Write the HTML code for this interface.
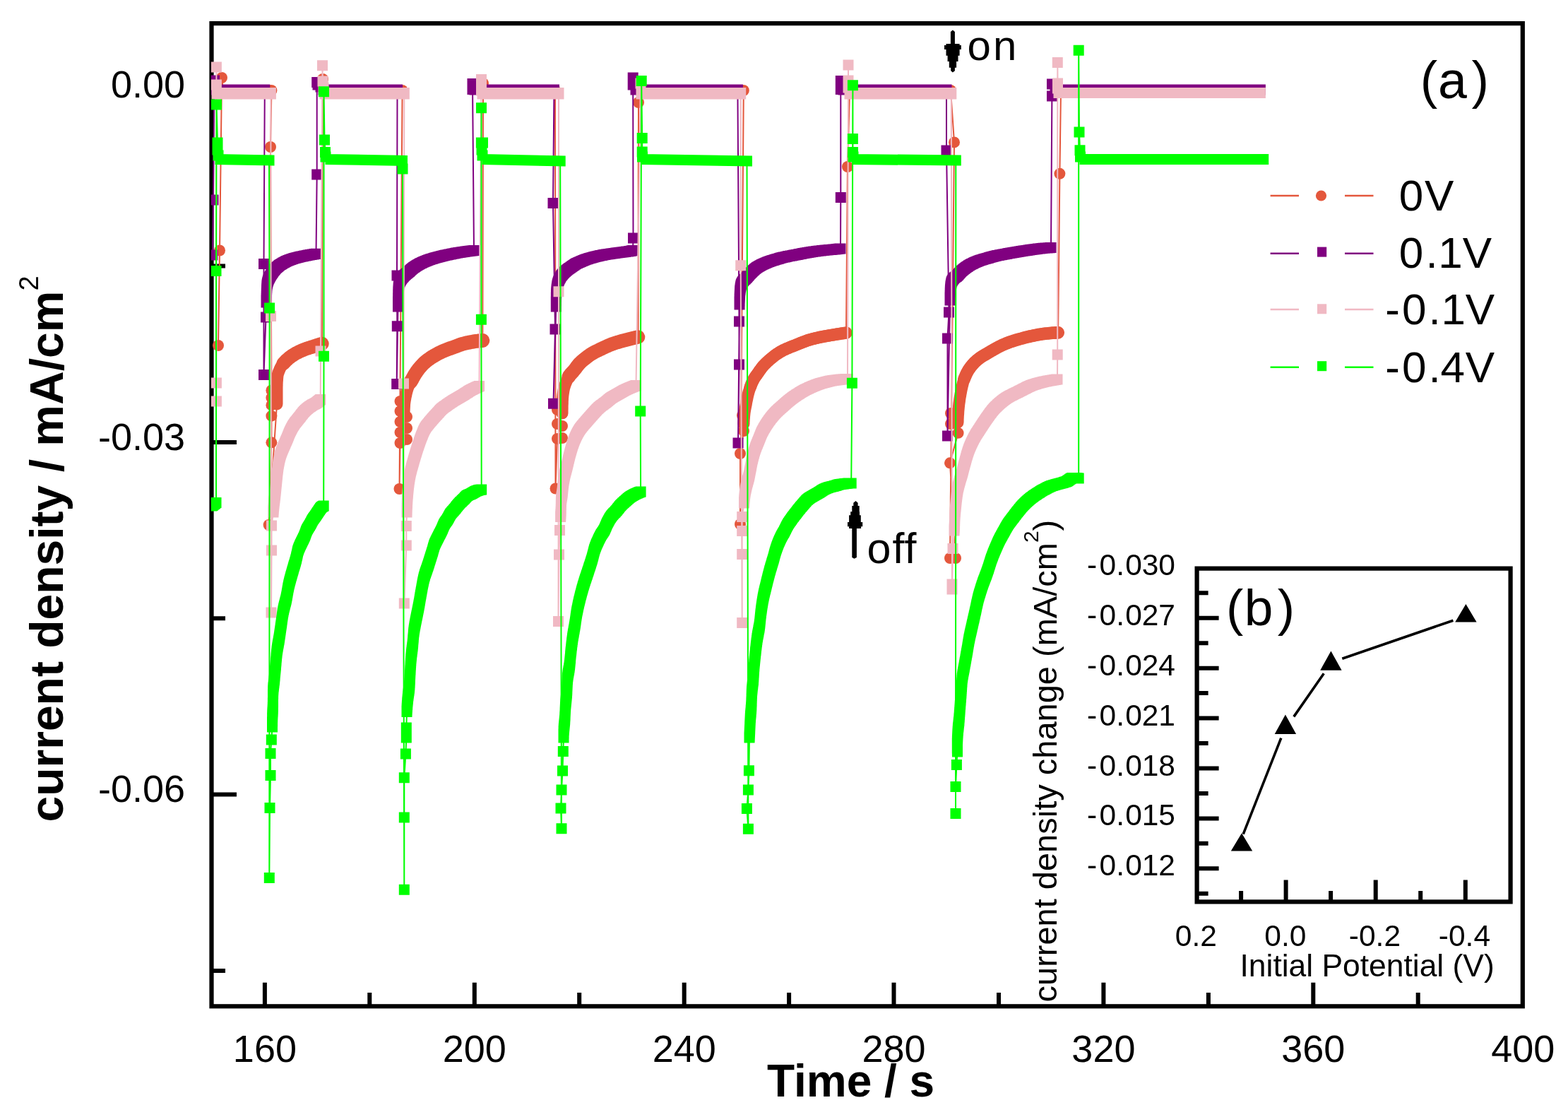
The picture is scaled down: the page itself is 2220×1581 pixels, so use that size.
<!DOCTYPE html>
<html><head><meta charset="utf-8"><title>plot</title>
<style>html,body{margin:0;padding:0;background:#fff;}svg{display:block;}</style>
</head><body>
<svg width="2220" height="1581" viewBox="0 0 2220 1581">
<rect width="2220" height="1581" fill="#fff"/>
<defs><clipPath id="cp"><rect x="298.8" y="33" width="1855" height="1390"/></clipPath></defs>
<rect x="299.5" y="33.1" width="1856.3" height="1391.2" fill="none" stroke="#000" stroke-width="6.2"/>
<path d="M374.9 1424.3V1390.8M523.3 1424.3V1405M671.8 1424.3V1390.8M820.2 1424.3V1405M968.7 1424.3V1390.8M1117.1 1424.3V1405M1265.5 1424.3V1390.8M1414 1424.3V1405M1562.4 1424.3V1390.8M1710.9 1424.3V1405M1859.3 1424.3V1390.8M2007.7 1424.3V1405M299.5 127.3H335M299.5 376.6H319M299.5 626H335M299.5 875.3H319M299.5 1124.6H335M299.5 1373.9H319" stroke="#000" stroke-width="6" fill="none"/>
<g clip-path="url(#cp)"><path d="M309 489 311 354.5 314 110 316 128 384.4 128 383 208 384.4 552.5 384.4 563 384.4 573.4 384.4 588.7 384.4 626.3 380.6 743 392 572 392 571 392 570 392 569 392 568 392 567 392 566 392 564.9 392 563.9 392 562.9 392 561.9 392 560.9 392 559.9 392 558.9 392 557.9 392 556.9 392 555.9 392 554.9 392 553.9 392 552.9 392 551.9 392 550.8 392 549.8 392 548.8 392 547.8 392 546.8 392.1 545.8 392.1 544.8 392.1 543.8 392.2 542.8 392.2 541.7 392.3 540.7 392.3 539.7 392.4 538.7 392.5 537.7 392.6 536.7 392.6 535.7 392.7 534.7 392.8 533.7 392.9 532.7 393 531.7 393.2 530.8 393.4 529.8 393.7 528.8 394 527.9 394.4 526.9 394.7 525.9 395.1 525 395.5 524.1 395.8 523.1 396.2 522.2 396.6 521.2 397.1 520.4 397.6 519.5 398.1 518.6 398.6 517.8 399.2 517 399.8 516.2 400.5 515.4 401.1 514.6 401.8 513.8 402.5 513.1 403.2 512.3 403.9 511.6 404.6 510.9 405.3 510.1 406 509.5 406.8 508.8 407.5 508.1 408.3 507.5 409 506.8 409.8 506.2 410.6 505.6 411.5 505 412.3 504.4 413.1 503.8 414 503.2 414.8 502.7 415.6 502.2 416.5 501.6 417.4 501.1 418.2 500.6 419.1 500.1 420 499.6 420.9 499.1 421.8 498.7 422.7 498.2 423.6 497.8 424.5 497.4 425.4 496.9 426.3 496.5 427.3 496.1 428.2 495.7 429.1 495.4 430.1 495 431 494.6 431.9 494.3 432.9 493.9 433.8 493.6 434.8 493.2 435.7 492.9 436.7 492.6 437.7 492.3 438.6 492 439.6 491.7 440.5 491.4 441.5 491.1 442.5 490.8 443.4 490.4 444.4 490.1 445.3 489.8 446.3 489.5 447.3 489.2 448.2 488.9 449.2 488.6 450.1 488.3 451.1 488 452.1 487.7 453 487.4 454 487.1 454.9 486.8 455.9 486.5 457 112 460 128 569.6 128 565.5 692 566.5 627 576 622 566.5 612 576 606 566.5 597 576 590 566.5 582 566.5 568 572 590 572 589 572 588 572 587 572 586 572.1 585 572.1 584 572.1 582.9 572.1 581.9 572.2 580.9 572.2 579.9 572.3 578.9 572.3 577.9 572.4 576.9 572.4 575.9 572.5 574.9 572.5 573.9 572.6 572.9 572.6 571.9 572.7 570.9 572.8 569.9 573 568.9 573.1 567.9 573.3 566.9 573.4 565.9 573.6 564.9 573.8 564 574 563 574.1 562 574.4 561 574.6 560 574.8 559 575 558 575.2 557.1 575.4 556.1 575.7 555.1 575.9 554.1 576.2 553.2 576.5 552.2 576.7 551.2 577.1 550.3 577.4 549.3 577.7 548.4 578.1 547.4 578.5 546.5 578.9 545.6 579.3 544.6 579.7 543.7 580.1 542.8 580.5 541.9 581 541.1 581.5 540.2 582.1 539.3 582.6 538.5 583.1 537.6 583.6 536.8 584.1 535.9 584.6 535 585 534.1 585.5 533.2 586 532.3 586.5 531.4 587 530.6 587.5 529.7 588 528.9 588.6 528 589.2 527.2 589.7 526.4 590.3 525.5 590.9 524.7 591.5 523.9 592.1 523.1 592.7 522.3 593.4 521.5 594 520.7 594.6 520 595.3 519.2 595.9 518.5 596.6 517.7 597.3 517 598 516.3 598.7 515.5 599.4 514.8 600.2 514.1 600.9 513.4 601.7 512.8 602.4 512.1 603.2 511.4 604 510.8 604.7 510.2 605.5 509.6 606.3 509 607.1 508.4 607.9 507.8 608.8 507.3 609.6 506.7 610.4 506.1 611.3 505.6 612.1 505 613 504.5 613.9 504 614.7 503.5 615.6 502.9 616.5 502.4 617.4 501.9 618.3 501.4 619.1 501 620 500.5 620.9 500 621.8 499.6 622.7 499.1 623.6 498.7 624.5 498.3 625.4 497.9 626.3 497.4 627.2 497 628.2 496.7 629.1 496.3 630 495.9 631 495.5 631.9 495.1 632.8 494.8 633.8 494.4 634.7 494.1 635.7 493.7 636.6 493.4 637.6 493 638.5 492.7 639.5 492.3 640.4 492 641.4 491.7 642.3 491.3 643.2 491 644.2 490.6 645.1 490.3 646.1 489.9 647 489.6 648 489.2 648.9 488.9 649.9 488.5 650.8 488.2 651.8 487.9 652.7 487.5 653.7 487.2 654.6 486.9 655.6 486.6 656.6 486.4 657.5 486.1 658.5 485.9 659.5 485.6 660.4 485.4 661.4 485.2 662.4 485 663.4 484.8 664.4 484.6 665.3 484.4 666.3 484.2 667.3 484.1 668.3 483.9 669.3 483.7 670.3 483.5 671.3 483.4 672.3 483.2 673.2 483.1 674.2 482.9 675.2 482.8 676.2 482.7 677.2 482.5 678.3 482.4 679.3 482.3 680.3 482.2 681.3 482.1 682.3 482.1 683.3 482 684 118 686 128 786 128 786.5 691.5 789 621 796 620 789 600 796 603 789 580 796 585 796 585 796 584 796 583 796 582 796 581 796 580 796.1 579 796.1 578 796.1 576.9 796.1 575.9 796.1 574.9 796.2 573.9 796.2 572.9 796.2 571.9 796.3 570.9 796.3 569.9 796.3 568.9 796.4 567.9 796.4 566.9 796.5 565.9 796.5 564.9 796.6 563.9 796.6 562.9 796.7 561.9 796.8 560.9 796.9 559.9 797 558.9 797.2 557.9 797.3 556.9 797.4 555.9 797.6 554.9 797.8 553.9 797.9 552.9 798.1 551.9 798.3 551 798.5 550 798.7 549 799 548.1 799.3 547.1 799.6 546.1 799.9 545.2 800.3 544.2 800.6 543.3 801 542.4 801.4 541.4 801.8 540.5 802.2 539.6 802.6 538.6 803 537.7 803.4 536.8 803.8 535.9 804.3 535 804.8 534.1 805.3 533.2 805.8 532.4 806.3 531.5 806.9 530.8 807.5 530 808.2 529.2 808.9 528.5 809.6 527.8 810.3 527 811 526.3 811.7 525.5 812.3 524.8 812.9 524 813.6 523.2 814.2 522.4 814.8 521.6 815.4 520.8 816 520 816.6 519.1 817.2 518.3 817.8 517.6 818.5 516.8 819.1 516 819.7 515.2 820.4 514.5 821.1 513.8 821.8 513.1 822.5 512.4 823.3 511.7 824 511.1 824.8 510.4 825.5 509.7 826.3 509.1 827.1 508.5 827.9 507.8 828.7 507.2 829.5 506.6 830.3 506 831.1 505.4 831.9 504.8 832.7 504.2 833.5 503.6 834.3 503 835.1 502.4 836 501.8 836.8 501.3 837.7 500.7 838.5 500.2 839.4 499.7 840.2 499.2 841.1 498.7 842 498.3 842.9 497.8 843.8 497.4 844.7 496.9 845.6 496.5 846.5 496.1 847.5 495.6 848.4 495.2 849.3 494.8 850.2 494.3 851.1 493.9 852 493.5 852.9 493 853.8 492.6 854.7 492.2 855.6 491.7 856.5 491.3 857.4 490.9 858.3 490.4 859.3 490 860.2 489.6 861.1 489.2 862 488.8 862.9 488.4 863.9 488 864.8 487.7 865.7 487.3 866.7 486.9 867.6 486.6 868.6 486.3 869.5 486 870.5 485.6 871.4 485.3 872.4 485 873.3 484.7 874.3 484.4 875.2 484.1 876.2 483.9 877.2 483.6 878.1 483.3 879.1 483 880.1 482.8 881.1 482.5 882 482.2 883 482 884 481.7 884.9 481.4 885.9 481.2 886.9 480.9 887.9 480.7 888.8 480.4 889.8 480.2 890.8 479.9 891.7 479.7 892.7 479.5 893.7 479.2 894.7 479 895.7 478.7 896.6 478.5 897.6 478.3 898.6 478.1 899.6 477.8 900.6 477.6 901.5 477.4 902.5 477.2 903.5 477 904 145 906 128 1052.8 128 1048 742 1048 642 1053 610 1051 588 1053 600 1053 599 1053 598 1053.1 597 1053.1 596 1053.2 595 1053.2 594 1053.3 593 1053.4 592 1053.4 591 1053.5 590 1053.6 589 1053.7 588 1053.8 587 1053.9 586 1054 585 1054.1 584 1054.2 583 1054.4 582 1054.5 581 1054.7 580.1 1054.9 579.1 1055.1 578.1 1055.3 577.1 1055.5 576.1 1055.7 575.1 1055.9 574.1 1056.1 573.2 1056.3 572.2 1056.4 571.2 1056.6 570.2 1056.8 569.2 1057 568.2 1057.2 567.2 1057.4 566.3 1057.6 565.3 1057.8 564.3 1058 563.3 1058.2 562.3 1058.4 561.3 1058.6 560.4 1058.9 559.4 1059.1 558.4 1059.3 557.5 1059.6 556.5 1059.9 555.5 1060.1 554.6 1060.4 553.6 1060.7 552.7 1061 551.7 1061.3 550.7 1061.6 549.8 1061.9 548.8 1062.3 547.9 1062.6 546.9 1063 546 1063.4 545 1063.7 544.1 1064.1 543.2 1064.5 542.2 1064.9 541.3 1065.3 540.4 1065.8 539.5 1066.2 538.6 1066.6 537.7 1067.1 536.9 1067.6 536 1068.1 535.1 1068.6 534.3 1069.2 533.5 1069.8 532.7 1070.4 531.8 1071 531 1071.6 530.2 1072.1 529.4 1072.7 528.6 1073.3 527.7 1073.9 526.9 1074.4 526.1 1075 525.3 1075.6 524.4 1076.2 523.6 1076.8 522.8 1077.4 522 1078 521.2 1078.6 520.4 1079.2 519.6 1079.8 518.8 1080.5 518.1 1081.1 517.3 1081.8 516.6 1082.5 515.9 1083.2 515.2 1083.9 514.5 1084.6 513.8 1085.3 513.1 1086.1 512.4 1086.8 511.7 1087.6 511 1088.3 510.4 1089.1 509.7 1089.8 509 1090.6 508.4 1091.3 507.7 1092.1 507.1 1092.9 506.4 1093.7 505.8 1094.4 505.2 1095.2 504.5 1096 503.9 1096.8 503.3 1097.6 502.7 1098.4 502.1 1099.2 501.6 1100.1 501 1100.9 500.4 1101.7 499.9 1102.6 499.4 1103.4 498.8 1104.3 498.3 1105.2 497.8 1106 497.3 1106.9 496.8 1107.8 496.3 1108.7 495.9 1109.6 495.4 1110.5 495 1111.4 494.6 1112.3 494.2 1113.2 493.7 1114.1 493.3 1115 493 1115.9 492.6 1116.9 492.2 1117.8 491.8 1118.7 491.4 1119.7 491.1 1120.6 490.7 1121.5 490.3 1122.5 490 1123.4 489.6 1124.4 489.2 1125.3 488.9 1126.2 488.5 1127.1 488.1 1128.1 487.7 1129 487.4 1129.9 487 1130.9 486.6 1131.8 486.2 1132.7 485.8 1133.7 485.5 1134.6 485.1 1135.5 484.7 1136.5 484.3 1137.4 484 1138.3 483.6 1139.3 483.3 1140.2 482.9 1141.1 482.6 1142.1 482.3 1143 481.9 1144 481.6 1144.9 481.3 1145.9 481.1 1146.9 480.8 1147.8 480.5 1148.8 480.2 1149.7 480 1150.7 479.7 1151.7 479.5 1152.7 479.2 1153.6 479 1154.6 478.7 1155.6 478.5 1156.6 478.3 1157.5 478.1 1158.5 477.8 1159.5 477.6 1160.5 477.4 1161.5 477.2 1162.4 477 1163.4 476.8 1164.4 476.6 1165.4 476.4 1166.4 476.2 1167.3 476 1168.3 475.9 1169.3 475.7 1170.3 475.5 1171.3 475.3 1172.3 475.2 1173.3 475 1174.3 474.8 1175.3 474.7 1176.2 474.5 1177.2 474.4 1178.2 474.2 1179.2 474 1180.2 473.9 1181.2 473.7 1182.2 473.5 1183.2 473.4 1184.1 473.2 1185.1 473 1186.1 472.9 1187.1 472.7 1188.1 472.6 1189.1 472.4 1190.1 472.2 1191.1 472.1 1192.1 471.9 1193.1 471.8 1194 471.6 1195 471.5 1196 471.3 1197 471.2 1198 471 1200 236 1203 128 1346 128 1351 201.4 1345 790 1353 790 1345 655.3 1356.6 612.8 1346 600 1346 585 1356 588 1356 598 1356 597 1356.1 596 1356.1 595 1356.1 594 1356.2 593 1356.2 592 1356.3 591 1356.3 590 1356.4 589 1356.4 588 1356.5 587 1356.6 586 1356.6 585 1356.7 584 1356.8 583 1356.8 582 1356.9 581 1357 580 1357.1 579 1357.2 578 1357.3 577 1357.4 576 1357.5 575 1357.6 574 1357.7 573.1 1357.8 572.1 1358 571.1 1358.1 570.1 1358.2 569.1 1358.4 568.1 1358.5 567.1 1358.6 566.1 1358.8 565.1 1358.9 564.1 1359.1 563.1 1359.2 562.2 1359.4 561.2 1359.6 560.2 1359.7 559.2 1359.9 558.2 1360.1 557.2 1360.3 556.2 1360.4 555.3 1360.6 554.3 1360.8 553.3 1361 552.3 1361.2 551.3 1361.4 550.3 1361.6 549.4 1361.9 548.4 1362.1 547.4 1362.3 546.4 1362.5 545.4 1362.8 544.5 1363 543.5 1363.3 542.5 1363.5 541.6 1363.8 540.6 1364.1 539.7 1364.4 538.7 1364.7 537.8 1365 536.8 1365.4 535.9 1365.7 534.9 1366.1 534 1366.5 533.1 1366.9 532.1 1367.3 531.2 1367.7 530.3 1368.1 529.4 1368.6 528.5 1369 527.6 1369.5 526.7 1369.9 525.9 1370.4 525 1370.9 524.2 1371.5 523.3 1372 522.5 1372.6 521.6 1373.2 520.8 1373.8 520 1374.4 519.2 1375 518.4 1375.7 517.6 1376.3 516.8 1376.9 516.1 1377.6 515.3 1378.3 514.6 1378.9 513.9 1379.6 513.1 1380.3 512.4 1381.1 511.7 1381.8 511.1 1382.5 510.4 1383.3 509.7 1384.1 509.1 1384.9 508.5 1385.7 507.8 1386.5 507.2 1387.3 506.6 1388.1 506 1388.9 505.5 1389.7 504.9 1390.6 504.4 1391.4 503.9 1392.3 503.4 1393.2 502.9 1394 502.4 1394.9 501.9 1395.8 501.4 1396.7 500.9 1397.5 500.4 1398.4 499.9 1399.2 499.4 1400.1 498.8 1400.9 498.3 1401.8 497.8 1402.6 497.3 1403.5 496.8 1404.4 496.3 1405.2 495.8 1406.1 495.3 1407 494.8 1407.9 494.3 1408.7 493.8 1409.6 493.3 1410.5 492.9 1411.4 492.4 1412.3 491.9 1413.1 491.4 1414 491 1414.9 490.5 1415.8 490.1 1416.7 489.6 1417.6 489.2 1418.5 488.7 1419.4 488.3 1420.3 487.9 1421.2 487.5 1422.2 487.1 1423.1 486.7 1424 486.3 1424.9 485.9 1425.8 485.6 1426.8 485.2 1427.7 484.9 1428.6 484.5 1429.6 484.2 1430.5 483.9 1431.5 483.5 1432.4 483.2 1433.4 482.9 1434.3 482.6 1435.3 482.3 1436.3 482 1437.2 481.7 1438.2 481.4 1439.1 481.1 1440.1 480.9 1441.1 480.6 1442 480.3 1443 480 1443.9 479.8 1444.9 479.5 1445.9 479.2 1446.8 479 1447.8 478.7 1448.8 478.4 1449.7 478.2 1450.7 477.9 1451.7 477.7 1452.6 477.4 1453.6 477.2 1454.6 476.9 1455.6 476.7 1456.5 476.5 1457.5 476.2 1458.5 476 1459.5 475.8 1460.4 475.6 1461.4 475.4 1462.4 475.2 1463.4 475 1464.4 474.8 1465.3 474.6 1466.3 474.4 1467.3 474.2 1468.3 474 1469.3 473.8 1470.3 473.6 1471.2 473.5 1472.2 473.3 1473.2 473.1 1474.2 473 1475.2 472.8 1476.2 472.7 1477.2 472.5 1478.2 472.4 1479.2 472.3 1480.1 472.2 1481.1 472.1 1482.1 472 1483.1 471.9 1484.1 471.8 1485.1 471.7 1486.1 471.6 1487.1 471.5 1488.1 471.4 1489.1 471.3 1490.1 471.2 1491.1 471.2 1492.1 471.1 1493.1 471 1494.1 471 1495.1 470.9 1496.1 470.9 1497.1 470.8 1498.1 470.8 1500.4 245.8 1502 128 1784 128" fill="none" stroke="#E4573C" stroke-width="2"/>
<path d="M316 128L384.4 128" stroke="#E4573C" stroke-width="16" stroke-linecap="round" fill="none"/>
<path d="M460 128L569.6 128" stroke="#E4573C" stroke-width="16" stroke-linecap="round" fill="none"/>
<path d="M686 128L786 128" stroke="#E4573C" stroke-width="16" stroke-linecap="round" fill="none"/>
<path d="M906 128L1052.8 128" stroke="#E4573C" stroke-width="16" stroke-linecap="round" fill="none"/>
<path d="M1203 128L1346 128" stroke="#E4573C" stroke-width="16" stroke-linecap="round" fill="none"/>
<path d="M1502 128L1784 128" stroke="#E4573C" stroke-width="16" stroke-linecap="round" fill="none"/>
<path d="M392 572 392 570 392 568 392 566 392 563.9 392 561.9 392 559.9 392 557.9 392 555.9 392 553.9 392 551.9 392 549.8 392 547.8 392.1 545.8 392.1 543.8 392.2 541.7 392.3 539.7 392.5 537.7 392.6 535.7 392.8 533.7 393 531.7 393.4 529.8 394 527.9 394.7 525.9 395.5 524.1 396.2 522.2 397.1 520.4 398.1 518.6 399.2 517 400.5 515.4 401.8 513.8 403.2 512.3 404.6 510.9 406 509.5 407.5 508.1 409 506.8 410.6 505.6 412.3 504.4 414 503.2 415.6 502.2 417.4 501.1 419.1 500.1 420.9 499.1 422.7 498.2 424.5 497.4 426.3 496.5 428.2 495.7 430.1 495 431.9 494.3 433.8 493.6 435.7 492.9 437.7 492.3 439.6 491.7 441.5 491.1 443.4 490.4 445.3 489.8 447.3 489.2 449.2 488.6 451.1 488 453 487.4 454.9 486.8 455.9 486.5" stroke="#E4573C" stroke-width="17" stroke-linecap="round" stroke-linejoin="round" fill="none"/>
<path d="M401.1 514.6 402.5 513.1 403.9 511.6 405.3 510.1 406.8 508.8 408.3 507.5 409.8 506.2 411.5 505 413.1 503.8 414.8 502.7 416.5 501.6 418.2 500.6 420 499.6 421.8 498.7 423.6 497.8 425.4 496.9 427.3 496.1 429.1 495.4 431 494.6 432.9 493.9 434.8 493.2 436.7 492.6 438.6 492 440.5 491.4 442.5 490.8 444.4 490.1 446.3 489.5 448.2 488.9 450.1 488.3 452.1 487.7 454 487.1 455.9 486.5 455.9 486.5" stroke="#E4573C" stroke-width="19.5" stroke-linecap="round" stroke-linejoin="round" fill="none"/>
<path d="M572 590 572 588 572 586 572.1 584 572.1 581.9 572.2 579.9 572.3 577.9 572.4 575.9 572.5 573.9 572.6 571.9 572.8 569.9 573.1 567.9 573.4 565.9 573.8 564 574.1 562 574.6 560 575 558 575.4 556.1 575.9 554.1 576.5 552.2 577.1 550.3 577.7 548.4 578.5 546.5 579.3 544.6 580.1 542.8 581 541.1 582.1 539.3 583.1 537.6 584.1 535.9 585 534.1 586 532.3 587 530.6 588 528.9 589.2 527.2 590.3 525.5 591.5 523.9 592.7 522.3 594 520.7 595.3 519.2 596.6 517.7 598 516.3 599.4 514.8 600.9 513.4 602.4 512.1 604 510.8 605.5 509.6 607.1 508.4 608.8 507.3 610.4 506.1 612.1 505 613.9 504 615.6 502.9 617.4 501.9 619.1 501 620.9 500 622.7 499.1 624.5 498.3 626.3 497.4 628.2 496.7 630 495.9 631.9 495.1 633.8 494.4 635.7 493.7 637.6 493 639.5 492.3 641.4 491.7 643.2 491 645.1 490.3 647 489.6 648.9 488.9 650.8 488.2 652.7 487.5 654.6 486.9 656.6 486.4 658.5 485.9 660.4 485.4 662.4 485 664.4 484.6 666.3 484.2 668.3 483.9 670.3 483.5 672.3 483.2 674.2 482.9 676.2 482.7 678.3 482.4 680.3 482.2 682.3 482.1 683.3 482" stroke="#E4573C" stroke-width="17" stroke-linecap="round" stroke-linejoin="round" fill="none"/>
<path d="M581 541.1 582.1 539.3 583.1 537.6 584.1 535.9 585 534.1 586 532.3 587 530.6 588 528.9 589.2 527.2 590.3 525.5 591.5 523.9 592.7 522.3 594 520.7 595.3 519.2 596.6 517.7 598 516.3 599.4 514.8 600.9 513.4 602.4 512.1 604 510.8 605.5 509.6 607.1 508.4 608.8 507.3 610.4 506.1 612.1 505 613.9 504 615.6 502.9 617.4 501.9 619.1 501 620.9 500 622.7 499.1 624.5 498.3 626.3 497.4 628.2 496.7 630 495.9 631.9 495.1 633.8 494.4 635.7 493.7 637.6 493 639.5 492.3 641.4 491.7 643.2 491 645.1 490.3 647 489.6 648.9 488.9 650.8 488.2 652.7 487.5 654.6 486.9 656.6 486.4 658.5 485.9 660.4 485.4 662.4 485 664.4 484.6 666.3 484.2 668.3 483.9 670.3 483.5 672.3 483.2 674.2 482.9 676.2 482.7 678.3 482.4 680.3 482.2 682.3 482.1 683.3 482" stroke="#E4573C" stroke-width="20" stroke-linecap="round" stroke-linejoin="round" fill="none"/>
<path d="M796 585 796 583 796 581 796.1 579 796.1 576.9 796.1 574.9 796.2 572.9 796.3 570.9 796.3 568.9 796.4 566.9 796.5 564.9 796.6 562.9 796.8 560.9 797 558.9 797.3 556.9 797.6 554.9 797.9 552.9 798.3 551 798.7 549 799.3 547.1 799.9 545.2 800.6 543.3 801.4 541.4 802.2 539.6 803 537.7 803.8 535.9 804.8 534.1 805.8 532.4 806.9 530.8 808.2 529.2 809.6 527.8 811 526.3 812.3 524.8 813.6 523.2 814.8 521.6 816 520 817.2 518.3 818.5 516.8 819.7 515.2 821.1 513.8 822.5 512.4 824 511.1 825.5 509.7 827.1 508.5 828.7 507.2 830.3 506 831.9 504.8 833.5 503.6 835.1 502.4 836.8 501.3 838.5 500.2 840.2 499.2 842 498.3 843.8 497.4 845.6 496.5 847.5 495.6 849.3 494.8 851.1 493.9 852.9 493 854.7 492.2 856.5 491.3 858.3 490.4 860.2 489.6 862 488.8 863.9 488 865.7 487.3 867.6 486.6 869.5 486 871.4 485.3 873.3 484.7 875.2 484.1 877.2 483.6 879.1 483 881.1 482.5 883 482 884.9 481.4 886.9 480.9 888.8 480.4 890.8 479.9 892.7 479.5 894.7 479 896.6 478.5 898.6 478.1 900.6 477.6 902.5 477.2 903.5 477" stroke="#E4573C" stroke-width="17" stroke-linecap="round" stroke-linejoin="round" fill="none"/>
<path d="M805.3 533.2 806.3 531.5 807.5 530 808.9 528.5 810.3 527 811.7 525.5 812.9 524 814.2 522.4 815.4 520.8 816.6 519.1 817.8 517.6 819.1 516 820.4 514.5 821.8 513.1 823.3 511.7 824.8 510.4 826.3 509.1 827.9 507.8 829.5 506.6 831.1 505.4 832.7 504.2 834.3 503 836 501.8 837.7 500.7 839.4 499.7 841.1 498.7 842.9 497.8 844.7 496.9 846.5 496.1 848.4 495.2 850.2 494.3 852 493.5 853.8 492.6 855.6 491.7 857.4 490.9 859.3 490 861.1 489.2 862.9 488.4 864.8 487.7 866.7 486.9 868.6 486.3 870.5 485.6 872.4 485 874.3 484.4 876.2 483.9 878.1 483.3 880.1 482.8 882 482.2 884 481.7 885.9 481.2 887.9 480.7 889.8 480.2 891.7 479.7 893.7 479.2 895.7 478.7 897.6 478.3 899.6 477.8 901.5 477.4 903.5 477 903.5 477" stroke="#E4573C" stroke-width="19.6" stroke-linecap="round" stroke-linejoin="round" fill="none"/>
<path d="M1053 600 1053 598 1053.1 596 1053.2 594 1053.4 592 1053.5 590 1053.7 588 1053.9 586 1054.1 584 1054.4 582 1054.7 580.1 1055.1 578.1 1055.5 576.1 1055.9 574.1 1056.3 572.2 1056.6 570.2 1057 568.2 1057.4 566.3 1057.8 564.3 1058.2 562.3 1058.6 560.4 1059.1 558.4 1059.6 556.5 1060.1 554.6 1060.7 552.7 1061.3 550.7 1061.9 548.8 1062.6 546.9 1063.4 545 1064.1 543.2 1064.9 541.3 1065.8 539.5 1066.6 537.7 1067.6 536 1068.6 534.3 1069.8 532.7 1071 531 1072.1 529.4 1073.3 527.7 1074.4 526.1 1075.6 524.4 1076.8 522.8 1078 521.2 1079.2 519.6 1080.5 518.1 1081.8 516.6 1083.2 515.2 1084.6 513.8 1086.1 512.4 1087.6 511 1089.1 509.7 1090.6 508.4 1092.1 507.1 1093.7 505.8 1095.2 504.5 1096.8 503.3 1098.4 502.1 1100.1 501 1101.7 499.9 1103.4 498.8 1105.2 497.8 1106.9 496.8 1108.7 495.9 1110.5 495 1112.3 494.2 1114.1 493.3 1115.9 492.6 1117.8 491.8 1119.7 491.1 1121.5 490.3 1123.4 489.6 1125.3 488.9 1127.1 488.1 1129 487.4 1130.9 486.6 1132.7 485.8 1134.6 485.1 1136.5 484.3 1138.3 483.6 1140.2 482.9 1142.1 482.3 1144 481.6 1145.9 481.1 1147.8 480.5 1149.7 480 1151.7 479.5 1153.6 479 1155.6 478.5 1157.5 478.1 1159.5 477.6 1161.5 477.2 1163.4 476.8 1165.4 476.4 1167.3 476 1169.3 475.7 1171.3 475.3 1173.3 475 1175.3 474.7 1177.2 474.4 1179.2 474 1181.2 473.7 1183.2 473.4 1185.1 473 1187.1 472.7 1189.1 472.4 1191.1 472.1 1193.1 471.8 1195 471.5 1197 471.2 1198 471" stroke="#E4573C" stroke-width="17" stroke-linecap="round" stroke-linejoin="round" fill="none"/>
<path d="M1062.3 547.9 1063 546 1063.7 544.1 1064.5 542.2 1065.3 540.4 1066.2 538.6 1067.1 536.9 1068.1 535.1 1069.2 533.5 1070.4 531.8 1071.6 530.2 1072.7 528.6 1073.9 526.9 1075 525.3 1076.2 523.6 1077.4 522 1078.6 520.4 1079.8 518.8 1081.1 517.3 1082.5 515.9 1083.9 514.5 1085.3 513.1 1086.8 511.7 1088.3 510.4 1089.8 509 1091.3 507.7 1092.9 506.4 1094.4 505.2 1096 503.9 1097.6 502.7 1099.2 501.6 1100.9 500.4 1102.6 499.4 1104.3 498.3 1106 497.3 1107.8 496.3 1109.6 495.4 1111.4 494.6 1113.2 493.7 1115 493 1116.9 492.2 1118.7 491.4 1120.6 490.7 1122.5 490 1124.4 489.2 1126.2 488.5 1128.1 487.7 1129.9 487 1131.8 486.2 1133.7 485.5 1135.5 484.7 1137.4 484 1139.3 483.3 1141.1 482.6 1143 481.9 1144.9 481.3 1146.9 480.8 1148.8 480.2 1150.7 479.7 1152.7 479.2 1154.6 478.7 1156.6 478.3 1158.5 477.8 1160.5 477.4 1162.4 477 1164.4 476.6 1166.4 476.2 1168.3 475.9 1170.3 475.5 1172.3 475.2 1174.3 474.8 1176.2 474.5 1178.2 474.2 1180.2 473.9 1182.2 473.5 1184.1 473.2 1186.1 472.9 1188.1 472.6 1190.1 472.2 1192.1 471.9 1194 471.6 1196 471.3 1198 471 1198 471" stroke="#E4573C" stroke-width="17.4" stroke-linecap="round" stroke-linejoin="round" fill="none"/>
<path d="M1356 598 1356.1 596 1356.1 594 1356.2 592 1356.3 590 1356.4 588 1356.6 586 1356.7 584 1356.8 582 1357 580 1357.2 578 1357.4 576 1357.6 574 1357.8 572.1 1358.1 570.1 1358.4 568.1 1358.6 566.1 1358.9 564.1 1359.2 562.2 1359.6 560.2 1359.9 558.2 1360.3 556.2 1360.6 554.3 1361 552.3 1361.4 550.3 1361.9 548.4 1362.3 546.4 1362.8 544.5 1363.3 542.5 1363.8 540.6 1364.4 538.7 1365 536.8 1365.7 534.9 1366.5 533.1 1367.3 531.2 1368.1 529.4 1369 527.6 1369.9 525.9 1370.9 524.2 1372 522.5 1373.2 520.8 1374.4 519.2 1375.7 517.6 1376.9 516.1 1378.3 514.6 1379.6 513.1 1381.1 511.7 1382.5 510.4 1384.1 509.1 1385.7 507.8 1387.3 506.6 1388.9 505.5 1390.6 504.4 1392.3 503.4 1394 502.4 1395.8 501.4 1397.5 500.4 1399.2 499.4 1400.9 498.3 1402.6 497.3 1404.4 496.3 1406.1 495.3 1407.9 494.3 1409.6 493.3 1411.4 492.4 1413.1 491.4 1414.9 490.5 1416.7 489.6 1418.5 488.7 1420.3 487.9 1422.2 487.1 1424 486.3 1425.8 485.6 1427.7 484.9 1429.6 484.2 1431.5 483.5 1433.4 482.9 1435.3 482.3 1437.2 481.7 1439.1 481.1 1441.1 480.6 1443 480 1444.9 479.5 1446.8 479 1448.8 478.4 1450.7 477.9 1452.6 477.4 1454.6 476.9 1456.5 476.5 1458.5 476 1460.4 475.6 1462.4 475.2 1464.4 474.8 1466.3 474.4 1468.3 474 1470.3 473.6 1472.2 473.3 1474.2 473 1476.2 472.7 1478.2 472.4 1480.1 472.2 1482.1 472 1484.1 471.8 1486.1 471.6 1488.1 471.4 1490.1 471.2 1492.1 471.1 1494.1 471 1496.1 470.9 1498.1 470.8 1498.1 470.8" stroke="#E4573C" stroke-width="17" stroke-linecap="round" stroke-linejoin="round" fill="none"/>
<path d="M1365 536.8 1365.7 534.9 1366.5 533.1 1367.3 531.2 1368.1 529.4 1369 527.6 1369.9 525.9 1370.9 524.2 1372 522.5 1373.2 520.8 1374.4 519.2 1375.7 517.6 1376.9 516.1 1378.3 514.6 1379.6 513.1 1381.1 511.7 1382.5 510.4 1384.1 509.1 1385.7 507.8 1387.3 506.6 1388.9 505.5 1390.6 504.4 1392.3 503.4 1394 502.4 1395.8 501.4 1397.5 500.4 1399.2 499.4 1400.9 498.3 1402.6 497.3 1404.4 496.3 1406.1 495.3 1407.9 494.3 1409.6 493.3 1411.4 492.4 1413.1 491.4 1414.9 490.5 1416.7 489.6 1418.5 488.7 1420.3 487.9 1422.2 487.1 1424 486.3 1425.8 485.6 1427.7 484.9 1429.6 484.2 1431.5 483.5 1433.4 482.9 1435.3 482.3 1437.2 481.7 1439.1 481.1 1441.1 480.6 1443 480 1444.9 479.5 1446.8 479 1448.8 478.4 1450.7 477.9 1452.6 477.4 1454.6 476.9 1456.5 476.5 1458.5 476 1460.4 475.6 1462.4 475.2 1464.4 474.8 1466.3 474.4 1468.3 474 1470.3 473.6 1472.2 473.3 1474.2 473 1476.2 472.7 1478.2 472.4 1480.1 472.2 1482.1 472 1484.1 471.8 1486.1 471.6 1488.1 471.4 1490.1 471.2 1492.1 471.1 1494.1 471 1496.1 470.9 1498.1 470.8 1498.1 470.8" stroke="#E4573C" stroke-width="17.8" stroke-linecap="round" stroke-linejoin="round" fill="none"/>
<g fill="#E4573C"><circle cx="309" cy="489" r="8"/><circle cx="311" cy="354.5" r="8"/><circle cx="314" cy="110" r="8"/><circle cx="383" cy="208" r="8"/><circle cx="384.4" cy="552.5" r="8"/><circle cx="384.4" cy="563" r="8"/><circle cx="384.4" cy="573.4" r="8"/><circle cx="384.4" cy="588.7" r="8"/><circle cx="384.4" cy="626.3" r="8"/><circle cx="380.6" cy="743" r="8"/><circle cx="457" cy="112" r="8"/><circle cx="565.5" cy="692" r="8"/><circle cx="566.5" cy="627" r="8"/><circle cx="576" cy="622" r="8"/><circle cx="566.5" cy="612" r="8"/><circle cx="576" cy="606" r="8"/><circle cx="566.5" cy="597" r="8"/><circle cx="576" cy="590" r="8"/><circle cx="566.5" cy="582" r="8"/><circle cx="566.5" cy="568" r="8"/><circle cx="684" cy="118" r="8"/><circle cx="786.5" cy="691.5" r="8"/><circle cx="789" cy="621" r="8"/><circle cx="796" cy="620" r="8"/><circle cx="789" cy="600" r="8"/><circle cx="796" cy="603" r="8"/><circle cx="789" cy="580" r="8"/><circle cx="796" cy="585" r="8"/><circle cx="904" cy="145" r="8"/><circle cx="1048" cy="742" r="8"/><circle cx="1048" cy="642" r="8"/><circle cx="1053" cy="610" r="8"/><circle cx="1051" cy="588" r="8"/><circle cx="1200" cy="236" r="8"/><circle cx="1351" cy="201.4" r="8"/><circle cx="1345" cy="790" r="8"/><circle cx="1353" cy="790" r="8"/><circle cx="1345" cy="655.3" r="8"/><circle cx="1356.6" cy="612.8" r="8"/><circle cx="1346" cy="600" r="8"/><circle cx="1346" cy="585" r="8"/><circle cx="1356" cy="588" r="8"/><circle cx="1500.4" cy="245.8" r="8"/></g>
<path d="M301 361 302 283 303.5 114 304 127 374.8 127 373.5 373.5 373.5 530.5 376.5 449 377 428 377 427 377 426 377 425 377.1 424 377.1 423 377.1 422 377.2 421 377.2 420 377.2 419 377.3 418 377.3 417 377.3 416 377.4 415 377.4 414 377.5 413 377.5 412 377.5 411 377.6 410 377.6 409 377.7 408 377.8 407 377.8 406 377.9 405 378 404 378.1 403 378.3 402 378.5 401 378.7 400 379 399.1 379.3 398.1 379.6 397.2 379.9 396.3 380.3 395.3 380.7 394.4 381.2 393.5 381.6 392.6 382.1 391.7 382.6 390.8 383.1 390 383.6 389.1 384.1 388.3 384.7 387.4 385.2 386.6 385.8 385.7 386.4 384.9 386.9 384.1 387.6 383.3 388.2 382.5 388.8 381.7 389.5 381 390.1 380.2 390.8 379.5 391.6 378.8 392.3 378.2 393.1 377.5 393.8 376.9 394.6 376.2 395.4 375.6 396.2 375 397.1 374.5 397.9 373.9 398.7 373.4 399.6 372.9 400.5 372.3 401.3 371.9 402.2 371.4 403.1 370.9 404 370.5 404.9 370 405.8 369.6 406.7 369.2 407.7 368.8 408.6 368.5 409.5 368.1 410.5 367.7 411.4 367.4 412.3 367.1 413.3 366.7 414.2 366.4 415.2 366.1 416.2 365.8 417.1 365.6 418.1 365.3 419 365 420 364.8 421 364.5 422 364.3 422.9 364 423.9 363.8 424.9 363.5 425.8 363.3 426.8 363.1 427.8 362.9 428.8 362.7 429.8 362.5 430.7 362.3 431.7 362.1 432.7 361.9 433.7 361.7 434.7 361.5 435.7 361.3 436.6 361.1 437.6 360.9 438.6 360.7 439.6 360.6 440.6 360.4 441.6 360.2 442.6 360.1 443.5 359.9 444.5 359.8 445.5 359.6 446.5 359.4 447.5 359.3 448.7 247 448.7 116.5 450 120 454 123 458 127 562.5 127 562 390 562.3 461.7 561.7 543.4 563.5 434 563.5 433 563.5 432 563.5 431 563.5 430 563.5 429 563.5 428 563.5 427 563.6 426 563.6 425 563.6 424 563.6 423 563.6 422 563.7 421 563.7 420 563.7 419 563.7 418 563.7 417 563.8 416 563.8 415 563.8 414 563.9 413 563.9 412 564 410.9 564.1 409.9 564.1 408.9 564.2 407.9 564.3 406.9 564.4 405.9 564.6 404.9 564.7 403.9 564.8 403 565 402 565.2 401.1 565.5 400.1 565.9 399.2 566.3 398.3 566.8 397.3 567.3 396.5 567.8 395.6 568.4 394.8 568.9 394 569.5 393.2 570.2 392.4 570.9 391.7 571.6 390.9 572.3 390.2 573 389.5 573.7 388.8 574.5 388.2 575.2 387.5 576 386.9 576.8 386.3 577.6 385.7 578.4 385 579.1 384.4 579.9 383.7 580.6 383 581.4 382.3 582.1 381.6 582.8 381 583.6 380.3 584.4 379.7 585.2 379.1 586 378.5 586.8 377.9 587.6 377.4 588.5 376.8 589.3 376.3 590.2 375.8 591 375.2 591.9 374.7 592.8 374.2 593.6 373.7 594.5 373.3 595.4 372.8 596.3 372.4 597.2 371.9 598.1 371.5 599 371.1 599.9 370.7 600.8 370.3 601.8 369.9 602.7 369.5 603.6 369.2 604.6 368.8 605.5 368.5 606.4 368.1 607.4 367.8 608.3 367.4 609.3 367.1 610.2 366.8 611.2 366.5 612.1 366.2 613.1 365.9 614.1 365.6 615 365.3 616 365 616.9 364.7 617.9 364.5 618.9 364.2 619.8 363.9 620.8 363.7 621.8 363.4 622.7 363.2 623.7 362.9 624.7 362.7 625.6 362.5 626.6 362.2 627.6 362 628.6 361.8 629.6 361.5 630.5 361.3 631.5 361.1 632.5 360.9 633.5 360.7 634.4 360.5 635.4 360.3 636.4 360.1 637.4 359.9 638.4 359.7 639.3 359.5 640.3 359.3 641.3 359.1 642.3 358.9 643.3 358.7 644.3 358.5 645.2 358.3 646.2 358.1 647.2 358 648.2 357.8 649.2 357.6 650.2 357.5 651.2 357.3 652.1 357.2 653.1 357 654.1 356.8 655.1 356.7 656.1 356.5 657.1 356.4 658.1 356.3 659.1 356.1 660.1 356 661.1 355.8 662.1 355.7 663 355.6 664 355.4 665 355.3 666 355.2 667 355.1 668 354.9 669 354.8 670 354.7 671 354.6 669 118.5 669 126.5 672 127 784.5 127 783 287.5 786 466 783.5 571.3 787.3 434 787.3 433 787.3 432 787.3 431 787.3 430 787.3 429 787.3 428 787.3 427 787.4 426 787.4 425 787.4 424 787.4 423 787.4 422 787.4 421 787.5 420 787.5 419 787.5 418 787.5 417 787.6 416 787.6 415 787.7 414 787.8 413 787.9 412 788 411 788.1 410 788.2 409 788.4 408 788.5 407 788.7 406 788.8 405.1 789 404.1 789.2 403.1 789.4 402.1 789.7 401.2 790 400.2 790.3 399.3 790.7 398.3 791 397.4 791.4 396.5 791.8 395.5 792.2 394.6 792.7 393.7 793.2 392.9 793.7 392 794.2 391.1 794.8 390.3 795.4 389.5 796 388.7 796.6 388 797.3 387.2 798 386.5 798.7 385.8 799.4 385.1 800.1 384.4 800.9 383.7 801.7 383.1 802.4 382.5 803.2 381.8 804 381.2 804.8 380.6 805.6 380 806.4 379.4 807.3 378.9 808.1 378.3 808.9 377.7 809.7 377.2 810.6 376.6 811.4 376 812.2 375.4 813 374.9 813.8 374.3 814.7 373.8 815.5 373.3 816.4 372.8 817.3 372.4 818.2 372 819.2 371.6 820.1 371.2 821 370.8 821.9 370.4 822.8 370 823.8 369.6 824.7 369.2 825.6 368.8 826.5 368.4 827.4 368 828.4 367.7 829.3 367.3 830.3 367 831.2 366.7 832.2 366.4 833.1 366.1 834.1 365.8 835 365.5 836 365.2 836.9 364.9 837.9 364.7 838.9 364.4 839.8 364.1 840.8 363.9 841.8 363.6 842.7 363.4 843.7 363.1 844.7 362.9 845.7 362.7 846.6 362.4 847.6 362.2 848.6 362 849.6 361.8 850.5 361.6 851.5 361.4 852.5 361.2 853.5 361 854.5 360.8 855.4 360.6 856.4 360.4 857.4 360.3 858.4 360.1 859.4 360 860.4 359.8 861.4 359.7 862.4 359.5 863.3 359.4 864.3 359.2 865.3 359.1 866.3 359 867.3 358.8 868.3 358.7 869.3 358.5 870.3 358.4 871.3 358.3 872.3 358.1 873.3 358 874.2 357.8 875.2 357.7 876.2 357.6 877.2 357.4 878.2 357.3 879.2 357.2 880.2 357 881.2 356.9 882.2 356.8 883.2 356.7 884.2 356.5 885.2 356.4 886.1 356.3 887.1 356.1 888.1 356 889.1 355.9 890.1 355.7 891.1 355.6 892.1 355.4 893.1 355.2 894 355 895 354.8 896 354.6 896.5 337 896.2 110 896.2 120 900 127 1044.4 127 1046.5 455 1046.5 516 1045 627 1047 431 1047 430 1047 429 1047 428 1047 427 1047.1 426 1047.1 425 1047.1 424 1047.1 423 1047.2 422 1047.2 421 1047.3 420 1047.3 419 1047.4 418 1047.4 417 1047.5 416 1047.5 415 1047.6 414 1047.6 412.9 1047.7 411.9 1047.8 410.9 1048 409.9 1048.1 408.9 1048.2 407.9 1048.4 406.9 1048.6 405.9 1048.8 405 1049 404 1049.3 403.1 1049.6 402.1 1050.1 401.2 1050.5 400.3 1051.1 399.4 1051.6 398.6 1052.2 397.8 1052.8 397 1053.5 396.3 1054.2 395.6 1055 394.9 1055.7 394.2 1056.5 393.5 1057.2 392.8 1057.8 392.1 1058.5 391.3 1059.2 390.6 1059.8 389.8 1060.5 389 1061.1 388.3 1061.8 387.5 1062.5 386.8 1063.2 386.1 1063.9 385.4 1064.6 384.7 1065.3 384 1066.1 383.3 1066.8 382.6 1067.6 381.9 1068.3 381.2 1069.1 380.6 1069.9 379.9 1070.7 379.3 1071.5 378.8 1072.3 378.2 1073.1 377.7 1074 377.2 1074.8 376.7 1075.7 376.2 1076.6 375.7 1077.5 375.2 1078.4 374.8 1079.3 374.3 1080.2 373.9 1081.1 373.5 1082.1 373.1 1083 372.7 1083.9 372.3 1084.8 371.9 1085.8 371.5 1086.7 371.1 1087.6 370.8 1088.6 370.4 1089.5 370.1 1090.4 369.7 1091.4 369.4 1092.3 369.1 1093.3 368.8 1094.3 368.5 1095.2 368.2 1096.2 367.9 1097.1 367.6 1098.1 367.3 1099.1 367 1100 366.8 1101 366.5 1102 366.2 1102.9 365.9 1103.9 365.6 1104.8 365.3 1105.8 365.1 1106.8 364.8 1107.8 364.6 1108.7 364.3 1109.7 364.1 1110.7 363.9 1111.7 363.7 1112.6 363.4 1113.6 363.2 1114.6 363 1115.6 362.8 1116.6 362.6 1117.6 362.4 1118.5 362.3 1119.5 362.1 1120.5 361.9 1121.5 361.7 1122.5 361.5 1123.5 361.3 1124.5 361.1 1125.4 360.9 1126.4 360.8 1127.4 360.6 1128.4 360.4 1129.4 360.2 1130.4 360 1131.4 359.8 1132.3 359.6 1133.3 359.4 1134.3 359.2 1135.3 359 1136.3 358.8 1137.3 358.6 1138.2 358.4 1139.2 358.2 1140.2 358 1141.2 357.9 1142.2 357.7 1143.2 357.5 1144.2 357.4 1145.2 357.2 1146.1 357 1147.1 356.9 1148.1 356.7 1149.1 356.6 1150.1 356.4 1151.1 356.3 1152.1 356.1 1153.1 356 1154.1 355.9 1155.1 355.7 1156.1 355.6 1157.1 355.5 1158.1 355.3 1159.1 355.2 1160.1 355.1 1161.1 355 1162.1 354.9 1163 354.7 1164 354.6 1165 354.5 1166 354.4 1167 354.3 1168 354.2 1169 354.1 1170 354 1171 353.9 1172 353.8 1173 353.7 1174 353.6 1175 353.6 1176 353.5 1177 353.4 1178 353.3 1179 353.2 1180 353.1 1181 353 1182 352.9 1183 352.8 1184 352.7 1185 352.6 1186 352.4 1187 352.3 1188 352.2 1189 352.1 1190 352 1190.3 279.6 1190.3 114.5 1190.3 126.5 1194 127 1340 127 1340 213 1343.5 442 1341.5 479 1341.5 617 1345 425 1345 424 1345 423 1345 422 1345 421 1345.1 420 1345.1 419 1345.1 418 1345.2 416.9 1345.2 415.9 1345.2 414.9 1345.3 413.9 1345.3 412.9 1345.4 411.9 1345.4 410.9 1345.5 409.9 1345.6 408.9 1345.7 407.9 1345.8 406.9 1345.9 405.9 1346 404.9 1346.2 403.9 1346.4 402.9 1346.6 401.9 1346.8 400.9 1347 400 1347.3 399.1 1347.7 398.1 1348.2 397.2 1348.7 396.3 1349.3 395.5 1349.9 394.7 1350.5 394 1351.2 393.3 1352 392.7 1352.9 392.1 1353.7 391.5 1354.5 390.9 1355.3 390.2 1356 389.5 1356.7 388.8 1357.3 388 1358 387.3 1358.6 386.5 1359.3 385.7 1360 385 1360.7 384.3 1361.4 383.6 1362.2 383 1362.9 382.3 1363.7 381.7 1364.5 381 1365.3 380.4 1366.1 379.8 1366.9 379.2 1367.7 378.6 1368.5 378 1369.4 377.4 1370.2 376.9 1371 376.3 1371.9 375.8 1372.8 375.3 1373.6 374.8 1374.5 374.3 1375.4 373.8 1376.3 373.4 1377.2 372.9 1378.1 372.5 1379 372.1 1379.9 371.6 1380.8 371.2 1381.7 370.8 1382.7 370.4 1383.6 370 1384.5 369.7 1385.5 369.3 1386.4 369 1387.4 368.6 1388.3 368.3 1389.3 368 1390.2 367.7 1391.2 367.4 1392.2 367.1 1393.1 366.8 1394.1 366.6 1395.1 366.3 1396 366 1397 365.8 1398 365.5 1398.9 365.2 1399.9 364.9 1400.8 364.6 1401.8 364.3 1402.8 364 1403.7 363.7 1404.7 363.4 1405.7 363.2 1406.6 362.9 1407.6 362.7 1408.6 362.5 1409.6 362.3 1410.5 362 1411.5 361.8 1412.5 361.6 1413.5 361.4 1414.5 361.2 1415.5 361 1416.5 360.8 1417.4 360.7 1418.4 360.5 1419.4 360.3 1420.4 360.1 1421.4 359.9 1422.4 359.7 1423.4 359.5 1424.4 359.4 1425.3 359.2 1426.3 359 1427.3 358.8 1428.3 358.6 1429.3 358.5 1430.3 358.3 1431.3 358.1 1432.3 357.9 1433.3 357.8 1434.2 357.6 1435.2 357.4 1436.2 357.2 1437.2 357.1 1438.2 356.9 1439.2 356.7 1440.2 356.6 1441.2 356.4 1442.2 356.3 1443.2 356.1 1444.1 355.9 1445.1 355.8 1446.1 355.6 1447.1 355.4 1448.1 355.3 1449.1 355.1 1450.1 355 1451.1 354.8 1452.1 354.7 1453.1 354.5 1454.1 354.4 1455.1 354.2 1456.1 354.1 1457.1 353.9 1458 353.8 1459 353.6 1460 353.5 1461 353.3 1462 353.2 1463 353.1 1464 352.9 1465 352.8 1466 352.7 1467 352.5 1468 352.4 1469 352.3 1470 352.1 1471 352 1472 351.9 1473 351.8 1474 351.7 1475 351.6 1476 351.4 1477 351.3 1478 351.3 1479 351.2 1480 351.1 1481 351 1482 350.9 1483 350.9 1484 350.8 1485 350.8 1486 350.7 1487 350.6 1488 350.6 1489.5 119 1489.5 136 1494 127 1784.4 127" fill="none" stroke="#800080" stroke-width="2"/>
<path d="M296.5 119.5L382.3 119.5V134.5L296.5 134.5ZM450.5 119.5L570 119.5V134.5L450.5 134.5ZM664.5 119.5L792 119.5V134.5L664.5 134.5ZM892.5 119.5L1051.9 119.5V134.5L892.5 134.5ZM1186.5 119.5L1347.5 119.5V134.5L1186.5 134.5ZM1486.5 119.5L1791.9 119.5V134.5L1486.5 134.5ZM293.5 353.5h15v15h-15zM294.5 275.5h15v15h-15zM296 106.5h15v15h-15zM366 366h15v15h-15zM366 523h15v15h-15zM369 441.5h15v15h-15zM441.2 239.5h15v15h-15zM441.2 109h15v15h-15zM442.5 112.5h15v15h-15zM446.5 115.5h15v15h-15zM554.5 382.5h15v15h-15zM554.8 454.2h15v15h-15zM554.2 535.9h15v15h-15zM661.5 111h15v15h-15zM661.5 119h15v15h-15zM775.5 280h15v15h-15zM778.5 458.5h15v15h-15zM776 563.8h15v15h-15zM889 329.5h15v15h-15zM888.7 102.5h15v15h-15zM888.7 112.5h15v15h-15zM1039 447.5h15v15h-15zM1039 508.5h15v15h-15zM1037.5 619.5h15v15h-15zM1182.8 272.1h15v15h-15zM1182.8 107h15v15h-15zM1182.8 119h15v15h-15zM1332.5 205.5h15v15h-15zM1336 434.5h15v15h-15zM1334 471.5h15v15h-15zM1334 609.5h15v15h-15zM1482 111.5h15v15h-15zM1482 128.5h15v15h-15zM369.5 420.5h15v15h-15zM369.5 419.5h15v15h-15zM369.5 418.5h15v15h-15zM369.5 417.5h15v15h-15zM369.6 416.5h15v15h-15zM369.6 415.5h15v15h-15zM369.6 414.5h15v15h-15zM369.7 413.5h15v15h-15zM369.7 412.5h15v15h-15zM369.7 411.5h15v15h-15zM369.8 410.5h15v15h-15zM369.8 409.5h15v15h-15zM369.8 408.5h15v15h-15zM369.9 407.5h15v15h-15zM369.9 406.5h15v15h-15zM370 405.5h15v15h-15zM370 404.5h15v15h-15zM370 403.5h15v15h-15zM370.1 402.5h15v15h-15zM370.1 401.5h15v15h-15zM370.2 400.5h15v15h-15zM370.3 399.5h15v15h-15zM370.3 398.5h15v15h-15zM370.4 397.5h15v15h-15zM370.5 396.5h15v15h-15zM370.6 395.5h15v15h-15zM370.8 394.5h15v15h-15zM371 393.5h15v15h-15zM371.2 392.5h15v15h-15zM371.5 391.6h15v15h-15zM371.8 390.6h15v15h-15zM372.1 389.7h15v15h-15zM372.4 388.8h15v15h-15zM372.8 387.8h15v15h-15zM373.2 386.9h15v15h-15zM373.7 386h15v15h-15zM374.1 385.1h15v15h-15zM374.6 384.2h15v15h-15zM375.1 383.3h15v15h-15zM375.6 382.5h15v15h-15zM376.1 381.6h15v15h-15zM376.6 380.8h15v15h-15zM377.2 379.9h15v15h-15zM377.7 379.1h15v15h-15zM378.3 378.2h15v15h-15zM378.9 377.4h15v15h-15zM379.4 376.6h15v15h-15zM380.1 375.8h15v15h-15zM380.7 375h15v15h-15zM381.3 374.2h15v15h-15zM382 373.5h15v15h-15zM382.6 372.7h15v15h-15zM383.3 372h15v15h-15zM384.1 371.3h15v15h-15zM384.8 370.7h15v15h-15zM385.6 370h15v15h-15zM386.3 369.4h15v15h-15zM387.1 368.7h15v15h-15zM387.9 368.1h15v15h-15zM388.7 367.5h15v15h-15zM389.6 367h15v15h-15zM390.4 366.4h15v15h-15zM391.2 365.9h15v15h-15zM392.1 365.4h15v15h-15zM393 364.8h15v15h-15zM393.8 364.4h15v15h-15zM394.7 363.9h15v15h-15zM395.6 363.4h15v15h-15zM396.5 363h15v15h-15zM397.4 362.5h15v15h-15zM398.3 362.1h15v15h-15zM399.2 361.7h15v15h-15zM400.2 361.3h15v15h-15zM401.1 361h15v15h-15zM402 360.6h15v15h-15zM403 360.2h15v15h-15zM403.9 359.9h15v15h-15zM404.8 359.6h15v15h-15zM405.8 359.2h15v15h-15zM406.7 358.9h15v15h-15zM407.7 358.6h15v15h-15zM408.7 358.3h15v15h-15zM409.6 358.1h15v15h-15zM410.6 357.8h15v15h-15zM411.5 357.5h15v15h-15zM412.5 357.3h15v15h-15zM413.5 357h15v15h-15zM414.5 356.8h15v15h-15zM415.4 356.5h15v15h-15zM416.4 356.3h15v15h-15zM417.4 356h15v15h-15zM418.3 355.8h15v15h-15zM419.3 355.6h15v15h-15zM420.3 355.4h15v15h-15zM421.3 355.2h15v15h-15zM422.3 355h15v15h-15zM423.2 354.8h15v15h-15zM424.2 354.6h15v15h-15zM425.2 354.4h15v15h-15zM426.2 354.2h15v15h-15zM427.2 354h15v15h-15zM428.2 353.8h15v15h-15zM429.1 353.6h15v15h-15zM430.1 353.4h15v15h-15zM431.1 353.2h15v15h-15zM432.1 353.1h15v15h-15zM433.1 352.9h15v15h-15zM434.1 352.7h15v15h-15zM435.1 352.6h15v15h-15zM436 352.4h15v15h-15zM437 352.3h15v15h-15zM438 352.1h15v15h-15zM439 351.9h15v15h-15zM440 351.8h15v15h-15zM556 426.5h15v15h-15zM556 425.5h15v15h-15zM556 424.5h15v15h-15zM556 423.5h15v15h-15zM556 422.5h15v15h-15zM556 421.5h15v15h-15zM556 420.5h15v15h-15zM556 419.5h15v15h-15zM556.1 418.5h15v15h-15zM556.1 417.5h15v15h-15zM556.1 416.5h15v15h-15zM556.1 415.5h15v15h-15zM556.1 414.5h15v15h-15zM556.2 413.5h15v15h-15zM556.2 412.5h15v15h-15zM556.2 411.5h15v15h-15zM556.2 410.5h15v15h-15zM556.2 409.5h15v15h-15zM556.3 408.5h15v15h-15zM556.3 407.5h15v15h-15zM556.3 406.5h15v15h-15zM556.4 405.5h15v15h-15zM556.4 404.5h15v15h-15zM556.5 403.4h15v15h-15zM556.6 402.4h15v15h-15zM556.6 401.4h15v15h-15zM556.7 400.4h15v15h-15zM556.8 399.4h15v15h-15zM556.9 398.4h15v15h-15zM557.1 397.4h15v15h-15zM557.2 396.4h15v15h-15zM557.3 395.5h15v15h-15zM557.5 394.5h15v15h-15zM557.7 393.6h15v15h-15zM558 392.6h15v15h-15zM558.4 391.7h15v15h-15zM558.8 390.8h15v15h-15zM559.3 389.8h15v15h-15zM559.8 389h15v15h-15zM560.3 388.1h15v15h-15zM560.9 387.3h15v15h-15zM561.4 386.5h15v15h-15zM562 385.7h15v15h-15zM562.7 384.9h15v15h-15zM563.4 384.2h15v15h-15zM564.1 383.4h15v15h-15zM564.8 382.7h15v15h-15zM565.5 382h15v15h-15zM566.2 381.3h15v15h-15zM567 380.7h15v15h-15zM567.7 380h15v15h-15zM568.5 379.4h15v15h-15zM569.3 378.8h15v15h-15zM570.1 378.2h15v15h-15zM570.9 377.5h15v15h-15zM571.6 376.9h15v15h-15zM572.4 376.2h15v15h-15zM573.1 375.5h15v15h-15zM573.9 374.8h15v15h-15zM574.6 374.1h15v15h-15zM575.3 373.5h15v15h-15zM576.1 372.8h15v15h-15zM576.9 372.2h15v15h-15zM577.7 371.6h15v15h-15zM578.5 371h15v15h-15zM579.3 370.4h15v15h-15zM580.1 369.9h15v15h-15zM581 369.3h15v15h-15zM581.8 368.8h15v15h-15zM582.7 368.3h15v15h-15zM583.5 367.7h15v15h-15zM584.4 367.2h15v15h-15zM585.3 366.7h15v15h-15zM586.1 366.2h15v15h-15zM587 365.8h15v15h-15zM587.9 365.3h15v15h-15zM588.8 364.9h15v15h-15zM589.7 364.4h15v15h-15zM590.6 364h15v15h-15zM591.5 363.6h15v15h-15zM592.4 363.2h15v15h-15zM593.3 362.8h15v15h-15zM594.3 362.4h15v15h-15zM595.2 362h15v15h-15zM596.1 361.7h15v15h-15zM597.1 361.3h15v15h-15zM598 361h15v15h-15zM598.9 360.6h15v15h-15zM599.9 360.3h15v15h-15zM600.8 359.9h15v15h-15zM601.8 359.6h15v15h-15zM602.7 359.3h15v15h-15zM603.7 359h15v15h-15zM604.6 358.7h15v15h-15zM605.6 358.4h15v15h-15zM606.6 358.1h15v15h-15zM607.5 357.8h15v15h-15zM608.5 357.5h15v15h-15zM609.4 357.2h15v15h-15zM610.4 357h15v15h-15zM611.4 356.7h15v15h-15zM612.3 356.4h15v15h-15zM613.3 356.2h15v15h-15zM614.3 355.9h15v15h-15zM615.2 355.7h15v15h-15zM616.2 355.4h15v15h-15zM617.2 355.2h15v15h-15zM618.1 355h15v15h-15zM619.1 354.7h15v15h-15zM620.1 354.5h15v15h-15zM621.1 354.3h15v15h-15zM622.1 354h15v15h-15zM623 353.8h15v15h-15zM624 353.6h15v15h-15zM625 353.4h15v15h-15zM626 353.2h15v15h-15zM626.9 353h15v15h-15zM627.9 352.8h15v15h-15zM628.9 352.6h15v15h-15zM629.9 352.4h15v15h-15zM630.9 352.2h15v15h-15zM631.8 352h15v15h-15zM632.8 351.8h15v15h-15zM633.8 351.6h15v15h-15zM634.8 351.4h15v15h-15zM635.8 351.2h15v15h-15zM636.8 351h15v15h-15zM637.7 350.8h15v15h-15zM638.7 350.6h15v15h-15zM639.7 350.5h15v15h-15zM640.7 350.3h15v15h-15zM641.7 350.1h15v15h-15zM642.7 350h15v15h-15zM643.7 349.8h15v15h-15zM644.6 349.7h15v15h-15zM645.6 349.5h15v15h-15zM646.6 349.3h15v15h-15zM647.6 349.2h15v15h-15zM648.6 349h15v15h-15zM649.6 348.9h15v15h-15zM650.6 348.8h15v15h-15zM651.6 348.6h15v15h-15zM652.6 348.5h15v15h-15zM653.6 348.3h15v15h-15zM654.6 348.2h15v15h-15zM655.5 348.1h15v15h-15zM656.5 347.9h15v15h-15zM657.5 347.8h15v15h-15zM658.5 347.7h15v15h-15zM659.5 347.6h15v15h-15zM660.5 347.4h15v15h-15zM661.5 347.3h15v15h-15zM662.5 347.2h15v15h-15zM663.5 347.1h15v15h-15zM779.8 426.5h15v15h-15zM779.8 425.5h15v15h-15zM779.8 424.5h15v15h-15zM779.8 423.5h15v15h-15zM779.8 422.5h15v15h-15zM779.8 421.5h15v15h-15zM779.8 420.5h15v15h-15zM779.8 419.5h15v15h-15zM779.9 418.5h15v15h-15zM779.9 417.5h15v15h-15zM779.9 416.5h15v15h-15zM779.9 415.5h15v15h-15zM779.9 414.5h15v15h-15zM779.9 413.5h15v15h-15zM780 412.5h15v15h-15zM780 411.5h15v15h-15zM780 410.5h15v15h-15zM780 409.5h15v15h-15zM780.1 408.5h15v15h-15zM780.1 407.5h15v15h-15zM780.2 406.5h15v15h-15zM780.3 405.5h15v15h-15zM780.4 404.5h15v15h-15zM780.5 403.5h15v15h-15zM780.6 402.5h15v15h-15zM780.7 401.5h15v15h-15zM780.9 400.5h15v15h-15zM781 399.5h15v15h-15zM781.2 398.5h15v15h-15zM781.3 397.6h15v15h-15zM781.5 396.6h15v15h-15zM781.7 395.6h15v15h-15zM781.9 394.6h15v15h-15zM782.2 393.7h15v15h-15zM782.5 392.7h15v15h-15zM782.8 391.8h15v15h-15zM783.2 390.8h15v15h-15zM783.5 389.9h15v15h-15zM783.9 389h15v15h-15zM784.3 388h15v15h-15zM784.7 387.1h15v15h-15zM785.2 386.2h15v15h-15zM785.7 385.4h15v15h-15zM786.2 384.5h15v15h-15zM786.7 383.6h15v15h-15zM787.3 382.8h15v15h-15zM787.9 382h15v15h-15zM788.5 381.2h15v15h-15zM789.1 380.5h15v15h-15zM789.8 379.7h15v15h-15zM790.5 379h15v15h-15zM791.2 378.3h15v15h-15zM791.9 377.6h15v15h-15zM792.6 376.9h15v15h-15zM793.4 376.2h15v15h-15zM794.2 375.6h15v15h-15zM794.9 375h15v15h-15zM795.7 374.3h15v15h-15zM796.5 373.7h15v15h-15zM797.3 373.1h15v15h-15zM798.1 372.5h15v15h-15zM798.9 371.9h15v15h-15zM799.8 371.4h15v15h-15zM800.6 370.8h15v15h-15zM801.4 370.2h15v15h-15zM802.2 369.7h15v15h-15zM803.1 369.1h15v15h-15zM803.9 368.5h15v15h-15zM804.7 367.9h15v15h-15zM805.5 367.4h15v15h-15zM806.3 366.8h15v15h-15zM807.2 366.3h15v15h-15zM808 365.8h15v15h-15zM808.9 365.3h15v15h-15zM809.8 364.9h15v15h-15zM810.7 364.5h15v15h-15zM811.7 364.1h15v15h-15zM812.6 363.7h15v15h-15zM813.5 363.3h15v15h-15zM814.4 362.9h15v15h-15zM815.3 362.5h15v15h-15zM816.3 362.1h15v15h-15zM817.2 361.7h15v15h-15zM818.1 361.3h15v15h-15zM819 360.9h15v15h-15zM819.9 360.5h15v15h-15zM820.9 360.2h15v15h-15zM821.8 359.8h15v15h-15zM822.8 359.5h15v15h-15zM823.7 359.2h15v15h-15zM824.7 358.9h15v15h-15zM825.6 358.6h15v15h-15zM826.6 358.3h15v15h-15zM827.5 358h15v15h-15zM828.5 357.7h15v15h-15zM829.4 357.4h15v15h-15zM830.4 357.2h15v15h-15zM831.4 356.9h15v15h-15zM832.3 356.6h15v15h-15zM833.3 356.4h15v15h-15zM834.3 356.1h15v15h-15zM835.2 355.9h15v15h-15zM836.2 355.6h15v15h-15zM837.2 355.4h15v15h-15zM838.2 355.2h15v15h-15zM839.1 354.9h15v15h-15zM840.1 354.7h15v15h-15zM841.1 354.5h15v15h-15zM842.1 354.3h15v15h-15zM843 354.1h15v15h-15zM844 353.9h15v15h-15zM845 353.7h15v15h-15zM846 353.5h15v15h-15zM847 353.3h15v15h-15zM847.9 353.1h15v15h-15zM848.9 352.9h15v15h-15zM849.9 352.8h15v15h-15zM850.9 352.6h15v15h-15zM851.9 352.5h15v15h-15zM852.9 352.3h15v15h-15zM853.9 352.2h15v15h-15zM854.9 352h15v15h-15zM855.8 351.9h15v15h-15zM856.8 351.7h15v15h-15zM857.8 351.6h15v15h-15zM858.8 351.5h15v15h-15zM859.8 351.3h15v15h-15zM860.8 351.2h15v15h-15zM861.8 351h15v15h-15zM862.8 350.9h15v15h-15zM863.8 350.8h15v15h-15zM864.8 350.6h15v15h-15zM865.8 350.5h15v15h-15zM866.7 350.3h15v15h-15zM867.7 350.2h15v15h-15zM868.7 350.1h15v15h-15zM869.7 349.9h15v15h-15zM870.7 349.8h15v15h-15zM871.7 349.7h15v15h-15zM872.7 349.5h15v15h-15zM873.7 349.4h15v15h-15zM874.7 349.3h15v15h-15zM875.7 349.2h15v15h-15zM876.7 349h15v15h-15zM877.7 348.9h15v15h-15zM878.6 348.8h15v15h-15zM879.6 348.6h15v15h-15zM880.6 348.5h15v15h-15zM881.6 348.4h15v15h-15zM882.6 348.2h15v15h-15zM883.6 348.1h15v15h-15zM884.6 347.9h15v15h-15zM885.6 347.7h15v15h-15zM886.5 347.5h15v15h-15zM887.5 347.3h15v15h-15zM888.5 347.1h15v15h-15zM1039.5 423.5h15v15h-15zM1039.5 422.5h15v15h-15zM1039.5 421.5h15v15h-15zM1039.5 420.5h15v15h-15zM1039.5 419.5h15v15h-15zM1039.6 418.5h15v15h-15zM1039.6 417.5h15v15h-15zM1039.6 416.5h15v15h-15zM1039.6 415.5h15v15h-15zM1039.7 414.5h15v15h-15zM1039.7 413.5h15v15h-15zM1039.8 412.5h15v15h-15zM1039.8 411.5h15v15h-15zM1039.9 410.5h15v15h-15zM1039.9 409.5h15v15h-15zM1040 408.5h15v15h-15zM1040 407.5h15v15h-15zM1040.1 406.5h15v15h-15zM1040.1 405.4h15v15h-15zM1040.2 404.4h15v15h-15zM1040.3 403.4h15v15h-15zM1040.5 402.4h15v15h-15zM1040.6 401.4h15v15h-15zM1040.7 400.4h15v15h-15zM1040.9 399.4h15v15h-15zM1041.1 398.4h15v15h-15zM1041.3 397.5h15v15h-15zM1041.5 396.5h15v15h-15zM1041.8 395.6h15v15h-15zM1042.1 394.6h15v15h-15zM1042.6 393.7h15v15h-15zM1043 392.8h15v15h-15zM1043.6 391.9h15v15h-15zM1044.1 391.1h15v15h-15zM1044.7 390.3h15v15h-15zM1045.3 389.5h15v15h-15zM1046 388.8h15v15h-15zM1046.7 388.1h15v15h-15zM1047.5 387.4h15v15h-15zM1048.2 386.7h15v15h-15zM1049 386h15v15h-15zM1049.7 385.3h15v15h-15zM1050.3 384.6h15v15h-15zM1051 383.8h15v15h-15zM1051.7 383.1h15v15h-15zM1052.3 382.3h15v15h-15zM1053 381.5h15v15h-15zM1053.6 380.8h15v15h-15zM1054.3 380h15v15h-15zM1055 379.3h15v15h-15zM1055.7 378.6h15v15h-15zM1056.4 377.9h15v15h-15zM1057.1 377.2h15v15h-15zM1057.8 376.5h15v15h-15zM1058.6 375.8h15v15h-15zM1059.3 375.1h15v15h-15zM1060.1 374.4h15v15h-15zM1060.8 373.7h15v15h-15zM1061.6 373.1h15v15h-15zM1062.4 372.4h15v15h-15zM1063.2 371.8h15v15h-15zM1064 371.3h15v15h-15zM1064.8 370.7h15v15h-15zM1065.6 370.2h15v15h-15zM1066.5 369.7h15v15h-15zM1067.3 369.2h15v15h-15zM1068.2 368.7h15v15h-15zM1069.1 368.2h15v15h-15zM1070 367.7h15v15h-15zM1070.9 367.3h15v15h-15zM1071.8 366.8h15v15h-15zM1072.7 366.4h15v15h-15zM1073.6 366h15v15h-15zM1074.6 365.6h15v15h-15zM1075.5 365.2h15v15h-15zM1076.4 364.8h15v15h-15zM1077.3 364.4h15v15h-15zM1078.3 364h15v15h-15zM1079.2 363.6h15v15h-15zM1080.1 363.3h15v15h-15zM1081.1 362.9h15v15h-15zM1082 362.6h15v15h-15zM1082.9 362.2h15v15h-15zM1083.9 361.9h15v15h-15zM1084.8 361.6h15v15h-15zM1085.8 361.3h15v15h-15zM1086.8 361h15v15h-15zM1087.7 360.7h15v15h-15zM1088.7 360.4h15v15h-15zM1089.6 360.1h15v15h-15zM1090.6 359.8h15v15h-15zM1091.6 359.5h15v15h-15zM1092.5 359.3h15v15h-15zM1093.5 359h15v15h-15zM1094.5 358.7h15v15h-15zM1095.4 358.4h15v15h-15zM1096.4 358.1h15v15h-15zM1097.3 357.8h15v15h-15zM1098.3 357.6h15v15h-15zM1099.3 357.3h15v15h-15zM1100.3 357.1h15v15h-15zM1101.2 356.8h15v15h-15zM1102.2 356.6h15v15h-15zM1103.2 356.4h15v15h-15zM1104.2 356.2h15v15h-15zM1105.1 355.9h15v15h-15zM1106.1 355.7h15v15h-15zM1107.1 355.5h15v15h-15zM1108.1 355.3h15v15h-15zM1109.1 355.1h15v15h-15zM1110.1 354.9h15v15h-15zM1111 354.8h15v15h-15zM1112 354.6h15v15h-15zM1113 354.4h15v15h-15zM1114 354.2h15v15h-15zM1115 354h15v15h-15zM1116 353.8h15v15h-15zM1117 353.6h15v15h-15zM1117.9 353.4h15v15h-15zM1118.9 353.3h15v15h-15zM1119.9 353.1h15v15h-15zM1120.9 352.9h15v15h-15zM1121.9 352.7h15v15h-15zM1122.9 352.5h15v15h-15zM1123.9 352.3h15v15h-15zM1124.8 352.1h15v15h-15zM1125.8 351.9h15v15h-15zM1126.8 351.7h15v15h-15zM1127.8 351.5h15v15h-15zM1128.8 351.3h15v15h-15zM1129.8 351.1h15v15h-15zM1130.7 350.9h15v15h-15zM1131.7 350.7h15v15h-15zM1132.7 350.5h15v15h-15zM1133.7 350.4h15v15h-15zM1134.7 350.2h15v15h-15zM1135.7 350h15v15h-15zM1136.7 349.9h15v15h-15zM1137.7 349.7h15v15h-15zM1138.6 349.5h15v15h-15zM1139.6 349.4h15v15h-15zM1140.6 349.2h15v15h-15zM1141.6 349.1h15v15h-15zM1142.6 348.9h15v15h-15zM1143.6 348.8h15v15h-15zM1144.6 348.6h15v15h-15zM1145.6 348.5h15v15h-15zM1146.6 348.4h15v15h-15zM1147.6 348.2h15v15h-15zM1148.6 348.1h15v15h-15zM1149.6 348h15v15h-15zM1150.6 347.8h15v15h-15zM1151.6 347.7h15v15h-15zM1152.6 347.6h15v15h-15zM1153.6 347.5h15v15h-15zM1154.6 347.4h15v15h-15zM1155.5 347.2h15v15h-15zM1156.5 347.1h15v15h-15zM1157.5 347h15v15h-15zM1158.5 346.9h15v15h-15zM1159.5 346.8h15v15h-15zM1160.5 346.7h15v15h-15zM1161.5 346.6h15v15h-15zM1162.5 346.5h15v15h-15zM1163.5 346.4h15v15h-15zM1164.5 346.3h15v15h-15zM1165.5 346.2h15v15h-15zM1166.5 346.1h15v15h-15zM1167.5 346.1h15v15h-15zM1168.5 346h15v15h-15zM1169.5 345.9h15v15h-15zM1170.5 345.8h15v15h-15zM1171.5 345.7h15v15h-15zM1172.5 345.6h15v15h-15zM1173.5 345.5h15v15h-15zM1174.5 345.4h15v15h-15zM1175.5 345.3h15v15h-15zM1176.5 345.2h15v15h-15zM1177.5 345.1h15v15h-15zM1178.5 344.9h15v15h-15zM1179.5 344.8h15v15h-15zM1180.5 344.7h15v15h-15zM1181.5 344.6h15v15h-15zM1182.5 344.5h15v15h-15zM1337.5 417.5h15v15h-15zM1337.5 416.5h15v15h-15zM1337.5 415.5h15v15h-15zM1337.5 414.5h15v15h-15zM1337.5 413.5h15v15h-15zM1337.6 412.5h15v15h-15zM1337.6 411.5h15v15h-15zM1337.6 410.5h15v15h-15zM1337.7 409.4h15v15h-15zM1337.7 408.4h15v15h-15zM1337.7 407.4h15v15h-15zM1337.8 406.4h15v15h-15zM1337.8 405.4h15v15h-15zM1337.9 404.4h15v15h-15zM1337.9 403.4h15v15h-15zM1338 402.4h15v15h-15zM1338.1 401.4h15v15h-15zM1338.2 400.4h15v15h-15zM1338.3 399.4h15v15h-15zM1338.4 398.4h15v15h-15zM1338.5 397.4h15v15h-15zM1338.7 396.4h15v15h-15zM1338.9 395.4h15v15h-15zM1339.1 394.4h15v15h-15zM1339.3 393.4h15v15h-15zM1339.5 392.5h15v15h-15zM1339.8 391.6h15v15h-15zM1340.2 390.6h15v15h-15zM1340.7 389.7h15v15h-15zM1341.2 388.8h15v15h-15zM1341.8 388h15v15h-15zM1342.4 387.2h15v15h-15zM1343 386.5h15v15h-15zM1343.7 385.8h15v15h-15zM1344.5 385.2h15v15h-15zM1345.4 384.6h15v15h-15zM1346.2 384h15v15h-15zM1347 383.4h15v15h-15zM1347.8 382.7h15v15h-15zM1348.5 382h15v15h-15zM1349.2 381.3h15v15h-15zM1349.8 380.5h15v15h-15zM1350.5 379.8h15v15h-15zM1351.1 379h15v15h-15zM1351.8 378.2h15v15h-15zM1352.5 377.5h15v15h-15zM1353.2 376.8h15v15h-15zM1353.9 376.1h15v15h-15zM1354.7 375.5h15v15h-15zM1355.4 374.8h15v15h-15zM1356.2 374.2h15v15h-15zM1357 373.5h15v15h-15zM1357.8 372.9h15v15h-15zM1358.6 372.3h15v15h-15zM1359.4 371.7h15v15h-15zM1360.2 371.1h15v15h-15zM1361 370.5h15v15h-15zM1361.9 369.9h15v15h-15zM1362.7 369.4h15v15h-15zM1363.5 368.8h15v15h-15zM1364.4 368.3h15v15h-15zM1365.3 367.8h15v15h-15zM1366.1 367.3h15v15h-15zM1367 366.8h15v15h-15zM1367.9 366.3h15v15h-15zM1368.8 365.9h15v15h-15zM1369.7 365.4h15v15h-15zM1370.6 365h15v15h-15zM1371.5 364.6h15v15h-15zM1372.4 364.1h15v15h-15zM1373.3 363.7h15v15h-15zM1374.2 363.3h15v15h-15zM1375.2 362.9h15v15h-15zM1376.1 362.5h15v15h-15zM1377 362.2h15v15h-15zM1378 361.8h15v15h-15zM1378.9 361.5h15v15h-15zM1379.9 361.1h15v15h-15zM1380.8 360.8h15v15h-15zM1381.8 360.5h15v15h-15zM1382.7 360.2h15v15h-15zM1383.7 359.9h15v15h-15zM1384.7 359.6h15v15h-15zM1385.6 359.3h15v15h-15zM1386.6 359.1h15v15h-15zM1387.6 358.8h15v15h-15zM1388.5 358.5h15v15h-15zM1389.5 358.3h15v15h-15zM1390.5 358h15v15h-15zM1391.4 357.7h15v15h-15zM1392.4 357.4h15v15h-15zM1393.3 357.1h15v15h-15zM1394.3 356.8h15v15h-15zM1395.3 356.5h15v15h-15zM1396.2 356.2h15v15h-15zM1397.2 355.9h15v15h-15zM1398.2 355.7h15v15h-15zM1399.1 355.4h15v15h-15zM1400.1 355.2h15v15h-15zM1401.1 355h15v15h-15zM1402.1 354.8h15v15h-15zM1403 354.5h15v15h-15zM1404 354.3h15v15h-15zM1405 354.1h15v15h-15zM1406 353.9h15v15h-15zM1407 353.7h15v15h-15zM1408 353.5h15v15h-15zM1409 353.3h15v15h-15zM1409.9 353.2h15v15h-15zM1410.9 353h15v15h-15zM1411.9 352.8h15v15h-15zM1412.9 352.6h15v15h-15zM1413.9 352.4h15v15h-15zM1414.9 352.2h15v15h-15zM1415.9 352h15v15h-15zM1416.9 351.9h15v15h-15zM1417.8 351.7h15v15h-15zM1418.8 351.5h15v15h-15zM1419.8 351.3h15v15h-15zM1420.8 351.1h15v15h-15zM1421.8 351h15v15h-15zM1422.8 350.8h15v15h-15zM1423.8 350.6h15v15h-15zM1424.8 350.4h15v15h-15zM1425.8 350.3h15v15h-15zM1426.7 350.1h15v15h-15zM1427.7 349.9h15v15h-15zM1428.7 349.7h15v15h-15zM1429.7 349.6h15v15h-15zM1430.7 349.4h15v15h-15zM1431.7 349.2h15v15h-15zM1432.7 349.1h15v15h-15zM1433.7 348.9h15v15h-15zM1434.7 348.8h15v15h-15zM1435.7 348.6h15v15h-15zM1436.6 348.4h15v15h-15zM1437.6 348.3h15v15h-15zM1438.6 348.1h15v15h-15zM1439.6 347.9h15v15h-15zM1440.6 347.8h15v15h-15zM1441.6 347.6h15v15h-15zM1442.6 347.5h15v15h-15zM1443.6 347.3h15v15h-15zM1444.6 347.2h15v15h-15zM1445.6 347h15v15h-15zM1446.6 346.9h15v15h-15zM1447.6 346.7h15v15h-15zM1448.6 346.6h15v15h-15zM1449.6 346.4h15v15h-15zM1450.5 346.3h15v15h-15zM1451.5 346.1h15v15h-15zM1452.5 346h15v15h-15zM1453.5 345.8h15v15h-15zM1454.5 345.7h15v15h-15zM1455.5 345.6h15v15h-15zM1456.5 345.4h15v15h-15zM1457.5 345.3h15v15h-15zM1458.5 345.2h15v15h-15zM1459.5 345h15v15h-15zM1460.5 344.9h15v15h-15zM1461.5 344.8h15v15h-15zM1462.5 344.6h15v15h-15zM1463.5 344.5h15v15h-15zM1464.5 344.4h15v15h-15zM1465.5 344.3h15v15h-15zM1466.5 344.2h15v15h-15zM1467.5 344.1h15v15h-15zM1468.5 343.9h15v15h-15zM1469.5 343.8h15v15h-15zM1470.5 343.8h15v15h-15zM1471.5 343.7h15v15h-15zM1472.5 343.6h15v15h-15zM1473.5 343.5h15v15h-15zM1474.5 343.4h15v15h-15zM1475.5 343.4h15v15h-15zM1476.5 343.3h15v15h-15zM1477.5 343.3h15v15h-15zM1478.5 343.2h15v15h-15zM1479.5 343.1h15v15h-15zM1480.5 343.1h15v15h-15z" fill="#800080"/>
<path d="M306.4 568 306.4 542 306.4 95 306.4 120 307 132.2 383.4 132.2 383.5 447.5 384 867 384.5 779 384.5 744 386.9 725 387 724 387 723 387.1 722 387.2 721 387.3 720 387.3 719 387.4 718 387.5 717 387.6 716 387.7 715 387.8 714 387.9 713 388 712 388.1 711 388.2 710 388.3 709.1 388.5 708.1 388.6 707.1 388.7 706.1 388.9 705.1 389 704.1 389.1 703.1 389.2 702.1 389.4 701.1 389.5 700.1 389.6 699.1 389.7 698.1 389.8 697.1 389.9 696.1 390 695.1 390.1 694.2 390.2 693.2 390.3 692.2 390.4 691.2 390.5 690.2 390.6 689.2 390.7 688.2 390.8 687.2 390.9 686.2 391 685.2 391.1 684.2 391.2 683.2 391.3 682.2 391.4 681.2 391.5 680.2 391.6 679.2 391.7 678.2 391.8 677.2 391.9 676.2 392 675.2 392.1 674.2 392.2 673.2 392.3 672.2 392.4 671.2 392.5 670.2 392.6 669.2 392.7 668.3 392.8 667.3 392.9 666.3 393 665.3 393.2 664.3 393.3 663.3 393.4 662.3 393.5 661.3 393.7 660.3 393.8 659.3 393.9 658.3 394.1 657.3 394.3 656.4 394.4 655.4 394.6 654.4 394.8 653.4 395 652.4 395.2 651.4 395.4 650.4 395.6 649.5 395.8 648.5 396.1 647.5 396.3 646.5 396.6 645.6 396.8 644.6 397.1 643.7 397.4 642.7 397.7 641.8 398 640.8 398.3 639.9 398.7 638.9 399.1 638 399.4 637.1 399.8 636.2 400.2 635.2 400.6 634.3 401 633.4 401.4 632.4 401.8 631.5 402.2 630.6 402.6 629.7 403 628.8 403.4 627.9 403.8 626.9 404.2 626 404.6 625.1 405 624.2 405.4 623.3 405.8 622.4 406.2 621.5 406.6 620.5 407 619.6 407.4 618.7 407.7 617.7 408.1 616.8 408.5 615.9 408.8 614.9 409.2 614 409.6 613.1 410 612.2 410.4 611.3 410.8 610.4 411.3 609.5 411.7 608.6 412.2 607.7 412.6 606.8 413.1 605.9 413.6 605 414.1 604.1 414.6 603.3 415.1 602.4 415.6 601.6 416.2 600.7 416.7 599.9 417.3 599.1 417.9 598.3 418.5 597.5 419.1 596.7 419.8 596 420.4 595.2 421 594.4 421.7 593.6 422.3 592.8 422.9 592.1 423.6 591.3 424.2 590.5 424.8 589.7 425.4 588.9 426 588.1 426.6 587.3 427.2 586.5 427.9 585.7 428.5 584.9 429.1 584.1 429.8 583.4 430.4 582.6 431.1 581.9 431.8 581.2 432.5 580.5 433.2 579.9 434 579.2 434.8 578.6 435.5 577.9 436.3 577.3 437.1 576.7 438 576.1 438.8 575.5 439.6 574.9 440.4 574.4 441.3 573.8 442.1 573.3 443 572.8 443.9 572.3 444.8 571.9 445.6 571.4 446.5 570.9 447.4 570.4 448.2 569.9 449 569.3 449.8 568.7 450.6 568.1 451.4 567.5 452.2 566.8 452.9 566.2 453.7 565.5 454 497 456.5 92.8 457 115 458 124 460 132.2 572.3 132.2 571.5 543 572.3 854 575.3 772 575.3 744.5 576 725 576 724 576 723 576.1 722 576.1 721 576.1 720 576.1 719 576.2 718 576.2 717 576.2 716 576.3 715 576.3 714 576.4 713 576.4 712 576.5 711 576.5 710 576.5 709 576.6 708 576.7 707 576.7 706 576.8 705 576.8 704 576.9 703 577 702 577 701 577.1 700 577.2 699 577.3 698 577.4 697 577.4 696 577.5 695 577.6 694 577.7 693 577.8 692.1 577.9 691.1 578 690.1 578.1 689.1 578.2 688.1 578.3 687.1 578.4 686.1 578.5 685.1 578.6 684.1 578.8 683.1 578.9 682.1 579 681.1 579.1 680.1 579.3 679.1 579.4 678.1 579.6 677.2 579.7 676.2 579.9 675.2 580.1 674.2 580.2 673.2 580.4 672.2 580.6 671.2 580.8 670.3 581 669.3 581.2 668.3 581.4 667.3 581.6 666.4 581.9 665.4 582.1 664.4 582.4 663.4 582.6 662.5 582.9 661.5 583.1 660.5 583.4 659.6 583.7 658.6 584 657.7 584.2 656.7 584.5 655.7 584.8 654.8 585.1 653.8 585.3 652.8 585.6 651.9 585.9 650.9 586.1 650 586.4 649 586.7 648 587 647.1 587.3 646.1 587.6 645.2 587.8 644.2 588.1 643.2 588.4 642.3 588.7 641.3 589 640.4 589.3 639.4 589.6 638.5 589.9 637.5 590.2 636.5 590.5 635.6 590.8 634.6 591.1 633.7 591.4 632.7 591.7 631.8 592 630.8 592.4 629.9 592.7 628.9 593 628 593.3 627.1 593.7 626.1 594 625.2 594.3 624.2 594.6 623.3 595 622.3 595.3 621.4 595.7 620.4 596 619.5 596.4 618.6 596.7 617.6 597.1 616.7 597.5 615.8 597.9 614.9 598.2 613.9 598.6 613 599 612.1 599.4 611.1 599.8 610.2 600.2 609.3 600.7 608.4 601.1 607.5 601.6 606.6 602.1 605.8 602.6 604.9 603.1 604.1 603.7 603.3 604.3 602.5 604.9 601.7 605.5 600.9 606.2 600.2 606.8 599.4 607.5 598.6 608.1 597.8 608.8 597.1 609.4 596.3 610.1 595.5 610.7 594.8 611.4 594 612 593.3 612.7 592.5 613.3 591.8 614 591 614.7 590.3 615.3 589.5 616 588.8 616.7 588.1 617.4 587.3 618.1 586.6 618.7 585.9 619.4 585.1 620.1 584.4 620.8 583.6 621.4 582.9 622.1 582.1 622.7 581.4 623.4 580.6 624.1 579.9 624.8 579.2 625.5 578.5 626.3 577.9 627.1 577.3 627.9 576.7 628.7 576.1 629.5 575.5 630.4 575 631.2 574.4 632 573.8 632.8 573.2 633.6 572.6 634.4 572.1 635.2 571.5 636.1 570.9 636.9 570.3 637.7 569.8 638.6 569.2 639.4 568.7 640.2 568.2 641.1 567.6 641.9 567.1 642.8 566.6 643.7 566.1 644.5 565.6 645.4 565.1 646.3 564.6 647.1 564.1 648 563.6 648.9 563.1 649.7 562.6 650.6 562.1 651.4 561.5 652.3 561 653.1 560.5 654 560 654.8 559.4 655.7 558.9 656.5 558.4 657.4 557.9 658.2 557.3 659.1 556.8 659.9 556.3 660.8 555.7 661.6 555.2 662.5 554.7 663.3 554.1 664.2 553.6 665 553.1 665.9 552.6 666.8 552.1 667.7 551.6 668.5 551.2 669.4 550.7 670.3 550.3 671.2 549.8 672.1 549.4 673 548.9 673.9 548.5 674.8 548.1 675.7 547.7 676.7 547.3 677.6 546.9 678.5 546.5 681.5 112.5 681.5 122 681.5 128 683 132.2 791 132.2 791 412.7 790.5 879.4 791.5 785 792.5 750.5 793.6 731.5 793.7 730.5 793.8 729.5 793.8 728.5 793.9 727.5 794 726.5 794 725.5 794.1 724.5 794.1 723.5 794.2 722.5 794.2 721.5 794.2 720.5 794.3 719.5 794.3 718.5 794.3 717.5 794.3 716.5 794.3 715.5 794.4 714.5 794.4 713.5 794.4 712.5 794.4 711.5 794.5 710.5 794.5 709.5 794.5 708.5 794.6 707.5 794.7 706.5 794.8 705.5 795 704.5 795.1 703.5 795.3 702.5 795.5 701.5 795.6 700.5 795.8 699.5 795.9 698.5 796.1 697.5 796.2 696.6 796.3 695.6 796.4 694.6 796.5 693.6 796.6 692.6 796.7 691.6 796.8 690.6 796.9 689.6 797 688.6 797.1 687.6 797.2 686.6 797.3 685.6 797.4 684.6 797.6 683.6 797.7 682.6 797.8 681.6 798 680.6 798.1 679.6 798.3 678.6 798.5 677.6 798.7 676.7 798.8 675.7 799 674.7 799.2 673.7 799.4 672.7 799.6 671.7 799.8 670.8 800 669.8 800.3 668.8 800.5 667.8 800.8 666.9 801 665.9 801.3 664.9 801.6 664 801.8 663 802.1 662 802.4 661.1 802.6 660.1 802.9 659.1 803.1 658.1 803.3 657.2 803.6 656.2 803.8 655.2 804 654.2 804.3 653.3 804.5 652.3 804.7 651.3 804.9 650.3 805.2 649.4 805.4 648.4 805.6 647.4 805.9 646.4 806.1 645.5 806.4 644.5 806.6 643.5 806.9 642.6 807.1 641.6 807.4 640.6 807.7 639.6 807.9 638.7 808.2 637.7 808.5 636.8 808.8 635.8 809 634.8 809.3 633.9 809.6 632.9 809.9 632 810.2 631 810.5 630 810.8 629.1 811.2 628.1 811.5 627.2 811.8 626.2 812.2 625.3 812.5 624.3 812.9 623.4 813.2 622.5 813.6 621.6 814 620.6 814.4 619.7 814.8 618.8 815.2 617.9 815.6 617 816.1 616.1 816.5 615.2 817 614.3 817.4 613.4 817.9 612.5 818.4 611.6 818.9 610.7 819.4 609.9 819.9 609 820.5 608.2 821 607.4 821.6 606.5 822.2 605.7 822.8 605 823.4 604.2 824 603.4 824.7 602.6 825.3 601.9 826 601.1 826.7 600.3 827.3 599.6 828 598.8 828.7 598.1 829.3 597.3 830 596.5 830.6 595.8 831.3 595 831.9 594.2 832.6 593.5 833.2 592.7 833.9 592 834.5 591.2 835.2 590.5 835.9 589.7 836.5 589 837.2 588.2 837.9 587.5 838.5 586.7 839.2 586 839.9 585.2 840.6 584.5 841.2 583.7 841.9 583 842.6 582.2 843.3 581.5 844 580.8 844.7 580 845.3 579.3 846.1 578.6 846.8 577.9 847.5 577.2 848.2 576.6 849 575.9 849.7 575.3 850.5 574.7 851.3 574.1 852.1 573.5 853 572.9 853.8 572.3 854.6 571.7 855.4 571.1 856.2 570.5 857 569.9 857.8 569.3 858.6 568.7 859.4 568.1 860.2 567.4 860.9 566.8 861.7 566.1 862.5 565.5 863.3 564.8 864 564.2 864.8 563.6 865.6 563 866.5 562.4 867.3 561.9 868.1 561.4 869 560.9 869.9 560.4 870.7 559.9 871.6 559.4 872.5 559 873.4 558.5 874.3 558 875.2 557.5 876.1 557.1 876.9 556.6 877.8 556.1 878.7 555.6 879.6 555.1 880.4 554.6 881.3 554.1 882.2 553.6 883 553.1 883.9 552.6 884.8 552.1 885.7 551.7 886.6 551.3 887.5 550.8 888.4 550.4 889.3 550 890.3 549.6 891.2 549.2 892.1 548.8 893 548.4 894 548 894.9 547.7 895.8 547.3 896.7 546.9 897.7 546.6 898.6 546.2 899.6 545.8 900.5 545.5 907 118 908 132.2 1048.7 132.2 1048.7 375.7 1050.7 881.5 1050.7 784.5 1050.7 751.5 1050.7 731.5 1053.5 712 1053.5 711 1053.6 710 1053.7 709 1053.7 708 1053.8 707 1053.9 706 1054 705 1054.1 704 1054.2 703 1054.3 702 1054.4 701 1054.5 700 1054.6 699 1054.8 698.1 1054.9 697.1 1055.1 696.1 1055.2 695.1 1055.4 694.1 1055.6 693.1 1055.8 692.1 1056 691.2 1056.2 690.2 1056.4 689.2 1056.6 688.2 1056.9 687.2 1057.1 686.3 1057.3 685.3 1057.6 684.3 1057.8 683.4 1058.1 682.4 1058.4 681.4 1058.6 680.5 1058.9 679.5 1059.2 678.5 1059.5 677.6 1059.7 676.6 1060 675.6 1060.2 674.7 1060.5 673.7 1060.7 672.7 1060.9 671.7 1061.1 670.8 1061.3 669.8 1061.5 668.8 1061.7 667.8 1061.8 666.8 1062 665.9 1062.2 664.9 1062.4 663.9 1062.6 662.9 1062.8 661.9 1063 660.9 1063.2 660 1063.4 659 1063.6 658 1063.7 657 1063.9 656 1064.1 655 1064.3 654.1 1064.5 653.1 1064.7 652.1 1064.9 651.1 1065.1 650.1 1065.4 649.2 1065.6 648.2 1065.8 647.2 1066.1 646.3 1066.3 645.3 1066.6 644.3 1066.8 643.3 1067.1 642.4 1067.4 641.4 1067.6 640.4 1067.9 639.5 1068.2 638.5 1068.5 637.6 1068.8 636.6 1069.1 635.7 1069.4 634.7 1069.8 633.8 1070.1 632.8 1070.5 631.9 1070.8 631 1071.2 630.1 1071.6 629.1 1072 628.2 1072.4 627.3 1072.7 626.3 1073.1 625.4 1073.5 624.5 1073.9 623.6 1074.3 622.6 1074.6 621.7 1075 620.8 1075.4 619.8 1075.7 618.9 1076.1 618 1076.5 617 1076.9 616.1 1077.2 615.2 1077.6 614.3 1078 613.3 1078.4 612.4 1078.8 611.5 1079.3 610.6 1079.7 609.7 1080.2 608.9 1080.7 608 1081.2 607.1 1081.6 606.2 1082.2 605.4 1082.7 604.5 1083.2 603.7 1083.7 602.8 1084.3 602 1084.8 601.1 1085.4 600.3 1085.9 599.4 1086.5 598.6 1087 597.8 1087.6 597 1088.2 596.1 1088.8 595.3 1089.3 594.5 1089.9 593.7 1090.5 592.9 1091.1 592.1 1091.8 591.3 1092.4 590.5 1093 589.7 1093.6 588.9 1094.3 588.2 1094.9 587.4 1095.6 586.7 1096.2 585.9 1096.9 585.2 1097.6 584.5 1098.3 583.7 1099 583 1099.7 582.3 1100.4 581.7 1101.2 581 1101.9 580.3 1102.6 579.6 1103.4 578.9 1104.1 578.3 1104.9 577.6 1105.6 577 1106.4 576.3 1107.2 575.6 1107.9 575 1108.7 574.3 1109.4 573.6 1110.2 573 1110.9 572.3 1111.6 571.6 1112.4 571 1113.1 570.3 1113.9 569.6 1114.6 569 1115.4 568.3 1116.2 567.7 1116.9 567 1117.7 566.4 1118.5 565.8 1119.3 565.2 1120.1 564.6 1120.9 563.9 1121.7 563.3 1122.5 562.7 1123.3 562.2 1124.1 561.6 1124.9 561 1125.7 560.4 1126.6 559.9 1127.4 559.3 1128.2 558.8 1129.1 558.3 1129.9 557.7 1130.8 557.2 1131.6 556.7 1132.5 556.1 1133.4 555.6 1134.2 555.1 1135.1 554.6 1136 554.1 1136.8 553.6 1137.7 553.1 1138.6 552.6 1139.5 552.1 1140.3 551.6 1141.2 551.2 1142.1 550.7 1143 550.3 1143.9 549.9 1144.8 549.4 1145.7 549 1146.6 548.6 1147.5 548.2 1148.4 547.8 1149.4 547.4 1150.3 547 1151.2 546.6 1152.1 546.2 1153.1 545.9 1154 545.5 1155 545.1 1155.9 544.8 1156.8 544.4 1157.8 544.1 1158.7 543.8 1159.7 543.4 1160.6 543.1 1161.6 542.8 1162.5 542.5 1163.5 542.3 1164.5 542 1165.4 541.7 1166.4 541.5 1167.3 541.2 1168.3 541 1169.3 540.7 1170.3 540.5 1171.2 540.2 1172.2 540 1173.2 539.8 1174.2 539.5 1175.2 539.3 1176.1 539.1 1177.1 539 1178.1 538.8 1179.1 538.6 1180.1 538.4 1181.1 538.3 1182.1 538.2 1183 538 1184 537.9 1185 537.8 1186 537.7 1187 537.5 1188 537.4 1189 537.3 1190 537.2 1191 537.1 1192 537 1193 536.9 1194 536.8 1195 536.8 1196 536.7 1197 536.6 1198 536.6 1199 536.5 1200 536.5 1201 92 1201 114 1201 124 1203 132.2 1346.8 132.2 1348 834 1348 827 1349 776.5 1351 751 1351.1 750 1351.1 749 1351.2 748 1351.3 747 1351.3 746 1351.4 745 1351.4 744 1351.5 743 1351.5 742 1351.6 741 1351.6 740 1351.6 739 1351.6 738 1351.7 737 1351.7 736 1351.7 735 1351.8 734 1351.8 733 1351.8 732 1351.9 731 1351.9 730 1352 729 1352.1 728 1352.1 727 1352.2 726 1352.3 725 1352.4 724 1352.4 723 1352.5 722 1352.6 721 1352.7 720 1352.8 719 1352.9 718 1353 717 1353.1 716 1353.2 715 1353.3 714 1353.4 713 1353.5 712 1353.6 711 1353.7 710 1353.8 709 1353.9 708 1354 707 1354.1 706 1354.2 705 1354.3 704 1354.5 703 1354.6 702 1354.7 701 1354.8 700 1355 699 1355.1 698 1355.2 697 1355.4 696 1355.5 695 1355.7 694 1355.9 693.1 1356 692.1 1356.2 691.1 1356.4 690.1 1356.6 689.1 1356.9 688.2 1357.1 687.2 1357.3 686.2 1357.6 685.2 1357.8 684.3 1358.1 683.3 1358.4 682.3 1358.6 681.3 1358.9 680.4 1359.2 679.4 1359.4 678.4 1359.7 677.5 1360 676.5 1360.3 675.6 1360.6 674.6 1360.9 673.6 1361.2 672.7 1361.5 671.7 1361.8 670.8 1362.1 669.8 1362.3 668.8 1362.6 667.9 1362.9 666.9 1363.1 665.9 1363.4 665 1363.6 664 1363.9 663 1364.1 662.1 1364.4 661.1 1364.6 660.1 1364.9 659.1 1365.1 658.2 1365.4 657.2 1365.7 656.2 1365.9 655.3 1366.2 654.3 1366.5 653.3 1366.7 652.4 1367 651.4 1367.3 650.4 1367.5 649.5 1367.8 648.5 1368.1 647.5 1368.3 646.5 1368.6 645.6 1368.9 644.6 1369.2 643.7 1369.5 642.7 1369.8 641.7 1370.1 640.8 1370.4 639.8 1370.7 638.9 1371 637.9 1371.4 637 1371.7 636.1 1372.1 635.1 1372.4 634.2 1372.8 633.3 1373.2 632.3 1373.6 631.4 1374 630.5 1374.4 629.6 1374.8 628.6 1375.2 627.7 1375.6 626.8 1376.1 625.9 1376.5 625 1376.9 624.1 1377.4 623.2 1377.8 622.3 1378.3 621.4 1378.7 620.5 1379.2 619.6 1379.7 618.7 1380.2 617.9 1380.7 617 1381.2 616.1 1381.7 615.3 1382.2 614.4 1382.7 613.6 1383.3 612.7 1383.8 611.9 1384.4 611 1384.9 610.2 1385.5 609.4 1386 608.5 1386.6 607.7 1387.1 606.8 1387.7 606 1388.2 605.2 1388.8 604.3 1389.3 603.5 1389.9 602.6 1390.4 601.8 1391 601 1391.5 600.1 1392.1 599.3 1392.6 598.4 1393.2 597.6 1393.7 596.8 1394.3 595.9 1394.9 595.1 1395.4 594.3 1396 593.4 1396.6 592.6 1397.1 591.8 1397.7 591 1398.3 590.2 1398.9 589.3 1399.5 588.5 1400 587.7 1400.6 586.9 1401.2 586.1 1401.8 585.3 1402.4 584.5 1403 583.7 1403.6 582.9 1404.3 582.1 1404.9 581.3 1405.5 580.5 1406.2 579.8 1406.8 579 1407.5 578.3 1408.2 577.6 1408.9 576.8 1409.6 576.1 1410.3 575.4 1411 574.7 1411.8 574 1412.5 573.3 1413.2 572.6 1414 571.9 1414.7 571.3 1415.5 570.6 1416.2 570 1417 569.3 1417.8 568.7 1418.5 568 1419.3 567.4 1420.1 566.8 1420.9 566.2 1421.7 565.6 1422.5 565 1423.4 564.4 1424.2 563.8 1425 563.3 1425.9 562.8 1426.7 562.3 1427.6 561.8 1428.4 561.3 1429.3 560.8 1430.2 560.3 1431.1 559.8 1432 559.4 1432.9 558.9 1433.8 558.5 1434.7 558 1435.6 557.6 1436.5 557.1 1437.4 556.7 1438.3 556.3 1439.2 555.8 1440.1 555.4 1441 554.9 1441.9 554.5 1442.8 554 1443.7 553.6 1444.6 553.1 1445.5 552.7 1446.4 552.2 1447.3 551.7 1448.2 551.3 1449.1 550.8 1450 550.3 1450.9 549.9 1451.8 549.4 1452.7 548.9 1453.6 548.5 1454.5 548.1 1455.4 547.6 1456.3 547.2 1457.2 546.8 1458.1 546.4 1459 546 1459.9 545.6 1460.9 545.3 1461.8 545 1462.8 544.6 1463.7 544.3 1464.6 544 1465.6 543.7 1466.6 543.4 1467.5 543.1 1468.5 542.8 1469.5 542.6 1470.4 542.3 1471.4 542 1472.4 541.8 1473.3 541.5 1474.3 541.3 1475.3 541 1476.3 540.8 1477.3 540.6 1478.2 540.3 1479.2 540.1 1480.2 539.9 1481.2 539.7 1482.2 539.5 1483.1 539.3 1484.1 539.1 1485.1 538.9 1486.1 538.7 1487.1 538.6 1488.1 538.4 1489 538.2 1490 538 1491 537.9 1492 537.7 1493 537.6 1494 537.4 1495 537.3 1496 537.1 1497 537 1497.2 502 1497.3 88.4 1497.5 118 1497.5 125 1499 131.4 1784.4 131.4" fill="none" stroke="#F0B9C3" stroke-width="2"/>
<path d="M299.5 124L390.9 124V140.5L299.5 140.5ZM452.5 124L579.8 124V140.5L452.5 140.5ZM675.5 124L798.5 124V140.5L675.5 140.5ZM900.5 124L1056.2 124V140.5L900.5 140.5ZM1195.5 124L1354.3 124V140.5L1195.5 140.5ZM1491.5 123.9L1791.9 123.9V138.9L1491.5 138.9ZM298.9 560.5h15v15h-15zM298.9 534.5h15v15h-15zM298.9 87.5h15v15h-15zM298.9 112.5h15v15h-15zM376 440h15v15h-15zM376.5 859.5h15v15h-15zM377 771.5h15v15h-15zM377 736.5h15v15h-15zM446.5 489.5h15v15h-15zM449 85.3h15v15h-15zM449.5 107.5h15v15h-15zM450.5 116.5h15v15h-15zM564 535.5h15v15h-15zM564.8 846.5h15v15h-15zM567.8 764.5h15v15h-15zM567.8 737h15v15h-15zM674 105h15v15h-15zM674 114.5h15v15h-15zM674 120.5h15v15h-15zM783.5 405.2h15v15h-15zM783 871.9h15v15h-15zM784 777.5h15v15h-15zM785 743h15v15h-15zM899.5 110.5h15v15h-15zM1041.2 368.2h15v15h-15zM1043.2 874h15v15h-15zM1043.2 777h15v15h-15zM1043.2 744h15v15h-15zM1043.2 724h15v15h-15zM1193.5 84.5h15v15h-15zM1193.5 106.5h15v15h-15zM1193.5 116.5h15v15h-15zM1340.5 826.5h15v15h-15zM1340.5 819.5h15v15h-15zM1341.5 769h15v15h-15zM1489.7 494.5h15v15h-15zM1489.8 80.9h15v15h-15zM1490 110.5h15v15h-15zM1490 117.5h15v15h-15zM379.4 717.5h15v15h-15zM379.5 716.5h15v15h-15zM379.5 715.5h15v15h-15zM379.6 714.5h15v15h-15zM379.7 713.5h15v15h-15zM379.8 712.5h15v15h-15zM379.8 711.5h15v15h-15zM379.9 710.5h15v15h-15zM380 709.5h15v15h-15zM380.1 708.5h15v15h-15zM380.2 707.5h15v15h-15zM380.3 706.5h15v15h-15zM380.4 705.5h15v15h-15zM380.5 704.5h15v15h-15zM380.6 703.5h15v15h-15zM380.7 702.5h15v15h-15zM380.8 701.6h15v15h-15zM381 700.6h15v15h-15zM381.1 699.6h15v15h-15zM381.2 698.6h15v15h-15zM381.4 697.6h15v15h-15zM381.5 696.6h15v15h-15zM381.6 695.6h15v15h-15zM381.7 694.6h15v15h-15zM381.9 693.6h15v15h-15zM382 692.6h15v15h-15zM382.1 691.6h15v15h-15zM382.2 690.6h15v15h-15zM382.3 689.6h15v15h-15zM382.4 688.6h15v15h-15zM382.5 687.6h15v15h-15zM382.6 686.7h15v15h-15zM382.7 685.7h15v15h-15zM382.8 684.7h15v15h-15zM382.9 683.7h15v15h-15zM383 682.7h15v15h-15zM383.1 681.7h15v15h-15zM383.2 680.7h15v15h-15zM383.3 679.7h15v15h-15zM383.4 678.7h15v15h-15zM383.5 677.7h15v15h-15zM383.6 676.7h15v15h-15zM383.7 675.7h15v15h-15zM383.8 674.7h15v15h-15zM383.9 673.7h15v15h-15zM384 672.7h15v15h-15zM384.1 671.7h15v15h-15zM384.2 670.7h15v15h-15zM384.3 669.7h15v15h-15zM384.4 668.7h15v15h-15zM384.5 667.7h15v15h-15zM384.6 666.7h15v15h-15zM384.7 665.7h15v15h-15zM384.8 664.7h15v15h-15zM384.9 663.7h15v15h-15zM385 662.7h15v15h-15zM385.1 661.7h15v15h-15zM385.2 660.8h15v15h-15zM385.3 659.8h15v15h-15zM385.4 658.8h15v15h-15zM385.5 657.8h15v15h-15zM385.7 656.8h15v15h-15zM385.8 655.8h15v15h-15zM385.9 654.8h15v15h-15zM386 653.8h15v15h-15zM386.2 652.8h15v15h-15zM386.3 651.8h15v15h-15zM386.4 650.8h15v15h-15zM386.6 649.8h15v15h-15zM386.8 648.9h15v15h-15zM386.9 647.9h15v15h-15zM387.1 646.9h15v15h-15zM387.3 645.9h15v15h-15zM387.5 644.9h15v15h-15zM387.7 643.9h15v15h-15zM387.9 642.9h15v15h-15zM388.1 642h15v15h-15zM388.3 641h15v15h-15zM388.6 640h15v15h-15zM388.8 639h15v15h-15zM389.1 638.1h15v15h-15zM389.3 637.1h15v15h-15zM389.6 636.2h15v15h-15zM389.9 635.2h15v15h-15zM390.2 634.3h15v15h-15zM390.5 633.3h15v15h-15zM390.8 632.4h15v15h-15zM391.2 631.4h15v15h-15zM391.6 630.5h15v15h-15zM391.9 629.6h15v15h-15zM392.3 628.7h15v15h-15zM392.7 627.7h15v15h-15zM393.1 626.8h15v15h-15zM393.5 625.9h15v15h-15zM393.9 624.9h15v15h-15zM394.3 624h15v15h-15zM394.7 623.1h15v15h-15zM395.1 622.2h15v15h-15zM395.5 621.3h15v15h-15zM395.9 620.4h15v15h-15zM396.3 619.4h15v15h-15zM396.7 618.5h15v15h-15zM397.1 617.6h15v15h-15zM397.5 616.7h15v15h-15zM397.9 615.8h15v15h-15zM398.3 614.9h15v15h-15zM398.7 614h15v15h-15zM399.1 613h15v15h-15zM399.5 612.1h15v15h-15zM399.9 611.2h15v15h-15zM400.2 610.2h15v15h-15zM400.6 609.3h15v15h-15zM401 608.4h15v15h-15zM401.3 607.4h15v15h-15zM401.7 606.5h15v15h-15zM402.1 605.6h15v15h-15zM402.5 604.7h15v15h-15zM402.9 603.8h15v15h-15zM403.3 602.9h15v15h-15zM403.8 602h15v15h-15zM404.2 601.1h15v15h-15zM404.7 600.2h15v15h-15zM405.1 599.3h15v15h-15zM405.6 598.4h15v15h-15zM406.1 597.5h15v15h-15zM406.6 596.6h15v15h-15zM407.1 595.8h15v15h-15zM407.6 594.9h15v15h-15zM408.1 594.1h15v15h-15zM408.7 593.2h15v15h-15zM409.2 592.4h15v15h-15zM409.8 591.6h15v15h-15zM410.4 590.8h15v15h-15zM411 590h15v15h-15zM411.6 589.2h15v15h-15zM412.3 588.5h15v15h-15zM412.9 587.7h15v15h-15zM413.5 586.9h15v15h-15zM414.2 586.1h15v15h-15zM414.8 585.3h15v15h-15zM415.4 584.6h15v15h-15zM416.1 583.8h15v15h-15zM416.7 583h15v15h-15zM417.3 582.2h15v15h-15zM417.9 581.4h15v15h-15zM418.5 580.6h15v15h-15zM419.1 579.8h15v15h-15zM419.7 579h15v15h-15zM420.4 578.2h15v15h-15zM421 577.4h15v15h-15zM421.6 576.6h15v15h-15zM422.3 575.9h15v15h-15zM422.9 575.1h15v15h-15zM423.6 574.4h15v15h-15zM424.3 573.7h15v15h-15zM425 573h15v15h-15zM425.7 572.4h15v15h-15zM426.5 571.7h15v15h-15zM427.3 571.1h15v15h-15zM428 570.4h15v15h-15zM428.8 569.8h15v15h-15zM429.6 569.2h15v15h-15zM430.5 568.6h15v15h-15zM431.3 568h15v15h-15zM432.1 567.4h15v15h-15zM432.9 566.9h15v15h-15zM433.8 566.3h15v15h-15zM434.6 565.8h15v15h-15zM435.5 565.3h15v15h-15zM436.4 564.8h15v15h-15zM437.3 564.4h15v15h-15zM438.1 563.9h15v15h-15zM439 563.4h15v15h-15zM439.9 562.9h15v15h-15zM440.7 562.4h15v15h-15zM441.5 561.8h15v15h-15zM442.3 561.2h15v15h-15zM443.1 560.6h15v15h-15zM443.9 560h15v15h-15zM444.7 559.3h15v15h-15zM445.4 558.7h15v15h-15zM446.2 558h15v15h-15zM568.5 717.5h15v15h-15zM568.5 716.5h15v15h-15zM568.5 715.5h15v15h-15zM568.6 714.5h15v15h-15zM568.6 713.5h15v15h-15zM568.6 712.5h15v15h-15zM568.6 711.5h15v15h-15zM568.7 710.5h15v15h-15zM568.7 709.5h15v15h-15zM568.7 708.5h15v15h-15zM568.8 707.5h15v15h-15zM568.8 706.5h15v15h-15zM568.9 705.5h15v15h-15zM568.9 704.5h15v15h-15zM569 703.5h15v15h-15zM569 702.5h15v15h-15zM569 701.5h15v15h-15zM569.1 700.5h15v15h-15zM569.2 699.5h15v15h-15zM569.2 698.5h15v15h-15zM569.3 697.5h15v15h-15zM569.3 696.5h15v15h-15zM569.4 695.5h15v15h-15zM569.5 694.5h15v15h-15zM569.5 693.5h15v15h-15zM569.6 692.5h15v15h-15zM569.7 691.5h15v15h-15zM569.8 690.5h15v15h-15zM569.9 689.5h15v15h-15zM569.9 688.5h15v15h-15zM570 687.5h15v15h-15zM570.1 686.5h15v15h-15zM570.2 685.5h15v15h-15zM570.3 684.6h15v15h-15zM570.4 683.6h15v15h-15zM570.5 682.6h15v15h-15zM570.6 681.6h15v15h-15zM570.7 680.6h15v15h-15zM570.8 679.6h15v15h-15zM570.9 678.6h15v15h-15zM571 677.6h15v15h-15zM571.1 676.6h15v15h-15zM571.3 675.6h15v15h-15zM571.4 674.6h15v15h-15zM571.5 673.6h15v15h-15zM571.6 672.6h15v15h-15zM571.8 671.6h15v15h-15zM571.9 670.6h15v15h-15zM572.1 669.7h15v15h-15zM572.2 668.7h15v15h-15zM572.4 667.7h15v15h-15zM572.6 666.7h15v15h-15zM572.7 665.7h15v15h-15zM572.9 664.7h15v15h-15zM573.1 663.7h15v15h-15zM573.3 662.8h15v15h-15zM573.5 661.8h15v15h-15zM573.7 660.8h15v15h-15zM573.9 659.8h15v15h-15zM574.1 658.9h15v15h-15zM574.4 657.9h15v15h-15zM574.6 656.9h15v15h-15zM574.9 655.9h15v15h-15zM575.1 655h15v15h-15zM575.4 654h15v15h-15zM575.6 653h15v15h-15zM575.9 652.1h15v15h-15zM576.2 651.1h15v15h-15zM576.5 650.2h15v15h-15zM576.7 649.2h15v15h-15zM577 648.2h15v15h-15zM577.3 647.3h15v15h-15zM577.6 646.3h15v15h-15zM577.8 645.3h15v15h-15zM578.1 644.4h15v15h-15zM578.4 643.4h15v15h-15zM578.6 642.5h15v15h-15zM578.9 641.5h15v15h-15zM579.2 640.5h15v15h-15zM579.5 639.6h15v15h-15zM579.8 638.6h15v15h-15zM580.1 637.7h15v15h-15zM580.3 636.7h15v15h-15zM580.6 635.7h15v15h-15zM580.9 634.8h15v15h-15zM581.2 633.8h15v15h-15zM581.5 632.9h15v15h-15zM581.8 631.9h15v15h-15zM582.1 631h15v15h-15zM582.4 630h15v15h-15zM582.7 629h15v15h-15zM583 628.1h15v15h-15zM583.3 627.1h15v15h-15zM583.6 626.2h15v15h-15zM583.9 625.2h15v15h-15zM584.2 624.3h15v15h-15zM584.5 623.3h15v15h-15zM584.9 622.4h15v15h-15zM585.2 621.4h15v15h-15zM585.5 620.5h15v15h-15zM585.8 619.6h15v15h-15zM586.2 618.6h15v15h-15zM586.5 617.7h15v15h-15zM586.8 616.7h15v15h-15zM587.1 615.8h15v15h-15zM587.5 614.8h15v15h-15zM587.8 613.9h15v15h-15zM588.2 612.9h15v15h-15zM588.5 612h15v15h-15zM588.9 611.1h15v15h-15zM589.2 610.1h15v15h-15zM589.6 609.2h15v15h-15zM590 608.3h15v15h-15zM590.4 607.4h15v15h-15zM590.7 606.4h15v15h-15zM591.1 605.5h15v15h-15zM591.5 604.6h15v15h-15zM591.9 603.6h15v15h-15zM592.3 602.7h15v15h-15zM592.7 601.8h15v15h-15zM593.2 600.9h15v15h-15zM593.6 600h15v15h-15zM594.1 599.1h15v15h-15zM594.6 598.3h15v15h-15zM595.1 597.4h15v15h-15zM595.6 596.6h15v15h-15zM596.2 595.8h15v15h-15zM596.8 595h15v15h-15zM597.4 594.2h15v15h-15zM598 593.4h15v15h-15zM598.7 592.7h15v15h-15zM599.3 591.9h15v15h-15zM600 591.1h15v15h-15zM600.6 590.3h15v15h-15zM601.3 589.6h15v15h-15zM601.9 588.8h15v15h-15zM602.6 588h15v15h-15zM603.2 587.3h15v15h-15zM603.9 586.5h15v15h-15zM604.5 585.8h15v15h-15zM605.2 585h15v15h-15zM605.8 584.3h15v15h-15zM606.5 583.5h15v15h-15zM607.2 582.8h15v15h-15zM607.8 582h15v15h-15zM608.5 581.3h15v15h-15zM609.2 580.6h15v15h-15zM609.9 579.8h15v15h-15zM610.6 579.1h15v15h-15zM611.2 578.4h15v15h-15zM611.9 577.6h15v15h-15zM612.6 576.9h15v15h-15zM613.3 576.1h15v15h-15zM613.9 575.4h15v15h-15zM614.6 574.6h15v15h-15zM615.2 573.9h15v15h-15zM615.9 573.1h15v15h-15zM616.6 572.4h15v15h-15zM617.3 571.7h15v15h-15zM618 571h15v15h-15zM618.8 570.4h15v15h-15zM619.6 569.8h15v15h-15zM620.4 569.2h15v15h-15zM621.2 568.6h15v15h-15zM622 568h15v15h-15zM622.9 567.5h15v15h-15zM623.7 566.9h15v15h-15zM624.5 566.3h15v15h-15zM625.3 565.7h15v15h-15zM626.1 565.1h15v15h-15zM626.9 564.6h15v15h-15zM627.7 564h15v15h-15zM628.6 563.4h15v15h-15zM629.4 562.8h15v15h-15zM630.2 562.3h15v15h-15zM631.1 561.7h15v15h-15zM631.9 561.2h15v15h-15zM632.7 560.7h15v15h-15zM633.6 560.1h15v15h-15zM634.4 559.6h15v15h-15zM635.3 559.1h15v15h-15zM636.2 558.6h15v15h-15zM637 558.1h15v15h-15zM637.9 557.6h15v15h-15zM638.8 557.1h15v15h-15zM639.6 556.6h15v15h-15zM640.5 556.1h15v15h-15zM641.4 555.6h15v15h-15zM642.2 555.1h15v15h-15zM643.1 554.6h15v15h-15zM643.9 554h15v15h-15zM644.8 553.5h15v15h-15zM645.6 553h15v15h-15zM646.5 552.5h15v15h-15zM647.3 551.9h15v15h-15zM648.2 551.4h15v15h-15zM649 550.9h15v15h-15zM649.9 550.4h15v15h-15zM650.7 549.8h15v15h-15zM651.6 549.3h15v15h-15zM652.4 548.8h15v15h-15zM653.3 548.2h15v15h-15zM654.1 547.7h15v15h-15zM655 547.2h15v15h-15zM655.8 546.6h15v15h-15zM656.7 546.1h15v15h-15zM657.5 545.6h15v15h-15zM658.4 545.1h15v15h-15zM659.3 544.6h15v15h-15zM660.2 544.1h15v15h-15zM661 543.7h15v15h-15zM661.9 543.2h15v15h-15zM662.8 542.8h15v15h-15zM663.7 542.3h15v15h-15zM664.6 541.9h15v15h-15zM665.5 541.4h15v15h-15zM666.4 541h15v15h-15zM667.3 540.6h15v15h-15zM668.2 540.2h15v15h-15zM669.2 539.8h15v15h-15zM670.1 539.4h15v15h-15zM671 539h15v15h-15zM786.1 724h15v15h-15zM786.2 723h15v15h-15zM786.3 722h15v15h-15zM786.3 721h15v15h-15zM786.4 720h15v15h-15zM786.5 719h15v15h-15zM786.5 718h15v15h-15zM786.6 717h15v15h-15zM786.6 716h15v15h-15zM786.7 715h15v15h-15zM786.7 714h15v15h-15zM786.7 713h15v15h-15zM786.8 712h15v15h-15zM786.8 711h15v15h-15zM786.8 710h15v15h-15zM786.8 709h15v15h-15zM786.8 708h15v15h-15zM786.9 707h15v15h-15zM786.9 706h15v15h-15zM786.9 705h15v15h-15zM786.9 704h15v15h-15zM787 703h15v15h-15zM787 702h15v15h-15zM787 701h15v15h-15zM787.1 700h15v15h-15zM787.2 699h15v15h-15zM787.3 698h15v15h-15zM787.5 697h15v15h-15zM787.6 696h15v15h-15zM787.8 695h15v15h-15zM788 694h15v15h-15zM788.1 693h15v15h-15zM788.3 692h15v15h-15zM788.4 691h15v15h-15zM788.6 690h15v15h-15zM788.7 689.1h15v15h-15zM788.8 688.1h15v15h-15zM788.9 687.1h15v15h-15zM789 686.1h15v15h-15zM789.1 685.1h15v15h-15zM789.2 684.1h15v15h-15zM789.3 683.1h15v15h-15zM789.4 682.1h15v15h-15zM789.5 681.1h15v15h-15zM789.6 680.1h15v15h-15zM789.7 679.1h15v15h-15zM789.8 678.1h15v15h-15zM789.9 677.1h15v15h-15zM790.1 676.1h15v15h-15zM790.2 675.1h15v15h-15zM790.3 674.1h15v15h-15zM790.5 673.1h15v15h-15zM790.6 672.1h15v15h-15zM790.8 671.1h15v15h-15zM791 670.1h15v15h-15zM791.2 669.2h15v15h-15zM791.3 668.2h15v15h-15zM791.5 667.2h15v15h-15zM791.7 666.2h15v15h-15zM791.9 665.2h15v15h-15zM792.1 664.2h15v15h-15zM792.3 663.3h15v15h-15zM792.5 662.3h15v15h-15zM792.8 661.3h15v15h-15zM793 660.3h15v15h-15zM793.3 659.4h15v15h-15zM793.5 658.4h15v15h-15zM793.8 657.4h15v15h-15zM794.1 656.5h15v15h-15zM794.3 655.5h15v15h-15zM794.6 654.5h15v15h-15zM794.9 653.6h15v15h-15zM795.1 652.6h15v15h-15zM795.4 651.6h15v15h-15zM795.6 650.6h15v15h-15zM795.8 649.7h15v15h-15zM796.1 648.7h15v15h-15zM796.3 647.7h15v15h-15zM796.5 646.7h15v15h-15zM796.8 645.8h15v15h-15zM797 644.8h15v15h-15zM797.2 643.8h15v15h-15zM797.4 642.8h15v15h-15zM797.7 641.9h15v15h-15zM797.9 640.9h15v15h-15zM798.1 639.9h15v15h-15zM798.4 638.9h15v15h-15zM798.6 638h15v15h-15zM798.9 637h15v15h-15zM799.1 636h15v15h-15zM799.4 635.1h15v15h-15zM799.6 634.1h15v15h-15zM799.9 633.1h15v15h-15zM800.2 632.1h15v15h-15zM800.4 631.2h15v15h-15zM800.7 630.2h15v15h-15zM801 629.3h15v15h-15zM801.3 628.3h15v15h-15zM801.5 627.3h15v15h-15zM801.8 626.4h15v15h-15zM802.1 625.4h15v15h-15zM802.4 624.5h15v15h-15zM802.7 623.5h15v15h-15zM803 622.5h15v15h-15zM803.3 621.6h15v15h-15zM803.7 620.6h15v15h-15zM804 619.7h15v15h-15zM804.3 618.7h15v15h-15zM804.7 617.8h15v15h-15zM805 616.8h15v15h-15zM805.4 615.9h15v15h-15zM805.7 615h15v15h-15zM806.1 614.1h15v15h-15zM806.5 613.1h15v15h-15zM806.9 612.2h15v15h-15zM807.3 611.3h15v15h-15zM807.7 610.4h15v15h-15zM808.1 609.5h15v15h-15zM808.6 608.6h15v15h-15zM809 607.7h15v15h-15zM809.5 606.8h15v15h-15zM809.9 605.9h15v15h-15zM810.4 605h15v15h-15zM810.9 604.1h15v15h-15zM811.4 603.2h15v15h-15zM811.9 602.4h15v15h-15zM812.4 601.5h15v15h-15zM813 600.7h15v15h-15zM813.5 599.9h15v15h-15zM814.1 599h15v15h-15zM814.7 598.2h15v15h-15zM815.3 597.5h15v15h-15zM815.9 596.7h15v15h-15zM816.5 595.9h15v15h-15zM817.2 595.1h15v15h-15zM817.8 594.4h15v15h-15zM818.5 593.6h15v15h-15zM819.2 592.8h15v15h-15zM819.8 592.1h15v15h-15zM820.5 591.3h15v15h-15zM821.2 590.6h15v15h-15zM821.8 589.8h15v15h-15zM822.5 589h15v15h-15zM823.1 588.3h15v15h-15zM823.8 587.5h15v15h-15zM824.4 586.7h15v15h-15zM825.1 586h15v15h-15zM825.7 585.2h15v15h-15zM826.4 584.5h15v15h-15zM827 583.7h15v15h-15zM827.7 583h15v15h-15zM828.4 582.2h15v15h-15zM829 581.5h15v15h-15zM829.7 580.7h15v15h-15zM830.4 580h15v15h-15zM831 579.2h15v15h-15zM831.7 578.5h15v15h-15zM832.4 577.7h15v15h-15zM833.1 577h15v15h-15zM833.7 576.2h15v15h-15zM834.4 575.5h15v15h-15zM835.1 574.7h15v15h-15zM835.8 574h15v15h-15zM836.5 573.3h15v15h-15zM837.2 572.5h15v15h-15zM837.8 571.8h15v15h-15zM838.6 571.1h15v15h-15zM839.3 570.4h15v15h-15zM840 569.7h15v15h-15zM840.7 569.1h15v15h-15zM841.5 568.4h15v15h-15zM842.2 567.8h15v15h-15zM843 567.2h15v15h-15zM843.8 566.6h15v15h-15zM844.6 566h15v15h-15zM845.5 565.4h15v15h-15zM846.3 564.8h15v15h-15zM847.1 564.2h15v15h-15zM847.9 563.6h15v15h-15zM848.7 563h15v15h-15zM849.5 562.4h15v15h-15zM850.3 561.8h15v15h-15zM851.1 561.2h15v15h-15zM851.9 560.6h15v15h-15zM852.7 559.9h15v15h-15zM853.4 559.3h15v15h-15zM854.2 558.6h15v15h-15zM855 558h15v15h-15zM855.8 557.3h15v15h-15zM856.5 556.7h15v15h-15zM857.3 556.1h15v15h-15zM858.1 555.5h15v15h-15zM859 554.9h15v15h-15zM859.8 554.4h15v15h-15zM860.6 553.9h15v15h-15zM861.5 553.4h15v15h-15zM862.4 552.9h15v15h-15zM863.2 552.4h15v15h-15zM864.1 551.9h15v15h-15zM865 551.5h15v15h-15zM865.9 551h15v15h-15zM866.8 550.5h15v15h-15zM867.7 550h15v15h-15zM868.6 549.6h15v15h-15zM869.4 549.1h15v15h-15zM870.3 548.6h15v15h-15zM871.2 548.1h15v15h-15zM872.1 547.6h15v15h-15zM872.9 547.1h15v15h-15zM873.8 546.6h15v15h-15zM874.7 546.1h15v15h-15zM875.5 545.6h15v15h-15zM876.4 545.1h15v15h-15zM877.3 544.6h15v15h-15zM878.2 544.2h15v15h-15zM879.1 543.8h15v15h-15zM880 543.3h15v15h-15zM880.9 542.9h15v15h-15zM881.8 542.5h15v15h-15zM882.8 542.1h15v15h-15zM883.7 541.7h15v15h-15zM884.6 541.3h15v15h-15zM885.5 540.9h15v15h-15zM886.5 540.5h15v15h-15zM887.4 540.2h15v15h-15zM888.3 539.8h15v15h-15zM889.2 539.4h15v15h-15zM890.2 539.1h15v15h-15zM891.1 538.7h15v15h-15zM892.1 538.3h15v15h-15zM893 538h15v15h-15zM1046 704.5h15v15h-15zM1046 703.5h15v15h-15zM1046.1 702.5h15v15h-15zM1046.2 701.5h15v15h-15zM1046.2 700.5h15v15h-15zM1046.3 699.5h15v15h-15zM1046.4 698.5h15v15h-15zM1046.5 697.5h15v15h-15zM1046.6 696.5h15v15h-15zM1046.7 695.5h15v15h-15zM1046.8 694.5h15v15h-15zM1046.9 693.5h15v15h-15zM1047 692.5h15v15h-15zM1047.1 691.5h15v15h-15zM1047.3 690.6h15v15h-15zM1047.4 689.6h15v15h-15zM1047.6 688.6h15v15h-15zM1047.7 687.6h15v15h-15zM1047.9 686.6h15v15h-15zM1048.1 685.6h15v15h-15zM1048.3 684.6h15v15h-15zM1048.5 683.7h15v15h-15zM1048.7 682.7h15v15h-15zM1048.9 681.7h15v15h-15zM1049.1 680.7h15v15h-15zM1049.4 679.7h15v15h-15zM1049.6 678.8h15v15h-15zM1049.8 677.8h15v15h-15zM1050.1 676.8h15v15h-15zM1050.3 675.9h15v15h-15zM1050.6 674.9h15v15h-15zM1050.9 673.9h15v15h-15zM1051.1 673h15v15h-15zM1051.4 672h15v15h-15zM1051.7 671h15v15h-15zM1052 670.1h15v15h-15zM1052.2 669.1h15v15h-15zM1052.5 668.1h15v15h-15zM1052.7 667.2h15v15h-15zM1053 666.2h15v15h-15zM1053.2 665.2h15v15h-15zM1053.4 664.2h15v15h-15zM1053.6 663.3h15v15h-15zM1053.8 662.3h15v15h-15zM1054 661.3h15v15h-15zM1054.2 660.3h15v15h-15zM1054.3 659.3h15v15h-15zM1054.5 658.4h15v15h-15zM1054.7 657.4h15v15h-15zM1054.9 656.4h15v15h-15zM1055.1 655.4h15v15h-15zM1055.3 654.4h15v15h-15zM1055.5 653.4h15v15h-15zM1055.7 652.5h15v15h-15zM1055.9 651.5h15v15h-15zM1056.1 650.5h15v15h-15zM1056.2 649.5h15v15h-15zM1056.4 648.5h15v15h-15zM1056.6 647.5h15v15h-15zM1056.8 646.6h15v15h-15zM1057 645.6h15v15h-15zM1057.2 644.6h15v15h-15zM1057.4 643.6h15v15h-15zM1057.6 642.6h15v15h-15zM1057.9 641.7h15v15h-15zM1058.1 640.7h15v15h-15zM1058.3 639.7h15v15h-15zM1058.6 638.8h15v15h-15zM1058.8 637.8h15v15h-15zM1059.1 636.8h15v15h-15zM1059.3 635.8h15v15h-15zM1059.6 634.9h15v15h-15zM1059.9 633.9h15v15h-15zM1060.1 632.9h15v15h-15zM1060.4 632h15v15h-15zM1060.7 631h15v15h-15zM1061 630.1h15v15h-15zM1061.3 629.1h15v15h-15zM1061.6 628.2h15v15h-15zM1061.9 627.2h15v15h-15zM1062.3 626.3h15v15h-15zM1062.6 625.3h15v15h-15zM1063 624.4h15v15h-15zM1063.3 623.5h15v15h-15zM1063.7 622.6h15v15h-15zM1064.1 621.6h15v15h-15zM1064.5 620.7h15v15h-15zM1064.9 619.8h15v15h-15zM1065.2 618.8h15v15h-15zM1065.6 617.9h15v15h-15zM1066 617h15v15h-15zM1066.4 616.1h15v15h-15zM1066.8 615.1h15v15h-15zM1067.1 614.2h15v15h-15zM1067.5 613.3h15v15h-15zM1067.9 612.3h15v15h-15zM1068.2 611.4h15v15h-15zM1068.6 610.5h15v15h-15zM1069 609.5h15v15h-15zM1069.4 608.6h15v15h-15zM1069.7 607.7h15v15h-15zM1070.1 606.8h15v15h-15zM1070.5 605.8h15v15h-15zM1070.9 604.9h15v15h-15zM1071.3 604h15v15h-15zM1071.8 603.1h15v15h-15zM1072.2 602.2h15v15h-15zM1072.7 601.4h15v15h-15zM1073.2 600.5h15v15h-15zM1073.7 599.6h15v15h-15zM1074.1 598.7h15v15h-15zM1074.7 597.9h15v15h-15zM1075.2 597h15v15h-15zM1075.7 596.2h15v15h-15zM1076.2 595.3h15v15h-15zM1076.8 594.5h15v15h-15zM1077.3 593.6h15v15h-15zM1077.9 592.8h15v15h-15zM1078.4 591.9h15v15h-15zM1079 591.1h15v15h-15zM1079.5 590.3h15v15h-15zM1080.1 589.5h15v15h-15zM1080.7 588.6h15v15h-15zM1081.3 587.8h15v15h-15zM1081.8 587h15v15h-15zM1082.4 586.2h15v15h-15zM1083 585.4h15v15h-15zM1083.6 584.6h15v15h-15zM1084.3 583.8h15v15h-15zM1084.9 583h15v15h-15zM1085.5 582.2h15v15h-15zM1086.1 581.4h15v15h-15zM1086.8 580.7h15v15h-15zM1087.4 579.9h15v15h-15zM1088.1 579.2h15v15h-15zM1088.7 578.4h15v15h-15zM1089.4 577.7h15v15h-15zM1090.1 577h15v15h-15zM1090.8 576.2h15v15h-15zM1091.5 575.5h15v15h-15zM1092.2 574.8h15v15h-15zM1092.9 574.2h15v15h-15zM1093.7 573.5h15v15h-15zM1094.4 572.8h15v15h-15zM1095.1 572.1h15v15h-15zM1095.9 571.4h15v15h-15zM1096.6 570.8h15v15h-15zM1097.4 570.1h15v15h-15zM1098.1 569.5h15v15h-15zM1098.9 568.8h15v15h-15zM1099.7 568.1h15v15h-15zM1100.4 567.5h15v15h-15zM1101.2 566.8h15v15h-15zM1101.9 566.1h15v15h-15zM1102.7 565.5h15v15h-15zM1103.4 564.8h15v15h-15zM1104.1 564.1h15v15h-15zM1104.9 563.5h15v15h-15zM1105.6 562.8h15v15h-15zM1106.4 562.1h15v15h-15zM1107.1 561.5h15v15h-15zM1107.9 560.8h15v15h-15zM1108.7 560.2h15v15h-15zM1109.4 559.5h15v15h-15zM1110.2 558.9h15v15h-15zM1111 558.3h15v15h-15zM1111.8 557.7h15v15h-15zM1112.6 557.1h15v15h-15zM1113.4 556.4h15v15h-15zM1114.2 555.8h15v15h-15zM1115 555.2h15v15h-15zM1115.8 554.7h15v15h-15zM1116.6 554.1h15v15h-15zM1117.4 553.5h15v15h-15zM1118.2 552.9h15v15h-15zM1119.1 552.4h15v15h-15zM1119.9 551.8h15v15h-15zM1120.7 551.3h15v15h-15zM1121.6 550.8h15v15h-15zM1122.4 550.2h15v15h-15zM1123.3 549.7h15v15h-15zM1124.1 549.2h15v15h-15zM1125 548.6h15v15h-15zM1125.9 548.1h15v15h-15zM1126.7 547.6h15v15h-15zM1127.6 547.1h15v15h-15zM1128.5 546.6h15v15h-15zM1129.3 546.1h15v15h-15zM1130.2 545.6h15v15h-15zM1131.1 545.1h15v15h-15zM1132 544.6h15v15h-15zM1132.8 544.1h15v15h-15zM1133.7 543.7h15v15h-15zM1134.6 543.2h15v15h-15zM1135.5 542.8h15v15h-15zM1136.4 542.4h15v15h-15zM1137.3 541.9h15v15h-15zM1138.2 541.5h15v15h-15zM1139.1 541.1h15v15h-15zM1140 540.7h15v15h-15zM1140.9 540.3h15v15h-15zM1141.9 539.9h15v15h-15zM1142.8 539.5h15v15h-15zM1143.7 539.1h15v15h-15zM1144.6 538.7h15v15h-15zM1145.6 538.4h15v15h-15zM1146.5 538h15v15h-15zM1147.5 537.6h15v15h-15zM1148.4 537.3h15v15h-15zM1149.3 536.9h15v15h-15zM1150.3 536.6h15v15h-15zM1151.2 536.3h15v15h-15zM1152.2 535.9h15v15h-15zM1153.1 535.6h15v15h-15zM1154.1 535.3h15v15h-15zM1155 535h15v15h-15zM1156 534.8h15v15h-15zM1157 534.5h15v15h-15zM1157.9 534.2h15v15h-15zM1158.9 534h15v15h-15zM1159.8 533.7h15v15h-15zM1160.8 533.5h15v15h-15zM1161.8 533.2h15v15h-15zM1162.8 533h15v15h-15zM1163.7 532.7h15v15h-15zM1164.7 532.5h15v15h-15zM1165.7 532.3h15v15h-15zM1166.7 532h15v15h-15zM1167.7 531.8h15v15h-15zM1168.6 531.6h15v15h-15zM1169.6 531.5h15v15h-15zM1170.6 531.3h15v15h-15zM1171.6 531.1h15v15h-15zM1172.6 530.9h15v15h-15zM1173.6 530.8h15v15h-15zM1174.6 530.7h15v15h-15zM1175.5 530.5h15v15h-15zM1176.5 530.4h15v15h-15zM1177.5 530.3h15v15h-15zM1178.5 530.2h15v15h-15zM1179.5 530h15v15h-15zM1180.5 529.9h15v15h-15zM1181.5 529.8h15v15h-15zM1182.5 529.7h15v15h-15zM1183.5 529.6h15v15h-15zM1184.5 529.5h15v15h-15zM1185.5 529.4h15v15h-15zM1186.5 529.3h15v15h-15zM1187.5 529.3h15v15h-15zM1188.5 529.2h15v15h-15zM1189.5 529.1h15v15h-15zM1190.5 529.1h15v15h-15zM1191.5 529h15v15h-15zM1192.5 529h15v15h-15zM1343.5 743.5h15v15h-15zM1343.6 742.5h15v15h-15zM1343.6 741.5h15v15h-15zM1343.7 740.5h15v15h-15zM1343.8 739.5h15v15h-15zM1343.8 738.5h15v15h-15zM1343.9 737.5h15v15h-15zM1343.9 736.5h15v15h-15zM1344 735.5h15v15h-15zM1344 734.5h15v15h-15zM1344.1 733.5h15v15h-15zM1344.1 732.5h15v15h-15zM1344.1 731.5h15v15h-15zM1344.1 730.5h15v15h-15zM1344.2 729.5h15v15h-15zM1344.2 728.5h15v15h-15zM1344.2 727.5h15v15h-15zM1344.3 726.5h15v15h-15zM1344.3 725.5h15v15h-15zM1344.3 724.5h15v15h-15zM1344.4 723.5h15v15h-15zM1344.4 722.5h15v15h-15zM1344.5 721.5h15v15h-15zM1344.6 720.5h15v15h-15zM1344.6 719.5h15v15h-15zM1344.7 718.5h15v15h-15zM1344.8 717.5h15v15h-15zM1344.9 716.5h15v15h-15zM1344.9 715.5h15v15h-15zM1345 714.5h15v15h-15zM1345.1 713.5h15v15h-15zM1345.2 712.5h15v15h-15zM1345.3 711.5h15v15h-15zM1345.4 710.5h15v15h-15zM1345.5 709.5h15v15h-15zM1345.6 708.5h15v15h-15zM1345.7 707.5h15v15h-15zM1345.8 706.5h15v15h-15zM1345.9 705.5h15v15h-15zM1346 704.5h15v15h-15zM1346.1 703.5h15v15h-15zM1346.2 702.5h15v15h-15zM1346.3 701.5h15v15h-15zM1346.4 700.5h15v15h-15zM1346.5 699.5h15v15h-15zM1346.6 698.5h15v15h-15zM1346.7 697.5h15v15h-15zM1346.8 696.5h15v15h-15zM1347 695.5h15v15h-15zM1347.1 694.5h15v15h-15zM1347.2 693.5h15v15h-15zM1347.3 692.5h15v15h-15zM1347.5 691.5h15v15h-15zM1347.6 690.5h15v15h-15zM1347.7 689.5h15v15h-15zM1347.9 688.5h15v15h-15zM1348 687.5h15v15h-15zM1348.2 686.5h15v15h-15zM1348.4 685.6h15v15h-15zM1348.5 684.6h15v15h-15zM1348.7 683.6h15v15h-15zM1348.9 682.6h15v15h-15zM1349.1 681.6h15v15h-15zM1349.4 680.7h15v15h-15zM1349.6 679.7h15v15h-15zM1349.8 678.7h15v15h-15zM1350.1 677.7h15v15h-15zM1350.3 676.8h15v15h-15zM1350.6 675.8h15v15h-15zM1350.9 674.8h15v15h-15zM1351.1 673.8h15v15h-15zM1351.4 672.9h15v15h-15zM1351.7 671.9h15v15h-15zM1351.9 670.9h15v15h-15zM1352.2 670h15v15h-15zM1352.5 669h15v15h-15zM1352.8 668.1h15v15h-15zM1353.1 667.1h15v15h-15zM1353.4 666.1h15v15h-15zM1353.7 665.2h15v15h-15zM1354 664.2h15v15h-15zM1354.3 663.3h15v15h-15zM1354.6 662.3h15v15h-15zM1354.8 661.3h15v15h-15zM1355.1 660.4h15v15h-15zM1355.4 659.4h15v15h-15zM1355.6 658.4h15v15h-15zM1355.9 657.5h15v15h-15zM1356.1 656.5h15v15h-15zM1356.4 655.5h15v15h-15zM1356.6 654.6h15v15h-15zM1356.9 653.6h15v15h-15zM1357.1 652.6h15v15h-15zM1357.4 651.6h15v15h-15zM1357.6 650.7h15v15h-15zM1357.9 649.7h15v15h-15zM1358.2 648.7h15v15h-15zM1358.4 647.8h15v15h-15zM1358.7 646.8h15v15h-15zM1359 645.8h15v15h-15zM1359.2 644.9h15v15h-15zM1359.5 643.9h15v15h-15zM1359.8 642.9h15v15h-15zM1360 642h15v15h-15zM1360.3 641h15v15h-15zM1360.6 640h15v15h-15zM1360.8 639h15v15h-15zM1361.1 638.1h15v15h-15zM1361.4 637.1h15v15h-15zM1361.7 636.2h15v15h-15zM1362 635.2h15v15h-15zM1362.3 634.2h15v15h-15zM1362.6 633.3h15v15h-15zM1362.9 632.3h15v15h-15zM1363.2 631.4h15v15h-15zM1363.5 630.4h15v15h-15zM1363.9 629.5h15v15h-15zM1364.2 628.6h15v15h-15zM1364.6 627.6h15v15h-15zM1364.9 626.7h15v15h-15zM1365.3 625.8h15v15h-15zM1365.7 624.8h15v15h-15zM1366.1 623.9h15v15h-15zM1366.5 623h15v15h-15zM1366.9 622.1h15v15h-15zM1367.3 621.1h15v15h-15zM1367.7 620.2h15v15h-15zM1368.1 619.3h15v15h-15zM1368.6 618.4h15v15h-15zM1369 617.5h15v15h-15zM1369.4 616.6h15v15h-15zM1369.9 615.7h15v15h-15zM1370.3 614.8h15v15h-15zM1370.8 613.9h15v15h-15zM1371.2 613h15v15h-15zM1371.7 612.1h15v15h-15zM1372.2 611.2h15v15h-15zM1372.7 610.4h15v15h-15zM1373.2 609.5h15v15h-15zM1373.7 608.6h15v15h-15zM1374.2 607.8h15v15h-15zM1374.7 606.9h15v15h-15zM1375.2 606.1h15v15h-15zM1375.8 605.2h15v15h-15zM1376.3 604.4h15v15h-15zM1376.9 603.5h15v15h-15zM1377.4 602.7h15v15h-15zM1378 601.9h15v15h-15zM1378.5 601h15v15h-15zM1379.1 600.2h15v15h-15zM1379.6 599.3h15v15h-15zM1380.2 598.5h15v15h-15zM1380.7 597.7h15v15h-15zM1381.3 596.8h15v15h-15zM1381.8 596h15v15h-15zM1382.4 595.1h15v15h-15zM1382.9 594.3h15v15h-15zM1383.5 593.5h15v15h-15zM1384 592.6h15v15h-15zM1384.6 591.8h15v15h-15zM1385.1 590.9h15v15h-15zM1385.7 590.1h15v15h-15zM1386.2 589.3h15v15h-15zM1386.8 588.4h15v15h-15zM1387.4 587.6h15v15h-15zM1387.9 586.8h15v15h-15zM1388.5 585.9h15v15h-15zM1389.1 585.1h15v15h-15zM1389.6 584.3h15v15h-15zM1390.2 583.5h15v15h-15zM1390.8 582.7h15v15h-15zM1391.4 581.8h15v15h-15zM1392 581h15v15h-15zM1392.5 580.2h15v15h-15zM1393.1 579.4h15v15h-15zM1393.7 578.6h15v15h-15zM1394.3 577.8h15v15h-15zM1394.9 577h15v15h-15zM1395.5 576.2h15v15h-15zM1396.1 575.4h15v15h-15zM1396.8 574.6h15v15h-15zM1397.4 573.8h15v15h-15zM1398 573h15v15h-15zM1398.7 572.3h15v15h-15zM1399.3 571.5h15v15h-15zM1400 570.8h15v15h-15zM1400.7 570.1h15v15h-15zM1401.4 569.3h15v15h-15zM1402.1 568.6h15v15h-15zM1402.8 567.9h15v15h-15zM1403.5 567.2h15v15h-15zM1404.3 566.5h15v15h-15zM1405 565.8h15v15h-15zM1405.7 565.1h15v15h-15zM1406.5 564.4h15v15h-15zM1407.2 563.8h15v15h-15zM1408 563.1h15v15h-15zM1408.7 562.5h15v15h-15zM1409.5 561.8h15v15h-15zM1410.3 561.2h15v15h-15zM1411 560.5h15v15h-15zM1411.8 559.9h15v15h-15zM1412.6 559.3h15v15h-15zM1413.4 558.7h15v15h-15zM1414.2 558.1h15v15h-15zM1415 557.5h15v15h-15zM1415.9 556.9h15v15h-15zM1416.7 556.3h15v15h-15zM1417.5 555.8h15v15h-15zM1418.4 555.3h15v15h-15zM1419.2 554.8h15v15h-15zM1420.1 554.3h15v15h-15zM1420.9 553.8h15v15h-15zM1421.8 553.3h15v15h-15zM1422.7 552.8h15v15h-15zM1423.6 552.3h15v15h-15zM1424.5 551.9h15v15h-15zM1425.4 551.4h15v15h-15zM1426.3 551h15v15h-15zM1427.2 550.5h15v15h-15zM1428.1 550.1h15v15h-15zM1429 549.6h15v15h-15zM1429.9 549.2h15v15h-15zM1430.8 548.8h15v15h-15zM1431.7 548.3h15v15h-15zM1432.6 547.9h15v15h-15zM1433.5 547.4h15v15h-15zM1434.4 547h15v15h-15zM1435.3 546.5h15v15h-15zM1436.2 546.1h15v15h-15zM1437.1 545.6h15v15h-15zM1438 545.2h15v15h-15zM1438.9 544.7h15v15h-15zM1439.8 544.2h15v15h-15zM1440.7 543.8h15v15h-15zM1441.6 543.3h15v15h-15zM1442.5 542.8h15v15h-15zM1443.4 542.4h15v15h-15zM1444.3 541.9h15v15h-15zM1445.2 541.4h15v15h-15zM1446.1 541h15v15h-15zM1447 540.6h15v15h-15zM1447.9 540.1h15v15h-15zM1448.8 539.7h15v15h-15zM1449.7 539.3h15v15h-15zM1450.6 538.9h15v15h-15zM1451.5 538.5h15v15h-15zM1452.4 538.1h15v15h-15zM1453.4 537.8h15v15h-15zM1454.3 537.5h15v15h-15zM1455.3 537.1h15v15h-15zM1456.2 536.8h15v15h-15zM1457.1 536.5h15v15h-15zM1458.1 536.2h15v15h-15zM1459.1 535.9h15v15h-15zM1460 535.6h15v15h-15zM1461 535.3h15v15h-15zM1462 535.1h15v15h-15zM1462.9 534.8h15v15h-15zM1463.9 534.5h15v15h-15zM1464.9 534.3h15v15h-15zM1465.8 534h15v15h-15zM1466.8 533.8h15v15h-15zM1467.8 533.5h15v15h-15zM1468.8 533.3h15v15h-15zM1469.8 533.1h15v15h-15zM1470.7 532.8h15v15h-15zM1471.7 532.6h15v15h-15zM1472.7 532.4h15v15h-15zM1473.7 532.2h15v15h-15zM1474.7 532h15v15h-15zM1475.6 531.8h15v15h-15zM1476.6 531.6h15v15h-15zM1477.6 531.4h15v15h-15zM1478.6 531.2h15v15h-15zM1479.6 531.1h15v15h-15zM1480.6 530.9h15v15h-15zM1481.5 530.7h15v15h-15zM1482.5 530.5h15v15h-15zM1483.5 530.4h15v15h-15zM1484.5 530.2h15v15h-15zM1485.5 530.1h15v15h-15zM1486.5 529.9h15v15h-15zM1487.5 529.8h15v15h-15zM1488.5 529.6h15v15h-15zM1489.5 529.5h15v15h-15z" fill="#F0B9C3"/>
<path d="M300 716 300.9 715.4 301.7 714.7 302.6 714.1 303.4 713.4 304.3 712.8 305.1 712.1 306 711.5 306 383.6 306.5 148 308 202 308 212 309 220 312 225.5 381 227 381.6 436 381.3 1242.5 382 1143.5 383 1097.5 383 1066.5 384.3 1047 385.5 1029 385.5 1028 385.5 1027 385.5 1026 385.5 1025 385.5 1024 385.5 1023 385.5 1022 385.6 1021 385.6 1020 385.6 1019 385.6 1018 385.6 1017 385.6 1016 385.7 1015 385.7 1014 385.7 1013 385.8 1012 385.8 1011 385.9 1010 385.9 1008.9 386 1007.9 386.1 1006.9 386.1 1005.9 386.2 1004.9 386.2 1003.9 386.3 1002.9 386.3 1001.9 386.3 1000.9 386.4 999.9 386.4 998.9 386.4 997.9 386.4 996.9 386.4 995.9 386.4 994.9 386.5 993.9 386.5 992.9 386.5 991.9 386.5 990.9 386.5 989.9 386.5 988.9 386.5 987.9 386.5 986.9 386.5 985.9 386.5 984.9 386.5 983.9 386.5 982.9 386.6 981.9 386.6 980.9 386.6 979.9 386.6 978.9 386.7 977.9 386.7 976.9 386.8 975.9 386.9 974.9 386.9 973.9 387 972.9 387.2 971.9 387.3 970.9 387.4 969.9 387.5 968.9 387.6 967.9 387.8 966.9 387.9 965.9 388 964.9 388.1 963.9 388.3 962.9 388.4 961.9 388.5 960.9 388.6 959.9 388.7 958.9 388.8 957.9 388.9 956.9 389 955.9 389.1 954.9 389.1 953.9 389.2 952.9 389.3 951.9 389.4 950.9 389.5 949.9 389.6 948.9 389.7 947.9 389.8 946.9 389.9 945.9 390 944.9 390.1 943.9 390.2 942.9 390.3 941.9 390.4 940.9 390.5 939.9 390.5 938.9 390.6 937.9 390.7 936.9 390.8 935.9 390.9 934.9 391 933.9 391 932.9 391.1 931.9 391.2 930.9 391.3 929.9 391.4 928.9 391.5 927.9 391.6 926.9 391.6 925.9 391.8 925 391.9 924 392 923 392.1 922 392.2 921 392.4 920 392.5 919 392.7 918 392.8 917 393 916 393.2 915 393.3 914 393.5 913.1 393.7 912.1 393.9 911.1 394.1 910.1 394.3 909.1 394.4 908.1 394.6 907.1 394.8 906.1 395 905.2 395.1 904.2 395.3 903.2 395.4 902.2 395.6 901.2 395.7 900.2 395.9 899.2 396 898.2 396.2 897.2 396.3 896.2 396.5 895.2 396.6 894.3 396.8 893.3 396.9 892.3 397.1 891.3 397.2 890.3 397.3 889.3 397.5 888.3 397.6 887.3 397.8 886.3 397.9 885.3 398.1 884.3 398.2 883.3 398.4 882.3 398.5 881.3 398.6 880.4 398.8 879.4 398.9 878.4 399 877.4 399.2 876.4 399.3 875.4 399.4 874.4 399.6 873.4 399.7 872.4 399.9 871.4 400 870.4 400.2 869.4 400.3 868.4 400.5 867.4 400.7 866.5 400.9 865.5 401 864.5 401.3 863.5 401.5 862.5 401.7 861.6 401.9 860.6 402.2 859.6 402.4 858.6 402.6 857.7 402.9 856.7 403.1 855.7 403.4 854.7 403.6 853.8 403.9 852.8 404.1 851.8 404.4 850.9 404.6 849.9 404.9 848.9 405.1 847.9 405.3 846.9 405.5 846 405.7 845 405.9 844 406.1 843 406.3 842 406.4 841 406.6 840 406.8 839.1 407 838.1 407.1 837.1 407.3 836.1 407.5 835.1 407.7 834.1 407.8 833.1 408 832.1 408.2 831.2 408.4 830.2 408.6 829.2 408.8 828.2 409 827.2 409.3 826.3 409.5 825.3 409.8 824.3 410 823.3 410.2 822.4 410.5 821.4 410.8 820.4 411 819.5 411.3 818.5 411.6 817.5 411.8 816.6 412.1 815.6 412.4 814.6 412.7 813.7 412.9 812.7 413.2 811.7 413.5 810.8 413.8 809.8 414 808.8 414.3 807.9 414.6 806.9 414.9 806 415.2 805 415.4 804 415.7 803.1 416 802.1 416.3 801.1 416.6 800.2 416.9 799.2 417.2 798.3 417.5 797.3 417.8 796.3 418 795.4 418.3 794.4 418.6 793.5 418.8 792.5 419.1 791.5 419.4 790.5 419.6 789.6 419.8 788.6 420 787.6 420.3 786.6 420.5 785.6 420.7 784.7 420.9 783.7 421.1 782.7 421.3 781.7 421.5 780.7 421.8 779.8 422.1 778.8 422.4 777.9 422.7 776.9 423.1 776 423.5 775.1 423.9 774.2 424.3 773.2 424.7 772.3 425.1 771.4 425.5 770.5 426 769.6 426.4 768.7 426.8 767.8 427.3 766.9 427.7 766 428.2 765.1 428.6 764.2 429.1 763.3 429.5 762.4 429.9 761.5 430.4 760.6 430.8 759.6 431.2 758.7 431.5 757.8 431.9 756.9 432.2 755.9 432.6 755 432.9 754 433.3 753.1 433.6 752.1 434 751.2 434.4 750.3 434.8 749.4 435.3 748.5 435.8 747.7 436.3 746.8 436.9 745.9 437.4 745.1 437.9 744.2 438.5 743.4 439 742.5 439.5 741.6 439.9 740.8 440.4 739.9 440.9 739 441.3 738.1 441.8 737.2 442.3 736.3 442.8 735.5 443.4 734.6 443.9 733.8 444.5 733 445.1 732.2 445.7 731.4 446.3 730.5 446.8 729.7 447.4 728.9 448 728.1 448.5 727.2 449.1 726.4 449.6 725.5 450.2 724.7 450.7 723.9 451.3 723 451.9 722.2 452.4 721.4 453 720.5 453.5 719.7 454.1 718.9 454.8 718.2 455.6 717.6 456.4 717 457.3 716.5 458.2 716 458.5 504.3 458.5 129.7 459.5 198 460.5 215.5 461 222 468 225.5 569.5 227.5 570 239 572.3 1259.2 572.3 1157 572.3 1100.8 574.4 1067 575.3 1044 575.3 1030 576 1007.5 576 1006.5 576.1 1005.5 576.1 1004.5 576.2 1003.5 576.2 1002.5 576.3 1001.5 576.4 1000.5 576.4 999.5 576.5 998.5 576.6 997.5 576.7 996.5 576.7 995.5 576.8 994.5 576.9 993.5 577 992.5 577.1 991.5 577.2 990.5 577.3 989.5 577.4 988.6 577.5 987.6 577.6 986.6 577.7 985.6 577.9 984.6 578 983.6 578.1 982.6 578.3 981.6 578.4 980.6 578.6 979.6 578.7 978.6 578.9 977.6 579 976.7 579.1 975.7 579.3 974.7 579.4 973.7 579.5 972.7 579.6 971.7 579.7 970.7 579.8 969.7 579.9 968.7 579.9 967.7 580 966.7 580.1 965.7 580.1 964.7 580.2 963.7 580.2 962.7 580.3 961.7 580.3 960.7 580.4 959.7 580.4 958.7 580.4 957.7 580.5 956.7 580.5 955.7 580.6 954.7 580.6 953.7 580.7 952.7 580.7 951.7 580.8 950.7 580.8 949.7 580.9 948.7 581 947.7 581 946.7 581.1 945.7 581.1 944.7 581.2 943.7 581.2 942.7 581.3 941.7 581.4 940.7 581.4 939.7 581.5 938.7 581.6 937.7 581.6 936.7 581.7 935.8 581.8 934.8 581.8 933.8 581.9 932.8 582 931.8 582.1 930.8 582.2 929.8 582.3 928.8 582.4 927.8 582.5 926.8 582.6 925.8 582.7 924.8 582.8 923.8 583 922.8 583.1 921.8 583.2 920.8 583.3 919.8 583.5 918.8 583.6 917.9 583.7 916.9 583.8 915.9 584 914.9 584.1 913.9 584.2 912.9 584.3 911.9 584.4 910.9 584.5 909.9 584.6 908.9 584.7 907.9 584.7 906.9 584.8 905.9 584.9 904.9 585 903.9 585.1 902.9 585.2 901.9 585.3 900.9 585.3 899.9 585.4 898.9 585.5 897.9 585.6 896.9 585.7 896 585.8 895 586 894 586.1 893 586.2 892 586.4 891 586.5 890 586.7 889 586.9 888 587 887.1 587.2 886.1 587.4 885.1 587.6 884.1 587.8 883.1 588 882.1 588.1 881.2 588.3 880.2 588.5 879.2 588.7 878.2 588.9 877.2 589.1 876.2 589.3 875.3 589.5 874.3 589.7 873.3 589.9 872.3 590.1 871.3 590.3 870.4 590.5 869.4 590.7 868.4 590.9 867.4 591.1 866.4 591.3 865.5 591.5 864.5 591.7 863.5 591.9 862.5 592.1 861.5 592.3 860.6 592.5 859.6 592.7 858.6 592.9 857.6 593 856.6 593.2 855.7 593.4 854.7 593.6 853.7 593.8 852.7 593.9 851.7 594.1 850.7 594.3 849.7 594.4 848.8 594.6 847.8 594.8 846.8 594.9 845.8 595.1 844.8 595.3 843.8 595.4 842.8 595.6 841.9 595.8 840.9 596 839.9 596.1 838.9 596.3 837.9 596.5 836.9 596.7 835.9 596.9 835 597 834 597.2 833 597.4 832 597.6 831 597.8 830 597.9 829.1 598.1 828.1 598.3 827.1 598.5 826.1 598.7 825.1 598.9 824.1 599.1 823.2 599.3 822.2 599.5 821.2 599.7 820.2 600 819.3 600.2 818.3 600.4 817.3 600.7 816.4 601 815.4 601.3 814.5 601.5 813.5 601.8 812.5 602.2 811.6 602.5 810.6 602.8 809.7 603.1 808.8 603.5 807.8 603.8 806.9 604.1 805.9 604.5 805 604.8 804 605.1 803.1 605.5 802.1 605.8 801.2 606.1 800.2 606.4 799.3 606.7 798.3 607 797.4 607.3 796.4 607.6 795.5 607.9 794.5 608.2 793.6 608.5 792.6 608.8 791.7 609.1 790.7 609.4 789.8 609.7 788.8 610 787.8 610.3 786.9 610.6 785.9 610.9 785 611.2 784 611.5 783.1 611.8 782.1 612.1 781.2 612.4 780.2 612.7 779.2 612.9 778.3 613.2 777.3 613.5 776.3 613.7 775.4 614 774.4 614.3 773.4 614.6 772.5 614.9 771.6 615.3 770.6 615.6 769.7 616 768.8 616.4 767.9 616.9 767 617.3 766.1 617.8 765.2 618.2 764.3 618.7 763.4 619.1 762.5 619.6 761.6 620 760.7 620.5 759.8 620.9 758.9 621.4 758 621.8 757.1 622.3 756.2 622.8 755.4 623.2 754.5 623.7 753.6 624.1 752.7 624.6 751.8 625 750.9 625.4 750 625.9 749.1 626.3 748.2 626.6 747.2 627 746.3 627.4 745.4 627.8 744.4 628.2 743.5 628.6 742.6 629 741.7 629.5 740.9 630.1 740 630.6 739.2 631.2 738.4 631.8 737.6 632.4 736.8 633 736 633.5 735.1 634 734.3 634.5 733.4 635 732.5 635.4 731.6 635.9 730.7 636.4 729.8 636.9 728.9 637.4 728.1 637.9 727.3 638.5 726.5 639.1 725.7 639.8 724.9 640.4 724.2 641.1 723.4 641.8 722.7 642.5 722 643.1 721.2 643.8 720.4 644.4 719.7 645.1 718.9 645.7 718.1 646.3 717.3 646.9 716.5 647.5 715.7 648.2 715 648.8 714.2 649.5 713.4 650.1 712.7 650.8 712 651.5 711.3 652.2 710.6 653 709.9 653.7 709.2 654.4 708.5 655.1 707.8 655.9 707.1 656.6 706.4 657.3 705.7 658 704.9 658.6 704.2 659.3 703.4 660 702.7 660.8 702 661.5 701.5 662.4 701 663.2 700.6 664.2 700.2 665.1 699.8 666.1 699.4 667 699 667.9 698.6 668.8 698.1 669.6 697.5 670.5 696.9 671.3 696.4 672.2 695.9 673 695.5 674 695.1 674.9 694.8 675.8 694.4 676.8 694.1 677.7 693.8 678.7 693.6 679.7 693.3 680.7 693.2 681.7 693 681.4 452.2 681.5 152.8 681.4 202 683.5 202 682 212 683 220 690 225.5 793.2 228 795 1172.7 794 1144 795 1118 796.5 1091 797.3 1063.5 798 1044 798 1043 798 1042 798 1041 798 1040 798 1039 798.1 1038 798.1 1037 798.1 1036 798.1 1035 798.2 1034 798.3 1033 798.3 1032 798.4 1031 798.5 1030 798.6 1029 798.7 1028 798.8 1027 798.9 1026 799 1025 799.1 1024 799.2 1023 799.3 1022 799.4 1021 799.5 1020 799.6 1019 799.7 1018 799.7 1017 799.8 1016 799.8 1015 799.9 1014 800 1013 800 1012 800.1 1011 800.1 1010 800.1 1009 800.2 1008 800.2 1007 800.3 1006 800.3 1005 800.4 1004 800.4 1003 800.5 1002 800.5 1001 800.6 1000 800.7 999 800.7 998 800.8 997 800.9 996 801 995 801.1 994 801.2 993 801.3 992 801.4 991 801.5 990 801.6 989 801.7 988 801.8 987 801.9 986 802 985 802.1 984 802.2 983 802.3 982.1 802.4 981.1 802.5 980.1 802.5 979.1 802.6 978.1 802.7 977.1 802.7 976.1 802.8 975.1 802.8 974 802.8 973 802.9 972 802.9 971 803 970 803 969 803.1 968 803.1 967 803.2 966 803.2 965 803.3 964 803.3 963 803.4 962 803.5 961 803.5 960 803.6 959.1 803.8 958.1 803.9 957.1 804 956.1 804.2 955.1 804.3 954.1 804.5 953.1 804.7 952.1 804.9 951.1 805 950.1 805.2 949.2 805.4 948.2 805.6 947.2 805.7 946.2 805.9 945.2 806.1 944.2 806.2 943.2 806.3 942.2 806.5 941.2 806.6 940.2 806.7 939.2 806.8 938.2 806.9 937.2 807 936.3 807.1 935.3 807.2 934.3 807.3 933.3 807.4 932.3 807.5 931.3 807.6 930.3 807.6 929.3 807.7 928.3 807.8 927.3 807.9 926.3 808 925.3 808.1 924.3 808.2 923.3 808.3 922.3 808.5 921.3 808.6 920.3 808.7 919.3 808.8 918.3 808.9 917.3 809 916.3 809.1 915.3 809.2 914.3 809.4 913.3 809.5 912.3 809.6 911.3 809.7 910.3 809.8 909.3 810 908.4 810.1 907.4 810.2 906.4 810.4 905.4 810.5 904.4 810.6 903.4 810.8 902.4 810.9 901.4 811.1 900.4 811.3 899.4 811.4 898.4 811.6 897.5 811.8 896.5 812 895.5 812.2 894.5 812.3 893.5 812.5 892.5 812.7 891.5 812.9 890.6 813.1 889.6 813.2 888.6 813.4 887.6 813.6 886.6 813.8 885.6 813.9 884.6 814.1 883.6 814.2 882.7 814.4 881.7 814.5 880.7 814.7 879.7 814.8 878.7 815 877.7 815.1 876.7 815.2 875.7 815.4 874.7 815.5 873.7 815.7 872.7 815.8 871.7 816 870.8 816.1 869.8 816.3 868.8 816.5 867.8 816.6 866.8 816.8 865.8 817 864.8 817.2 863.8 817.4 862.9 817.6 861.9 817.8 860.9 818 859.9 818.2 858.9 818.4 858 818.6 857 818.8 856 819.1 855 819.3 854.1 819.5 853.1 819.7 852.1 820 851.1 820.2 850.2 820.4 849.2 820.7 848.2 820.9 847.2 821.2 846.3 821.4 845.3 821.6 844.3 821.9 843.3 822.1 842.4 822.4 841.4 822.7 840.4 822.9 839.5 823.2 838.5 823.4 837.5 823.7 836.6 824 835.6 824.2 834.6 824.5 833.7 824.8 832.7 825.1 831.7 825.3 830.8 825.6 829.8 825.9 828.9 826.2 827.9 826.5 826.9 826.8 826 827.1 825 827.4 824.1 827.7 823.1 828 822.2 828.3 821.2 828.6 820.3 828.9 819.3 829.3 818.4 829.6 817.4 829.9 816.5 830.2 815.5 830.5 814.6 830.9 813.6 831.2 812.7 831.5 811.7 831.8 810.8 832.1 809.8 832.4 808.9 832.8 807.9 833.1 807 833.4 806 833.7 805.1 834 804.1 834.3 803.1 834.6 802.2 835 801.2 835.3 800.3 835.6 799.3 835.9 798.4 836.2 797.4 836.5 796.5 836.8 795.5 837.1 794.6 837.4 793.6 837.7 792.7 838 791.7 838.3 790.7 838.6 789.8 838.8 788.8 839.1 787.8 839.3 786.9 839.6 785.9 839.8 784.9 840.1 784 840.3 783 840.6 782 840.8 781 841.1 780.1 841.4 779.1 841.6 778.1 841.9 777.2 842.3 776.2 842.6 775.3 842.9 774.4 843.3 773.4 843.7 772.5 844 771.6 844.4 770.6 844.8 769.7 845.2 768.8 845.6 767.9 846.1 767 846.5 766.1 846.9 765.2 847.3 764.2 847.7 763.3 848.2 762.4 848.6 761.5 849.1 760.6 849.5 759.7 850 758.8 850.5 758 850.9 757.1 851.5 756.2 852 755.4 852.6 754.6 853.1 753.7 853.7 752.9 854.3 752.1 854.8 751.2 855.3 750.4 855.8 749.5 856.2 748.6 856.6 747.7 857 746.8 857.4 745.8 857.8 744.9 858.2 744 858.6 743.1 859 742.1 859.4 741.2 859.8 740.3 860.3 739.4 860.8 738.5 861.2 737.7 861.7 736.8 862.2 735.9 862.7 735 863.2 734.1 863.8 733.3 864.3 732.4 864.9 731.6 865.4 730.8 866 730 866.6 729.2 867.3 728.5 867.9 727.7 868.6 727 869.3 726.3 870.1 725.6 870.8 724.9 871.5 724.1 872.1 723.4 872.8 722.6 873.4 721.9 874.1 721.1 874.7 720.3 875.3 719.5 875.9 718.7 876.5 717.9 877.2 717.1 877.8 716.4 878.4 715.6 879.1 714.9 879.8 714.2 880.5 713.5 881.3 712.8 882 712.1 882.8 711.4 883.5 710.8 884.3 710.1 885 709.5 885.8 708.8 886.5 708.1 887.3 707.4 888 706.7 888.8 706.1 889.5 705.4 890.3 704.8 891.1 704.2 891.9 703.6 892.7 703 893.5 702.5 894.4 702 895.3 701.5 896.1 701 897 700.5 897.9 700 898.8 699.6 899.7 699.1 900.6 698.7 901.5 698.3 902.4 697.9 903.4 697.5 904.3 697.1 905.2 696.7 906.2 696.4 907.1 696 906.7 582 908.2 114.4 909.2 195.5 909.2 215 909.5 222 916 225.5 1057.5 228 1059.4 1173.3 1057.4 1144.6 1059.4 1118 1060.4 1090.8 1061 1044 1061.1 1043 1061.1 1042 1061.2 1041 1061.2 1040 1061.3 1039 1061.3 1038 1061.4 1037 1061.4 1036 1061.5 1035 1061.5 1034 1061.6 1033 1061.6 1032 1061.7 1031 1061.7 1030 1061.7 1029 1061.8 1028 1061.8 1027 1061.9 1026 1061.9 1025 1062 1024 1062 1023 1062.1 1022 1062.1 1021 1062.2 1020 1062.2 1019 1062.3 1018 1062.3 1017 1062.4 1016 1062.5 1015 1062.5 1014 1062.6 1013 1062.7 1012 1062.8 1011 1062.9 1010 1063 1009 1063.1 1008 1063.2 1007 1063.2 1006 1063.3 1005.1 1063.4 1004.1 1063.5 1003.1 1063.6 1002.1 1063.6 1001.1 1063.7 1000.1 1063.8 999.1 1063.8 998.1 1063.9 997.1 1063.9 996.1 1063.9 995.1 1064 994.1 1064 993.1 1064.1 992.1 1064.1 991.1 1064.1 990.1 1064.1 989.1 1064.2 988.1 1064.2 987.1 1064.2 986.1 1064.3 985.1 1064.3 984.1 1064.3 983.1 1064.4 982.1 1064.4 981.1 1064.5 980.1 1064.5 979.1 1064.6 978.1 1064.7 977.1 1064.8 976.1 1064.9 975.1 1065 974.1 1065.1 973.1 1065.2 972.1 1065.3 971.1 1065.4 970.1 1065.6 969.1 1065.7 968.1 1065.8 967.1 1065.9 966.1 1066 965.1 1066.2 964.1 1066.3 963.2 1066.4 962.2 1066.5 961.2 1066.5 960.2 1066.6 959.2 1066.7 958.2 1066.8 957.2 1066.8 956.2 1066.9 955.2 1067 954.2 1067 953.2 1067.1 952.2 1067.2 951.2 1067.2 950.2 1067.3 949.2 1067.3 948.2 1067.4 947.2 1067.5 946.2 1067.5 945.2 1067.6 944.2 1067.7 943.2 1067.8 942.2 1067.8 941.2 1067.9 940.2 1068 939.2 1068.1 938.2 1068.2 937.2 1068.3 936.2 1068.4 935.2 1068.5 934.2 1068.6 933.2 1068.7 932.2 1068.8 931.2 1068.9 930.2 1069 929.2 1069.1 928.3 1069.2 927.3 1069.3 926.3 1069.4 925.3 1069.5 924.3 1069.6 923.3 1069.7 922.3 1069.9 921.3 1070 920.3 1070.1 919.3 1070.2 918.3 1070.3 917.3 1070.4 916.3 1070.5 915.3 1070.6 914.3 1070.8 913.3 1070.9 912.3 1071 911.3 1071.1 910.4 1071.2 909.4 1071.4 908.4 1071.5 907.4 1071.6 906.4 1071.8 905.4 1071.9 904.4 1072 903.4 1072.2 902.4 1072.4 901.4 1072.5 900.5 1072.7 899.5 1072.9 898.5 1073.1 897.5 1073.3 896.5 1073.5 895.5 1073.7 894.6 1073.9 893.6 1074 892.6 1074.2 891.6 1074.4 890.6 1074.6 889.6 1074.8 888.7 1075 887.7 1075.1 886.7 1075.3 885.7 1075.4 884.7 1075.5 883.7 1075.7 882.7 1075.8 881.7 1075.9 880.7 1076 879.7 1076.1 878.7 1076.2 877.8 1076.3 876.8 1076.4 875.8 1076.5 874.8 1076.6 873.8 1076.7 872.8 1076.8 871.8 1076.9 870.8 1077 869.8 1077.1 868.8 1077.3 867.8 1077.4 866.8 1077.5 865.8 1077.6 864.8 1077.8 863.8 1077.9 862.8 1078 861.8 1078.2 860.9 1078.3 859.9 1078.4 858.9 1078.6 857.9 1078.7 856.9 1078.9 855.9 1079 854.9 1079.2 853.9 1079.4 852.9 1079.5 851.9 1079.7 851 1079.9 850 1080 849 1080.2 848 1080.4 847 1080.6 846 1080.8 845.1 1081 844.1 1081.2 843.1 1081.4 842.1 1081.6 841.1 1081.8 840.2 1082 839.2 1082.3 838.2 1082.5 837.2 1082.7 836.3 1083 835.3 1083.2 834.3 1083.5 833.4 1083.7 832.4 1083.9 831.4 1084.2 830.4 1084.4 829.5 1084.7 828.5 1084.9 827.5 1085.1 826.6 1085.4 825.6 1085.6 824.6 1085.8 823.6 1086.1 822.7 1086.3 821.7 1086.6 820.7 1086.8 819.8 1087 818.8 1087.3 817.8 1087.5 816.8 1087.8 815.9 1088 814.9 1088.3 813.9 1088.5 813 1088.8 812 1089.1 811 1089.3 810.1 1089.6 809.1 1089.8 808.1 1090.1 807.2 1090.4 806.2 1090.7 805.2 1090.9 804.3 1091.2 803.3 1091.5 802.4 1091.8 801.4 1092.1 800.5 1092.4 799.5 1092.7 798.5 1092.9 797.6 1093.2 796.6 1093.5 795.7 1093.8 794.7 1094.1 793.7 1094.4 792.8 1094.7 791.8 1095 790.9 1095.2 789.9 1095.5 788.9 1095.8 788 1096 787 1096.3 786 1096.5 785.1 1096.8 784.1 1097.1 783.1 1097.3 782.2 1097.6 781.2 1097.9 780.3 1098.2 779.3 1098.5 778.4 1098.8 777.4 1099.1 776.5 1099.5 775.5 1099.8 774.6 1100.1 773.6 1100.5 772.7 1100.8 771.7 1101.2 770.8 1101.5 769.9 1101.9 769 1102.3 768 1102.7 767.1 1103.1 766.2 1103.5 765.3 1103.9 764.4 1104.3 763.4 1104.8 762.5 1105.2 761.6 1105.6 760.7 1106.1 759.8 1106.5 759 1107 758.1 1107.5 757.2 1108 756.3 1108.5 755.5 1109 754.6 1109.5 753.7 1110 752.9 1110.5 752 1110.9 751.1 1111.4 750.2 1111.8 749.3 1112.3 748.4 1112.7 747.5 1113.1 746.6 1113.6 745.7 1114 744.8 1114.5 743.9 1115 743.1 1115.5 742.2 1116 741.3 1116.5 740.5 1117.1 739.7 1117.7 738.8 1118.2 738 1118.8 737.2 1119.4 736.4 1120 735.6 1120.5 734.7 1121.1 733.9 1121.7 733.1 1122.3 732.3 1122.9 731.5 1123.5 730.7 1124.1 729.9 1124.7 729.1 1125.4 728.3 1126 727.5 1126.6 726.8 1127.2 726 1127.8 725.2 1128.4 724.4 1129 723.6 1129.6 722.8 1130.2 722 1130.8 721.2 1131.5 720.4 1132.1 719.7 1132.7 718.9 1133.4 718.1 1134 717.4 1134.7 716.6 1135.4 715.9 1136 715.1 1136.7 714.4 1137.3 713.6 1138 712.8 1138.7 712.1 1139.3 711.3 1140 710.5 1140.7 709.8 1141.3 709 1142 708.3 1142.7 707.6 1143.5 707 1144.2 706.3 1145 705.7 1145.8 705.2 1146.6 704.6 1147.5 704.1 1148.4 703.6 1149.2 703 1150.1 702.5 1151 702 1151.8 701.5 1152.7 701 1153.6 700.5 1154.4 700.1 1155.3 699.6 1156.2 699.1 1157.1 698.6 1158 698.1 1158.8 697.6 1159.7 697.1 1160.5 696.5 1161.3 695.9 1162.1 695.4 1163 694.8 1163.8 694.2 1164.6 693.7 1165.5 693.2 1166.4 692.8 1167.3 692.3 1168.2 691.9 1169.1 691.4 1170 691.1 1171 690.7 1171.9 690.4 1172.8 690.1 1173.8 689.8 1174.8 689.5 1175.7 689.3 1176.7 689.1 1177.7 688.8 1178.7 688.6 1179.6 688.4 1180.6 688.1 1181.6 687.8 1182.5 687.6 1183.5 687.3 1184.5 686.9 1185.4 686.6 1186.4 686.3 1187.3 686.1 1188.3 685.8 1189.3 685.6 1190.3 685.5 1191.2 685.3 1192.2 685.2 1193.2 685 1194.2 684.9 1195.2 684.8 1196.2 684.6 1197.2 684.5 1198.2 684.4 1199.2 684.3 1200.2 684.2 1201.2 684.1 1202.2 684.1 1203.2 684 1204.2 684 1205.2 684 1206.4 542.3 1207.4 120.8 1207.4 196.6 1207.5 215.5 1208 222 1214 225.5 1353.3 227 1353 1151.5 1353 1113.5 1354.4 1082.4 1355.5 1064 1355.5 1063 1355.4 1062 1355.4 1061 1355.4 1060 1355.3 1059 1355.3 1058 1355.3 1057 1355.3 1056 1355.3 1055 1355.3 1054 1355.3 1053 1355.3 1052 1355.4 1051 1355.4 1050 1355.4 1049 1355.5 1048 1355.5 1047 1355.6 1046 1355.6 1045 1355.7 1044 1355.7 1043 1355.8 1042 1355.8 1041 1355.9 1040 1355.9 1039 1356 1038 1356.1 1037 1356.1 1036 1356.2 1035 1356.3 1034 1356.4 1033 1356.4 1032 1356.5 1031 1356.6 1030 1356.8 1029.1 1356.9 1028.1 1357 1027.1 1357.1 1026.1 1357.2 1025.1 1357.3 1024.1 1357.4 1023.1 1357.5 1022.1 1357.7 1021.1 1357.8 1020.1 1357.9 1019.1 1357.9 1018.1 1358 1017.1 1358.1 1016.1 1358.2 1015.1 1358.3 1014.1 1358.3 1013.1 1358.4 1012.1 1358.5 1011.1 1358.6 1010.1 1358.6 1009.1 1358.7 1008.1 1358.8 1007.1 1358.9 1006.1 1358.9 1005.1 1359 1004.2 1359.1 1003.2 1359.1 1002.2 1359.2 1001.2 1359.3 1000.2 1359.3 999.2 1359.4 998.2 1359.5 997.2 1359.6 996.2 1359.7 995.2 1359.7 994.2 1359.8 993.2 1359.9 992.2 1360 991.2 1360.1 990.2 1360.1 989.2 1360.2 988.2 1360.3 987.2 1360.4 986.2 1360.5 985.2 1360.5 984.2 1360.6 983.2 1360.7 982.2 1360.8 981.2 1360.9 980.2 1360.9 979.2 1361 978.2 1361.1 977.2 1361.1 976.2 1361.2 975.2 1361.3 974.2 1361.3 973.2 1361.4 972.2 1361.5 971.2 1361.5 970.2 1361.6 969.2 1361.7 968.2 1361.7 967.2 1361.8 966.2 1361.9 965.2 1362 964.3 1362 963.3 1362.1 962.3 1362.2 961.3 1362.3 960.3 1362.4 959.3 1362.6 958.3 1362.7 957.3 1362.9 956.3 1363 955.3 1363.2 954.4 1363.4 953.4 1363.5 952.4 1363.7 951.4 1363.9 950.4 1364.1 949.4 1364.3 948.4 1364.5 947.5 1364.7 946.5 1364.9 945.5 1365.1 944.5 1365.3 943.5 1365.4 942.5 1365.6 941.6 1365.8 940.6 1366 939.6 1366.1 938.6 1366.3 937.6 1366.5 936.6 1366.7 935.7 1366.9 934.7 1367 933.7 1367.2 932.7 1367.4 931.7 1367.6 930.7 1367.7 929.8 1367.9 928.8 1368.1 927.8 1368.3 926.8 1368.4 925.8 1368.6 924.8 1368.8 923.8 1369 922.9 1369.1 921.9 1369.3 920.9 1369.5 919.9 1369.7 918.9 1369.8 917.9 1370 916.9 1370.1 916 1370.3 915 1370.5 914 1370.6 913 1370.8 912 1371 911 1371.1 910 1371.3 909.1 1371.5 908.1 1371.7 907.1 1371.8 906.1 1372 905.1 1372.2 904.1 1372.4 903.2 1372.6 902.2 1372.8 901.2 1373 900.2 1373.2 899.2 1373.4 898.3 1373.6 897.3 1373.9 896.3 1374.1 895.3 1374.3 894.4 1374.5 893.4 1374.8 892.4 1375 891.4 1375.2 890.5 1375.4 889.5 1375.7 888.5 1375.9 887.5 1376.1 886.6 1376.3 885.6 1376.5 884.6 1376.8 883.6 1377 882.7 1377.2 881.7 1377.4 880.7 1377.6 879.7 1377.9 878.8 1378.1 877.8 1378.3 876.8 1378.5 875.8 1378.8 874.9 1379 873.9 1379.2 872.9 1379.4 871.9 1379.6 871 1379.9 870 1380.1 869 1380.3 868 1380.5 867.1 1380.7 866.1 1381 865.1 1381.2 864.1 1381.4 863.2 1381.6 862.2 1381.8 861.2 1382 860.2 1382.2 859.2 1382.4 858.3 1382.6 857.3 1382.8 856.3 1383 855.3 1383.3 854.3 1383.5 853.4 1383.7 852.4 1383.9 851.4 1384.1 850.4 1384.4 849.5 1384.6 848.5 1384.8 847.5 1385.1 846.6 1385.3 845.6 1385.6 844.6 1385.9 843.7 1386.1 842.7 1386.4 841.7 1386.7 840.8 1387 839.8 1387.3 838.9 1387.6 837.9 1387.9 837 1388.2 836 1388.5 835 1388.8 834.1 1389.1 833.1 1389.4 832.2 1389.7 831.2 1390 830.3 1390.3 829.3 1390.6 828.4 1391 827.4 1391.3 826.5 1391.6 825.6 1391.9 824.6 1392.3 823.7 1392.6 822.7 1393 821.8 1393.3 820.9 1393.7 819.9 1394.1 819 1394.4 818.1 1394.8 817.1 1395.1 816.2 1395.5 815.3 1395.9 814.3 1396.2 813.4 1396.6 812.5 1396.9 811.5 1397.2 810.6 1397.6 809.6 1397.9 808.7 1398.2 807.7 1398.5 806.8 1398.9 805.8 1399.2 804.9 1399.5 803.9 1399.8 803 1400.1 802 1400.4 801.1 1400.7 800.1 1401 799.2 1401.3 798.2 1401.6 797.3 1401.9 796.3 1402.2 795.3 1402.5 794.4 1402.8 793.4 1403.1 792.5 1403.4 791.6 1403.8 790.6 1404.1 789.7 1404.5 788.7 1404.8 787.8 1405.2 786.9 1405.5 785.9 1405.9 785 1406.2 784.1 1406.6 783.1 1407 782.2 1407.4 781.3 1407.7 780.4 1408.1 779.4 1408.5 778.5 1408.9 777.6 1409.3 776.7 1409.7 775.7 1410.1 774.8 1410.5 773.9 1410.9 773 1411.3 772.1 1411.7 771.2 1412.1 770.2 1412.5 769.3 1412.9 768.4 1413.3 767.5 1413.7 766.6 1414.2 765.7 1414.6 764.8 1415 763.9 1415.5 763 1416 762.1 1416.4 761.2 1416.9 760.4 1417.4 759.5 1417.9 758.6 1418.3 757.7 1418.8 756.9 1419.3 756 1419.8 755.1 1420.3 754.2 1420.8 753.4 1421.3 752.5 1421.8 751.6 1422.2 750.7 1422.7 749.9 1423.2 749 1423.7 748.1 1424.2 747.2 1424.7 746.4 1425.2 745.5 1425.7 744.6 1426.2 743.8 1426.7 742.9 1427.3 742.1 1427.8 741.3 1428.4 740.4 1429 739.6 1429.6 738.8 1430.2 738 1430.8 737.2 1431.4 736.4 1432 735.6 1432.6 734.8 1433.2 734 1433.8 733.3 1434.4 732.5 1435 731.7 1435.6 730.9 1436.2 730.1 1436.8 729.3 1437.4 728.5 1438 727.7 1438.6 726.9 1439.2 726.1 1439.9 725.3 1440.5 724.5 1441.1 723.7 1441.7 722.9 1442.4 722.2 1443 721.4 1443.6 720.6 1444.3 719.9 1444.9 719.1 1445.6 718.3 1446.2 717.6 1446.9 716.8 1447.6 716.1 1448.3 715.3 1448.9 714.6 1449.6 713.9 1450.3 713.2 1451 712.5 1451.7 711.8 1452.5 711.1 1453.2 710.4 1453.9 709.7 1454.7 709.1 1455.4 708.4 1456.2 707.7 1456.9 707.1 1457.7 706.4 1458.5 705.8 1459.3 705.2 1460 704.6 1460.8 704 1461.6 703.4 1462.5 702.8 1463.3 702.2 1464.1 701.6 1464.9 701.1 1465.7 700.5 1466.6 699.9 1467.4 699.4 1468.2 698.8 1469.1 698.3 1469.9 697.8 1470.8 697.2 1471.6 696.7 1472.5 696.2 1473.3 695.6 1474.2 695.1 1475 694.6 1475.9 694.1 1476.8 693.6 1477.7 693.1 1478.5 692.7 1479.4 692.2 1480.3 691.7 1481.2 691.2 1482.1 690.7 1483 690.3 1483.9 689.8 1484.8 689.4 1485.7 689 1486.6 688.6 1487.5 688.2 1488.4 687.8 1489.4 687.5 1490.3 687.2 1491.3 686.9 1492.2 686.6 1493.2 686.4 1494.1 686.1 1495.1 685.8 1496.1 685.5 1497 685.3 1498 685 1499 684.7 1499.9 684.5 1500.9 684.2 1501.9 683.9 1502.9 683.7 1503.8 683.4 1504.8 683.2 1505.8 682.9 1506.7 682.6 1507.7 682.3 1508.6 682 1509.6 681.7 1510.5 681.3 1511.4 680.8 1512.2 680.2 1513.1 679.6 1513.9 679 1514.8 678.3 1515.6 677.7 1516.5 677.2 1517.4 676.8 1518.3 676.6 1519.2 676.5 1520.1 676.5 1521.1 676.5 1522.1 676.5 1523.1 676.6 1524.1 676.6 1525.1 676.7 1526.2 676.8 1527.2 677 1527.2 71.3 1528 187 1529 212.8 1529.5 222 1536 225.5 1788.7 225.5" fill="none" stroke="#00FF00" stroke-width="2"/>
<path d="M304.5 218L388.5 219.5V234.5L304.5 233ZM460.5 218L577 220V235L460.5 233ZM682.5 218L800.7 220.5V235.5L682.5 233ZM908.5 218L1065 220.5V235.5L908.5 233ZM1206.5 218L1360.8 219.5V234.5L1206.5 233ZM1528.5 218L1796.2 218V233L1528.5 233ZM298.5 376.1h15v15h-15zM299 140.5h15v15h-15zM300.5 194.5h15v15h-15zM300.5 204.5h15v15h-15zM301.5 212.5h15v15h-15zM374.1 428.5h15v15h-15zM373.8 1235h15v15h-15zM374.5 1136h15v15h-15zM375.5 1090h15v15h-15zM375.5 1059h15v15h-15zM376.8 1039.5h15v15h-15zM451 496.8h15v15h-15zM451 122.2h15v15h-15zM452 190.5h15v15h-15zM453 208h15v15h-15zM453.5 214.5h15v15h-15zM562.5 231.5h15v15h-15zM564.8 1251.7h15v15h-15zM564.8 1149.5h15v15h-15zM564.8 1093.3h15v15h-15zM566.9 1059.5h15v15h-15zM567.8 1036.5h15v15h-15zM567.8 1022.5h15v15h-15zM673.9 444.7h15v15h-15zM674 145.3h15v15h-15zM673.9 194.5h15v15h-15zM676 194.5h15v15h-15zM674.5 204.5h15v15h-15zM675.5 212.5h15v15h-15zM787.5 1165.2h15v15h-15zM786.5 1136.5h15v15h-15zM787.5 1110.5h15v15h-15zM789 1083.5h15v15h-15zM789.8 1056h15v15h-15zM899.2 574.5h15v15h-15zM900.7 106.9h15v15h-15zM901.7 188h15v15h-15zM901.7 207.5h15v15h-15zM902 214.5h15v15h-15zM1051.9 1165.8h15v15h-15zM1049.9 1137.1h15v15h-15zM1051.9 1110.5h15v15h-15zM1052.9 1083.3h15v15h-15zM1198.9 534.8h15v15h-15zM1199.9 113.3h15v15h-15zM1199.9 189.1h15v15h-15zM1200 208h15v15h-15zM1200.5 214.5h15v15h-15zM1345.5 1144h15v15h-15zM1345.5 1106h15v15h-15zM1346.9 1074.9h15v15h-15zM1519.7 63.8h15v15h-15zM1520.5 179.5h15v15h-15zM1521.5 205.3h15v15h-15zM1522 214.5h15v15h-15zM292.5 708.5h15v15h-15zM293.4 707.9h15v15h-15zM294.2 707.2h15v15h-15zM295.1 706.6h15v15h-15zM295.9 705.9h15v15h-15zM296.8 705.3h15v15h-15zM297.6 704.6h15v15h-15zM298.5 704h15v15h-15zM378 1021.5h15v15h-15zM378 1020.5h15v15h-15zM378 1019.5h15v15h-15zM378 1018.5h15v15h-15zM378 1017.5h15v15h-15zM378 1016.5h15v15h-15zM378 1015.5h15v15h-15zM378 1014.5h15v15h-15zM378.1 1013.5h15v15h-15zM378.1 1012.5h15v15h-15zM378.1 1011.5h15v15h-15zM378.1 1010.5h15v15h-15zM378.1 1009.5h15v15h-15zM378.1 1008.5h15v15h-15zM378.2 1007.5h15v15h-15zM378.2 1006.5h15v15h-15zM378.2 1005.5h15v15h-15zM378.3 1004.5h15v15h-15zM378.3 1003.5h15v15h-15zM378.4 1002.5h15v15h-15zM378.4 1001.4h15v15h-15zM378.5 1000.4h15v15h-15zM378.6 999.4h15v15h-15zM378.6 998.4h15v15h-15zM378.7 997.4h15v15h-15zM378.7 996.4h15v15h-15zM378.8 995.4h15v15h-15zM378.8 994.4h15v15h-15zM378.8 993.4h15v15h-15zM378.9 992.4h15v15h-15zM378.9 991.4h15v15h-15zM378.9 990.4h15v15h-15zM378.9 989.4h15v15h-15zM378.9 988.4h15v15h-15zM378.9 987.4h15v15h-15zM379 986.4h15v15h-15zM379 985.4h15v15h-15zM379 984.4h15v15h-15zM379 983.4h15v15h-15zM379 982.4h15v15h-15zM379 981.4h15v15h-15zM379 980.4h15v15h-15zM379 979.4h15v15h-15zM379 978.4h15v15h-15zM379 977.4h15v15h-15zM379 976.4h15v15h-15zM379 975.4h15v15h-15zM379.1 974.4h15v15h-15zM379.1 973.4h15v15h-15zM379.1 972.4h15v15h-15zM379.1 971.4h15v15h-15zM379.2 970.4h15v15h-15zM379.2 969.4h15v15h-15zM379.3 968.4h15v15h-15zM379.4 967.4h15v15h-15zM379.4 966.4h15v15h-15zM379.5 965.4h15v15h-15zM379.7 964.4h15v15h-15zM379.8 963.4h15v15h-15zM379.9 962.4h15v15h-15zM380 961.4h15v15h-15zM380.1 960.4h15v15h-15zM380.3 959.4h15v15h-15zM380.4 958.4h15v15h-15zM380.5 957.4h15v15h-15zM380.6 956.4h15v15h-15zM380.8 955.4h15v15h-15zM380.9 954.4h15v15h-15zM381 953.4h15v15h-15zM381.1 952.4h15v15h-15zM381.2 951.4h15v15h-15zM381.3 950.4h15v15h-15zM381.4 949.4h15v15h-15zM381.5 948.4h15v15h-15zM381.6 947.4h15v15h-15zM381.6 946.4h15v15h-15zM381.7 945.4h15v15h-15zM381.8 944.4h15v15h-15zM381.9 943.4h15v15h-15zM382 942.4h15v15h-15zM382.1 941.4h15v15h-15zM382.2 940.4h15v15h-15zM382.3 939.4h15v15h-15zM382.4 938.4h15v15h-15zM382.5 937.4h15v15h-15zM382.6 936.4h15v15h-15zM382.7 935.4h15v15h-15zM382.8 934.4h15v15h-15zM382.9 933.4h15v15h-15zM383 932.4h15v15h-15zM383 931.4h15v15h-15zM383.1 930.4h15v15h-15zM383.2 929.4h15v15h-15zM383.3 928.4h15v15h-15zM383.4 927.4h15v15h-15zM383.5 926.4h15v15h-15zM383.5 925.4h15v15h-15zM383.6 924.4h15v15h-15zM383.7 923.4h15v15h-15zM383.8 922.4h15v15h-15zM383.9 921.4h15v15h-15zM384 920.4h15v15h-15zM384.1 919.4h15v15h-15zM384.1 918.4h15v15h-15zM384.3 917.5h15v15h-15zM384.4 916.5h15v15h-15zM384.5 915.5h15v15h-15zM384.6 914.5h15v15h-15zM384.7 913.5h15v15h-15zM384.9 912.5h15v15h-15zM385 911.5h15v15h-15zM385.2 910.5h15v15h-15zM385.3 909.5h15v15h-15zM385.5 908.5h15v15h-15zM385.7 907.5h15v15h-15zM385.8 906.5h15v15h-15zM386 905.6h15v15h-15zM386.2 904.6h15v15h-15zM386.4 903.6h15v15h-15zM386.6 902.6h15v15h-15zM386.8 901.6h15v15h-15zM386.9 900.6h15v15h-15zM387.1 899.6h15v15h-15zM387.3 898.6h15v15h-15zM387.5 897.7h15v15h-15zM387.6 896.7h15v15h-15zM387.8 895.7h15v15h-15zM387.9 894.7h15v15h-15zM388.1 893.7h15v15h-15zM388.2 892.7h15v15h-15zM388.4 891.7h15v15h-15zM388.5 890.7h15v15h-15zM388.7 889.7h15v15h-15zM388.8 888.7h15v15h-15zM389 887.7h15v15h-15zM389.1 886.8h15v15h-15zM389.3 885.8h15v15h-15zM389.4 884.8h15v15h-15zM389.6 883.8h15v15h-15zM389.7 882.8h15v15h-15zM389.8 881.8h15v15h-15zM390 880.8h15v15h-15zM390.1 879.8h15v15h-15zM390.3 878.8h15v15h-15zM390.4 877.8h15v15h-15zM390.6 876.8h15v15h-15zM390.7 875.8h15v15h-15zM390.9 874.8h15v15h-15zM391 873.8h15v15h-15zM391.1 872.9h15v15h-15zM391.3 871.9h15v15h-15zM391.4 870.9h15v15h-15zM391.5 869.9h15v15h-15zM391.7 868.9h15v15h-15zM391.8 867.9h15v15h-15zM391.9 866.9h15v15h-15zM392.1 865.9h15v15h-15zM392.2 864.9h15v15h-15zM392.4 863.9h15v15h-15zM392.5 862.9h15v15h-15zM392.7 861.9h15v15h-15zM392.8 860.9h15v15h-15zM393 859.9h15v15h-15zM393.2 859h15v15h-15zM393.4 858h15v15h-15zM393.5 857h15v15h-15zM393.8 856h15v15h-15zM394 855h15v15h-15zM394.2 854.1h15v15h-15zM394.4 853.1h15v15h-15zM394.7 852.1h15v15h-15zM394.9 851.1h15v15h-15zM395.1 850.2h15v15h-15zM395.4 849.2h15v15h-15zM395.6 848.2h15v15h-15zM395.9 847.2h15v15h-15zM396.1 846.3h15v15h-15zM396.4 845.3h15v15h-15zM396.6 844.3h15v15h-15zM396.9 843.4h15v15h-15zM397.1 842.4h15v15h-15zM397.4 841.4h15v15h-15zM397.6 840.4h15v15h-15zM397.8 839.4h15v15h-15zM398 838.5h15v15h-15zM398.2 837.5h15v15h-15zM398.4 836.5h15v15h-15zM398.6 835.5h15v15h-15zM398.8 834.5h15v15h-15zM398.9 833.5h15v15h-15zM399.1 832.5h15v15h-15zM399.3 831.6h15v15h-15zM399.5 830.6h15v15h-15zM399.6 829.6h15v15h-15zM399.8 828.6h15v15h-15zM400 827.6h15v15h-15zM400.2 826.6h15v15h-15zM400.3 825.6h15v15h-15zM400.5 824.6h15v15h-15zM400.7 823.7h15v15h-15zM400.9 822.7h15v15h-15zM401.1 821.7h15v15h-15zM401.3 820.7h15v15h-15zM401.5 819.7h15v15h-15zM401.8 818.8h15v15h-15zM402 817.8h15v15h-15zM402.3 816.8h15v15h-15zM402.5 815.8h15v15h-15zM402.7 814.9h15v15h-15zM403 813.9h15v15h-15zM403.3 812.9h15v15h-15zM403.5 812h15v15h-15zM403.8 811h15v15h-15zM404.1 810h15v15h-15zM404.3 809.1h15v15h-15zM404.6 808.1h15v15h-15zM404.9 807.1h15v15h-15zM405.2 806.2h15v15h-15zM405.4 805.2h15v15h-15zM405.7 804.2h15v15h-15zM406 803.3h15v15h-15zM406.3 802.3h15v15h-15zM406.5 801.3h15v15h-15zM406.8 800.4h15v15h-15zM407.1 799.4h15v15h-15zM407.4 798.5h15v15h-15zM407.7 797.5h15v15h-15zM407.9 796.5h15v15h-15zM408.2 795.6h15v15h-15zM408.5 794.6h15v15h-15zM408.8 793.6h15v15h-15zM409.1 792.7h15v15h-15zM409.4 791.7h15v15h-15zM409.7 790.8h15v15h-15zM410 789.8h15v15h-15zM410.3 788.8h15v15h-15zM410.5 787.9h15v15h-15zM410.8 786.9h15v15h-15zM411.1 786h15v15h-15zM411.3 785h15v15h-15zM411.6 784h15v15h-15zM411.9 783h15v15h-15zM412.1 782.1h15v15h-15zM412.3 781.1h15v15h-15zM412.5 780.1h15v15h-15zM412.8 779.1h15v15h-15zM413 778.1h15v15h-15zM413.2 777.2h15v15h-15zM413.4 776.2h15v15h-15zM413.6 775.2h15v15h-15zM413.8 774.2h15v15h-15zM414 773.2h15v15h-15zM414.3 772.3h15v15h-15zM414.6 771.3h15v15h-15zM414.9 770.4h15v15h-15zM415.2 769.4h15v15h-15zM415.6 768.5h15v15h-15zM416 767.6h15v15h-15zM416.4 766.7h15v15h-15zM416.8 765.7h15v15h-15zM417.2 764.8h15v15h-15zM417.6 763.9h15v15h-15zM418 763h15v15h-15zM418.5 762.1h15v15h-15zM418.9 761.2h15v15h-15zM419.3 760.3h15v15h-15zM419.8 759.4h15v15h-15zM420.2 758.5h15v15h-15zM420.7 757.6h15v15h-15zM421.1 756.7h15v15h-15zM421.6 755.8h15v15h-15zM422 754.9h15v15h-15zM422.4 754h15v15h-15zM422.9 753.1h15v15h-15zM423.3 752.1h15v15h-15zM423.7 751.2h15v15h-15zM424 750.3h15v15h-15zM424.4 749.4h15v15h-15zM424.7 748.4h15v15h-15zM425.1 747.5h15v15h-15zM425.4 746.5h15v15h-15zM425.8 745.6h15v15h-15zM426.1 744.6h15v15h-15zM426.5 743.7h15v15h-15zM426.9 742.8h15v15h-15zM427.3 741.9h15v15h-15zM427.8 741h15v15h-15zM428.3 740.2h15v15h-15zM428.8 739.3h15v15h-15zM429.4 738.4h15v15h-15zM429.9 737.6h15v15h-15zM430.4 736.7h15v15h-15zM431 735.9h15v15h-15zM431.5 735h15v15h-15zM432 734.1h15v15h-15zM432.4 733.3h15v15h-15zM432.9 732.4h15v15h-15zM433.4 731.5h15v15h-15zM433.8 730.6h15v15h-15zM434.3 729.7h15v15h-15zM434.8 728.8h15v15h-15zM435.3 728h15v15h-15zM435.9 727.1h15v15h-15zM436.4 726.3h15v15h-15zM437 725.5h15v15h-15zM437.6 724.7h15v15h-15zM438.2 723.9h15v15h-15zM438.8 723h15v15h-15zM439.3 722.2h15v15h-15zM439.9 721.4h15v15h-15zM440.5 720.6h15v15h-15zM441 719.7h15v15h-15zM441.6 718.9h15v15h-15zM442.1 718h15v15h-15zM442.7 717.2h15v15h-15zM443.2 716.4h15v15h-15zM443.8 715.5h15v15h-15zM444.4 714.7h15v15h-15zM444.9 713.9h15v15h-15zM445.5 713h15v15h-15zM446 712.2h15v15h-15zM446.6 711.4h15v15h-15zM447.3 710.7h15v15h-15zM448.1 710.1h15v15h-15zM448.9 709.5h15v15h-15zM449.8 709h15v15h-15zM450.7 708.5h15v15h-15zM568.5 1000h15v15h-15zM568.5 999h15v15h-15zM568.6 998h15v15h-15zM568.6 997h15v15h-15zM568.7 996h15v15h-15zM568.7 995h15v15h-15zM568.8 994h15v15h-15zM568.9 993h15v15h-15zM568.9 992h15v15h-15zM569 991h15v15h-15zM569.1 990h15v15h-15zM569.2 989h15v15h-15zM569.2 988h15v15h-15zM569.3 987h15v15h-15zM569.4 986h15v15h-15zM569.5 985h15v15h-15zM569.6 984h15v15h-15zM569.7 983h15v15h-15zM569.8 982h15v15h-15zM569.9 981.1h15v15h-15zM570 980.1h15v15h-15zM570.1 979.1h15v15h-15zM570.2 978.1h15v15h-15zM570.4 977.1h15v15h-15zM570.5 976.1h15v15h-15zM570.6 975.1h15v15h-15zM570.8 974.1h15v15h-15zM570.9 973.1h15v15h-15zM571.1 972.1h15v15h-15zM571.2 971.1h15v15h-15zM571.4 970.1h15v15h-15zM571.5 969.2h15v15h-15zM571.6 968.2h15v15h-15zM571.8 967.2h15v15h-15zM571.9 966.2h15v15h-15zM572 965.2h15v15h-15zM572.1 964.2h15v15h-15zM572.2 963.2h15v15h-15zM572.3 962.2h15v15h-15zM572.4 961.2h15v15h-15zM572.4 960.2h15v15h-15zM572.5 959.2h15v15h-15zM572.6 958.2h15v15h-15zM572.6 957.2h15v15h-15zM572.7 956.2h15v15h-15zM572.7 955.2h15v15h-15zM572.8 954.2h15v15h-15zM572.8 953.2h15v15h-15zM572.9 952.2h15v15h-15zM572.9 951.2h15v15h-15zM572.9 950.2h15v15h-15zM573 949.2h15v15h-15zM573 948.2h15v15h-15zM573.1 947.2h15v15h-15zM573.1 946.2h15v15h-15zM573.2 945.2h15v15h-15zM573.2 944.2h15v15h-15zM573.3 943.2h15v15h-15zM573.3 942.2h15v15h-15zM573.4 941.2h15v15h-15zM573.5 940.2h15v15h-15zM573.5 939.2h15v15h-15zM573.6 938.2h15v15h-15zM573.6 937.2h15v15h-15zM573.7 936.2h15v15h-15zM573.7 935.2h15v15h-15zM573.8 934.2h15v15h-15zM573.9 933.2h15v15h-15zM573.9 932.2h15v15h-15zM574 931.2h15v15h-15zM574.1 930.2h15v15h-15zM574.1 929.2h15v15h-15zM574.2 928.3h15v15h-15zM574.3 927.3h15v15h-15zM574.3 926.3h15v15h-15zM574.4 925.3h15v15h-15zM574.5 924.3h15v15h-15zM574.6 923.3h15v15h-15zM574.7 922.3h15v15h-15zM574.8 921.3h15v15h-15zM574.9 920.3h15v15h-15zM575 919.3h15v15h-15zM575.1 918.3h15v15h-15zM575.2 917.3h15v15h-15zM575.3 916.3h15v15h-15zM575.5 915.3h15v15h-15zM575.6 914.3h15v15h-15zM575.7 913.3h15v15h-15zM575.8 912.3h15v15h-15zM576 911.3h15v15h-15zM576.1 910.4h15v15h-15zM576.2 909.4h15v15h-15zM576.3 908.4h15v15h-15zM576.5 907.4h15v15h-15zM576.6 906.4h15v15h-15zM576.7 905.4h15v15h-15zM576.8 904.4h15v15h-15zM576.9 903.4h15v15h-15zM577 902.4h15v15h-15zM577.1 901.4h15v15h-15zM577.2 900.4h15v15h-15zM577.2 899.4h15v15h-15zM577.3 898.4h15v15h-15zM577.4 897.4h15v15h-15zM577.5 896.4h15v15h-15zM577.6 895.4h15v15h-15zM577.7 894.4h15v15h-15zM577.8 893.4h15v15h-15zM577.8 892.4h15v15h-15zM577.9 891.4h15v15h-15zM578 890.4h15v15h-15zM578.1 889.4h15v15h-15zM578.2 888.5h15v15h-15zM578.3 887.5h15v15h-15zM578.5 886.5h15v15h-15zM578.6 885.5h15v15h-15zM578.7 884.5h15v15h-15zM578.9 883.5h15v15h-15zM579 882.5h15v15h-15zM579.2 881.5h15v15h-15zM579.4 880.5h15v15h-15zM579.5 879.6h15v15h-15zM579.7 878.6h15v15h-15zM579.9 877.6h15v15h-15zM580.1 876.6h15v15h-15zM580.3 875.6h15v15h-15zM580.5 874.6h15v15h-15zM580.6 873.7h15v15h-15zM580.8 872.7h15v15h-15zM581 871.7h15v15h-15zM581.2 870.7h15v15h-15zM581.4 869.7h15v15h-15zM581.6 868.7h15v15h-15zM581.8 867.8h15v15h-15zM582 866.8h15v15h-15zM582.2 865.8h15v15h-15zM582.4 864.8h15v15h-15zM582.6 863.8h15v15h-15zM582.8 862.9h15v15h-15zM583 861.9h15v15h-15zM583.2 860.9h15v15h-15zM583.4 859.9h15v15h-15zM583.6 858.9h15v15h-15zM583.8 858h15v15h-15zM584 857h15v15h-15zM584.2 856h15v15h-15zM584.4 855h15v15h-15zM584.6 854h15v15h-15zM584.8 853.1h15v15h-15zM585 852.1h15v15h-15zM585.2 851.1h15v15h-15zM585.4 850.1h15v15h-15zM585.5 849.1h15v15h-15zM585.7 848.2h15v15h-15zM585.9 847.2h15v15h-15zM586.1 846.2h15v15h-15zM586.3 845.2h15v15h-15zM586.4 844.2h15v15h-15zM586.6 843.2h15v15h-15zM586.8 842.2h15v15h-15zM586.9 841.3h15v15h-15zM587.1 840.3h15v15h-15zM587.3 839.3h15v15h-15zM587.4 838.3h15v15h-15zM587.6 837.3h15v15h-15zM587.8 836.3h15v15h-15zM587.9 835.3h15v15h-15zM588.1 834.4h15v15h-15zM588.3 833.4h15v15h-15zM588.5 832.4h15v15h-15zM588.6 831.4h15v15h-15zM588.8 830.4h15v15h-15zM589 829.4h15v15h-15zM589.2 828.4h15v15h-15zM589.4 827.5h15v15h-15zM589.5 826.5h15v15h-15zM589.7 825.5h15v15h-15zM589.9 824.5h15v15h-15zM590.1 823.5h15v15h-15zM590.3 822.5h15v15h-15zM590.4 821.6h15v15h-15zM590.6 820.6h15v15h-15zM590.8 819.6h15v15h-15zM591 818.6h15v15h-15zM591.2 817.6h15v15h-15zM591.4 816.6h15v15h-15zM591.6 815.7h15v15h-15zM591.8 814.7h15v15h-15zM592 813.7h15v15h-15zM592.2 812.7h15v15h-15zM592.5 811.8h15v15h-15zM592.7 810.8h15v15h-15zM592.9 809.8h15v15h-15zM593.2 808.9h15v15h-15zM593.5 807.9h15v15h-15zM593.8 807h15v15h-15zM594 806h15v15h-15zM594.3 805h15v15h-15zM594.7 804.1h15v15h-15zM595 803.1h15v15h-15zM595.3 802.2h15v15h-15zM595.6 801.3h15v15h-15zM596 800.3h15v15h-15zM596.3 799.4h15v15h-15zM596.6 798.4h15v15h-15zM597 797.5h15v15h-15zM597.3 796.5h15v15h-15zM597.6 795.6h15v15h-15zM598 794.6h15v15h-15zM598.3 793.7h15v15h-15zM598.6 792.7h15v15h-15zM598.9 791.8h15v15h-15zM599.2 790.8h15v15h-15zM599.5 789.9h15v15h-15zM599.8 788.9h15v15h-15zM600.1 788h15v15h-15zM600.4 787h15v15h-15zM600.7 786.1h15v15h-15zM601 785.1h15v15h-15zM601.3 784.2h15v15h-15zM601.6 783.2h15v15h-15zM601.9 782.3h15v15h-15zM602.2 781.3h15v15h-15zM602.5 780.3h15v15h-15zM602.8 779.4h15v15h-15zM603.1 778.4h15v15h-15zM603.4 777.5h15v15h-15zM603.7 776.5h15v15h-15zM604 775.6h15v15h-15zM604.3 774.6h15v15h-15zM604.6 773.7h15v15h-15zM604.9 772.7h15v15h-15zM605.2 771.7h15v15h-15zM605.4 770.8h15v15h-15zM605.7 769.8h15v15h-15zM606 768.8h15v15h-15zM606.2 767.9h15v15h-15zM606.5 766.9h15v15h-15zM606.8 765.9h15v15h-15zM607.1 765h15v15h-15zM607.4 764.1h15v15h-15zM607.8 763.1h15v15h-15zM608.1 762.2h15v15h-15zM608.5 761.3h15v15h-15zM608.9 760.4h15v15h-15zM609.4 759.5h15v15h-15zM609.8 758.6h15v15h-15zM610.3 757.7h15v15h-15zM610.7 756.8h15v15h-15zM611.2 755.9h15v15h-15zM611.6 755h15v15h-15zM612.1 754.1h15v15h-15zM612.5 753.2h15v15h-15zM613 752.3h15v15h-15zM613.4 751.4h15v15h-15zM613.9 750.5h15v15h-15zM614.3 749.6h15v15h-15zM614.8 748.7h15v15h-15zM615.3 747.9h15v15h-15zM615.7 747h15v15h-15zM616.2 746.1h15v15h-15zM616.6 745.2h15v15h-15zM617.1 744.3h15v15h-15zM617.5 743.4h15v15h-15zM617.9 742.5h15v15h-15zM618.4 741.6h15v15h-15zM618.8 740.7h15v15h-15zM619.1 739.7h15v15h-15zM619.5 738.8h15v15h-15zM619.9 737.9h15v15h-15zM620.3 736.9h15v15h-15zM620.7 736h15v15h-15zM621.1 735.1h15v15h-15zM621.5 734.2h15v15h-15zM622 733.4h15v15h-15zM622.6 732.5h15v15h-15zM623.1 731.7h15v15h-15zM623.7 730.9h15v15h-15zM624.3 730.1h15v15h-15zM624.9 729.3h15v15h-15zM625.5 728.5h15v15h-15zM626 727.6h15v15h-15zM626.5 726.8h15v15h-15zM627 725.9h15v15h-15zM627.5 725h15v15h-15zM627.9 724.1h15v15h-15zM628.4 723.2h15v15h-15zM628.9 722.3h15v15h-15zM629.4 721.4h15v15h-15zM629.9 720.6h15v15h-15zM630.4 719.8h15v15h-15zM631 719h15v15h-15zM631.6 718.2h15v15h-15zM632.3 717.4h15v15h-15zM632.9 716.7h15v15h-15zM633.6 715.9h15v15h-15zM634.3 715.2h15v15h-15zM635 714.5h15v15h-15zM635.6 713.7h15v15h-15zM636.3 712.9h15v15h-15zM636.9 712.2h15v15h-15zM637.6 711.4h15v15h-15zM638.2 710.6h15v15h-15zM638.8 709.8h15v15h-15zM639.4 709h15v15h-15zM640 708.2h15v15h-15zM640.7 707.5h15v15h-15zM641.3 706.7h15v15h-15zM642 705.9h15v15h-15zM642.6 705.2h15v15h-15zM643.3 704.5h15v15h-15zM644 703.8h15v15h-15zM644.7 703.1h15v15h-15zM645.5 702.4h15v15h-15zM646.2 701.7h15v15h-15zM646.9 701h15v15h-15zM647.6 700.3h15v15h-15zM648.4 699.6h15v15h-15zM649.1 698.9h15v15h-15zM649.8 698.2h15v15h-15zM650.5 697.4h15v15h-15zM651.1 696.7h15v15h-15zM651.8 695.9h15v15h-15zM652.5 695.2h15v15h-15zM653.3 694.5h15v15h-15zM654 694h15v15h-15zM654.9 693.5h15v15h-15zM655.7 693.1h15v15h-15zM656.7 692.7h15v15h-15zM657.6 692.3h15v15h-15zM658.6 691.9h15v15h-15zM659.5 691.5h15v15h-15zM660.4 691.1h15v15h-15zM661.3 690.6h15v15h-15zM662.1 690h15v15h-15zM663 689.4h15v15h-15zM663.8 688.9h15v15h-15zM664.7 688.4h15v15h-15zM665.5 688h15v15h-15zM666.5 687.6h15v15h-15zM667.4 687.3h15v15h-15zM668.3 686.9h15v15h-15zM669.3 686.6h15v15h-15zM670.2 686.3h15v15h-15zM671.2 686.1h15v15h-15zM672.2 685.8h15v15h-15zM673.2 685.7h15v15h-15zM674.2 685.5h15v15h-15zM790.5 1036.5h15v15h-15zM790.5 1035.5h15v15h-15zM790.5 1034.5h15v15h-15zM790.5 1033.5h15v15h-15zM790.5 1032.5h15v15h-15zM790.5 1031.5h15v15h-15zM790.6 1030.5h15v15h-15zM790.6 1029.5h15v15h-15zM790.6 1028.5h15v15h-15zM790.6 1027.5h15v15h-15zM790.7 1026.5h15v15h-15zM790.8 1025.5h15v15h-15zM790.8 1024.5h15v15h-15zM790.9 1023.5h15v15h-15zM791 1022.5h15v15h-15zM791.1 1021.5h15v15h-15zM791.2 1020.5h15v15h-15zM791.3 1019.5h15v15h-15zM791.4 1018.5h15v15h-15zM791.5 1017.5h15v15h-15zM791.6 1016.5h15v15h-15zM791.7 1015.5h15v15h-15zM791.8 1014.5h15v15h-15zM791.9 1013.5h15v15h-15zM792 1012.5h15v15h-15zM792.1 1011.5h15v15h-15zM792.2 1010.5h15v15h-15zM792.2 1009.5h15v15h-15zM792.3 1008.5h15v15h-15zM792.3 1007.5h15v15h-15zM792.4 1006.5h15v15h-15zM792.5 1005.5h15v15h-15zM792.5 1004.5h15v15h-15zM792.6 1003.5h15v15h-15zM792.6 1002.5h15v15h-15zM792.6 1001.5h15v15h-15zM792.7 1000.5h15v15h-15zM792.7 999.5h15v15h-15zM792.8 998.5h15v15h-15zM792.8 997.5h15v15h-15zM792.9 996.5h15v15h-15zM792.9 995.5h15v15h-15zM793 994.5h15v15h-15zM793 993.5h15v15h-15zM793.1 992.5h15v15h-15zM793.2 991.5h15v15h-15zM793.2 990.5h15v15h-15zM793.3 989.5h15v15h-15zM793.4 988.5h15v15h-15zM793.5 987.5h15v15h-15zM793.6 986.5h15v15h-15zM793.7 985.5h15v15h-15zM793.8 984.5h15v15h-15zM793.9 983.5h15v15h-15zM794 982.5h15v15h-15zM794.1 981.5h15v15h-15zM794.2 980.5h15v15h-15zM794.3 979.5h15v15h-15zM794.4 978.5h15v15h-15zM794.5 977.5h15v15h-15zM794.6 976.5h15v15h-15zM794.7 975.5h15v15h-15zM794.8 974.6h15v15h-15zM794.9 973.6h15v15h-15zM795 972.6h15v15h-15zM795 971.6h15v15h-15zM795.1 970.6h15v15h-15zM795.2 969.6h15v15h-15zM795.2 968.6h15v15h-15zM795.3 967.6h15v15h-15zM795.3 966.5h15v15h-15zM795.3 965.5h15v15h-15zM795.4 964.5h15v15h-15zM795.4 963.5h15v15h-15zM795.5 962.5h15v15h-15zM795.5 961.5h15v15h-15zM795.6 960.5h15v15h-15zM795.6 959.5h15v15h-15zM795.7 958.5h15v15h-15zM795.7 957.5h15v15h-15zM795.8 956.5h15v15h-15zM795.8 955.5h15v15h-15zM795.9 954.5h15v15h-15zM796 953.5h15v15h-15zM796 952.5h15v15h-15zM796.1 951.6h15v15h-15zM796.3 950.6h15v15h-15zM796.4 949.6h15v15h-15zM796.5 948.6h15v15h-15zM796.7 947.6h15v15h-15zM796.8 946.6h15v15h-15zM797 945.6h15v15h-15zM797.2 944.6h15v15h-15zM797.4 943.6h15v15h-15zM797.5 942.6h15v15h-15zM797.7 941.7h15v15h-15zM797.9 940.7h15v15h-15zM798.1 939.7h15v15h-15zM798.2 938.7h15v15h-15zM798.4 937.7h15v15h-15zM798.6 936.7h15v15h-15zM798.7 935.7h15v15h-15zM798.8 934.7h15v15h-15zM799 933.7h15v15h-15zM799.1 932.7h15v15h-15zM799.2 931.7h15v15h-15zM799.3 930.7h15v15h-15zM799.4 929.7h15v15h-15zM799.5 928.8h15v15h-15zM799.6 927.8h15v15h-15zM799.7 926.8h15v15h-15zM799.8 925.8h15v15h-15zM799.9 924.8h15v15h-15zM800 923.8h15v15h-15zM800.1 922.8h15v15h-15zM800.1 921.8h15v15h-15zM800.2 920.8h15v15h-15zM800.3 919.8h15v15h-15zM800.4 918.8h15v15h-15zM800.5 917.8h15v15h-15zM800.6 916.8h15v15h-15zM800.7 915.8h15v15h-15zM800.8 914.8h15v15h-15zM801 913.8h15v15h-15zM801.1 912.8h15v15h-15zM801.2 911.8h15v15h-15zM801.3 910.8h15v15h-15zM801.4 909.8h15v15h-15zM801.5 908.8h15v15h-15zM801.6 907.8h15v15h-15zM801.7 906.8h15v15h-15zM801.9 905.8h15v15h-15zM802 904.8h15v15h-15zM802.1 903.8h15v15h-15zM802.2 902.8h15v15h-15zM802.3 901.8h15v15h-15zM802.5 900.9h15v15h-15zM802.6 899.9h15v15h-15zM802.7 898.9h15v15h-15zM802.9 897.9h15v15h-15zM803 896.9h15v15h-15zM803.1 895.9h15v15h-15zM803.3 894.9h15v15h-15zM803.4 893.9h15v15h-15zM803.6 892.9h15v15h-15zM803.8 891.9h15v15h-15zM803.9 890.9h15v15h-15zM804.1 890h15v15h-15zM804.3 889h15v15h-15zM804.5 888h15v15h-15zM804.7 887h15v15h-15zM804.8 886h15v15h-15zM805 885h15v15h-15zM805.2 884h15v15h-15zM805.4 883.1h15v15h-15zM805.6 882.1h15v15h-15zM805.7 881.1h15v15h-15zM805.9 880.1h15v15h-15zM806.1 879.1h15v15h-15zM806.3 878.1h15v15h-15zM806.4 877.1h15v15h-15zM806.6 876.1h15v15h-15zM806.7 875.2h15v15h-15zM806.9 874.2h15v15h-15zM807 873.2h15v15h-15zM807.2 872.2h15v15h-15zM807.3 871.2h15v15h-15zM807.5 870.2h15v15h-15zM807.6 869.2h15v15h-15zM807.7 868.2h15v15h-15zM807.9 867.2h15v15h-15zM808 866.2h15v15h-15zM808.2 865.2h15v15h-15zM808.3 864.2h15v15h-15zM808.5 863.3h15v15h-15zM808.6 862.3h15v15h-15zM808.8 861.3h15v15h-15zM809 860.3h15v15h-15zM809.1 859.3h15v15h-15zM809.3 858.3h15v15h-15zM809.5 857.3h15v15h-15zM809.7 856.3h15v15h-15zM809.9 855.4h15v15h-15zM810.1 854.4h15v15h-15zM810.3 853.4h15v15h-15zM810.5 852.4h15v15h-15zM810.7 851.4h15v15h-15zM810.9 850.5h15v15h-15zM811.1 849.5h15v15h-15zM811.3 848.5h15v15h-15zM811.6 847.5h15v15h-15zM811.8 846.6h15v15h-15zM812 845.6h15v15h-15zM812.2 844.6h15v15h-15zM812.5 843.6h15v15h-15zM812.7 842.7h15v15h-15zM812.9 841.7h15v15h-15zM813.2 840.7h15v15h-15zM813.4 839.7h15v15h-15zM813.7 838.8h15v15h-15zM813.9 837.8h15v15h-15zM814.1 836.8h15v15h-15zM814.4 835.8h15v15h-15zM814.6 834.9h15v15h-15zM814.9 833.9h15v15h-15zM815.2 832.9h15v15h-15zM815.4 832h15v15h-15zM815.7 831h15v15h-15zM815.9 830h15v15h-15zM816.2 829.1h15v15h-15zM816.5 828.1h15v15h-15zM816.7 827.1h15v15h-15zM817 826.2h15v15h-15zM817.3 825.2h15v15h-15zM817.6 824.2h15v15h-15zM817.8 823.3h15v15h-15zM818.1 822.3h15v15h-15zM818.4 821.4h15v15h-15zM818.7 820.4h15v15h-15zM819 819.4h15v15h-15zM819.3 818.5h15v15h-15zM819.6 817.5h15v15h-15zM819.9 816.6h15v15h-15zM820.2 815.6h15v15h-15zM820.5 814.7h15v15h-15zM820.8 813.7h15v15h-15zM821.1 812.8h15v15h-15zM821.4 811.8h15v15h-15zM821.8 810.9h15v15h-15zM822.1 809.9h15v15h-15zM822.4 809h15v15h-15zM822.7 808h15v15h-15zM823 807.1h15v15h-15zM823.4 806.1h15v15h-15zM823.7 805.2h15v15h-15zM824 804.2h15v15h-15zM824.3 803.3h15v15h-15zM824.6 802.3h15v15h-15zM824.9 801.4h15v15h-15zM825.3 800.4h15v15h-15zM825.6 799.5h15v15h-15zM825.9 798.5h15v15h-15zM826.2 797.6h15v15h-15zM826.5 796.6h15v15h-15zM826.8 795.6h15v15h-15zM827.1 794.7h15v15h-15zM827.5 793.7h15v15h-15zM827.8 792.8h15v15h-15zM828.1 791.8h15v15h-15zM828.4 790.9h15v15h-15zM828.7 789.9h15v15h-15zM829 789h15v15h-15zM829.3 788h15v15h-15zM829.6 787.1h15v15h-15zM829.9 786.1h15v15h-15zM830.2 785.2h15v15h-15zM830.5 784.2h15v15h-15zM830.8 783.2h15v15h-15zM831.1 782.3h15v15h-15zM831.3 781.3h15v15h-15zM831.6 780.3h15v15h-15zM831.8 779.4h15v15h-15zM832.1 778.4h15v15h-15zM832.3 777.4h15v15h-15zM832.6 776.5h15v15h-15zM832.8 775.5h15v15h-15zM833.1 774.5h15v15h-15zM833.3 773.5h15v15h-15zM833.6 772.6h15v15h-15zM833.9 771.6h15v15h-15zM834.1 770.6h15v15h-15zM834.4 769.7h15v15h-15zM834.8 768.7h15v15h-15zM835.1 767.8h15v15h-15zM835.4 766.9h15v15h-15zM835.8 765.9h15v15h-15zM836.2 765h15v15h-15zM836.5 764.1h15v15h-15zM836.9 763.1h15v15h-15zM837.3 762.2h15v15h-15zM837.7 761.3h15v15h-15zM838.1 760.4h15v15h-15zM838.6 759.5h15v15h-15zM839 758.6h15v15h-15zM839.4 757.7h15v15h-15zM839.8 756.7h15v15h-15zM840.2 755.8h15v15h-15zM840.7 754.9h15v15h-15zM841.1 754h15v15h-15zM841.6 753.1h15v15h-15zM842 752.2h15v15h-15zM842.5 751.3h15v15h-15zM843 750.5h15v15h-15zM843.4 749.6h15v15h-15zM844 748.7h15v15h-15zM844.5 747.9h15v15h-15zM845.1 747.1h15v15h-15zM845.6 746.2h15v15h-15zM846.2 745.4h15v15h-15zM846.8 744.6h15v15h-15zM847.3 743.7h15v15h-15zM847.8 742.9h15v15h-15zM848.3 742h15v15h-15zM848.7 741.1h15v15h-15zM849.1 740.2h15v15h-15zM849.5 739.3h15v15h-15zM849.9 738.3h15v15h-15zM850.3 737.4h15v15h-15zM850.7 736.5h15v15h-15zM851.1 735.6h15v15h-15zM851.5 734.6h15v15h-15zM851.9 733.7h15v15h-15zM852.3 732.8h15v15h-15zM852.8 731.9h15v15h-15zM853.3 731h15v15h-15zM853.7 730.2h15v15h-15zM854.2 729.3h15v15h-15zM854.7 728.4h15v15h-15zM855.2 727.5h15v15h-15zM855.7 726.6h15v15h-15zM856.3 725.8h15v15h-15zM856.8 724.9h15v15h-15zM857.4 724.1h15v15h-15zM857.9 723.3h15v15h-15zM858.5 722.5h15v15h-15zM859.1 721.7h15v15h-15zM859.8 721h15v15h-15zM860.4 720.2h15v15h-15zM861.1 719.5h15v15h-15zM861.8 718.8h15v15h-15zM862.6 718.1h15v15h-15zM863.3 717.4h15v15h-15zM864 716.6h15v15h-15zM864.6 715.9h15v15h-15zM865.3 715.1h15v15h-15zM865.9 714.4h15v15h-15zM866.6 713.6h15v15h-15zM867.2 712.8h15v15h-15zM867.8 712h15v15h-15zM868.4 711.2h15v15h-15zM869 710.4h15v15h-15zM869.7 709.6h15v15h-15zM870.3 708.9h15v15h-15zM870.9 708.1h15v15h-15zM871.6 707.4h15v15h-15zM872.3 706.7h15v15h-15zM873 706h15v15h-15zM873.8 705.3h15v15h-15zM874.5 704.6h15v15h-15zM875.3 703.9h15v15h-15zM876 703.3h15v15h-15zM876.8 702.6h15v15h-15zM877.5 702h15v15h-15zM878.3 701.3h15v15h-15zM879 700.6h15v15h-15zM879.8 699.9h15v15h-15zM880.5 699.2h15v15h-15zM881.3 698.6h15v15h-15zM882 697.9h15v15h-15zM882.8 697.3h15v15h-15zM883.6 696.7h15v15h-15zM884.4 696.1h15v15h-15zM885.2 695.5h15v15h-15zM886 695h15v15h-15zM886.9 694.5h15v15h-15zM887.8 694h15v15h-15zM888.6 693.5h15v15h-15zM889.5 693h15v15h-15zM890.4 692.5h15v15h-15zM891.3 692.1h15v15h-15zM892.2 691.6h15v15h-15zM893.1 691.2h15v15h-15zM894 690.8h15v15h-15zM894.9 690.4h15v15h-15zM895.9 690h15v15h-15zM896.8 689.6h15v15h-15zM897.7 689.2h15v15h-15zM898.7 688.9h15v15h-15zM899.6 688.5h15v15h-15zM1053.5 1036.5h15v15h-15zM1053.6 1035.5h15v15h-15zM1053.6 1034.5h15v15h-15zM1053.7 1033.5h15v15h-15zM1053.7 1032.5h15v15h-15zM1053.8 1031.5h15v15h-15zM1053.8 1030.5h15v15h-15zM1053.9 1029.5h15v15h-15zM1053.9 1028.5h15v15h-15zM1054 1027.5h15v15h-15zM1054 1026.5h15v15h-15zM1054.1 1025.5h15v15h-15zM1054.1 1024.5h15v15h-15zM1054.2 1023.5h15v15h-15zM1054.2 1022.5h15v15h-15zM1054.2 1021.5h15v15h-15zM1054.3 1020.5h15v15h-15zM1054.3 1019.5h15v15h-15zM1054.4 1018.5h15v15h-15zM1054.4 1017.5h15v15h-15zM1054.5 1016.5h15v15h-15zM1054.5 1015.5h15v15h-15zM1054.6 1014.5h15v15h-15zM1054.6 1013.5h15v15h-15zM1054.7 1012.5h15v15h-15zM1054.7 1011.5h15v15h-15zM1054.8 1010.5h15v15h-15zM1054.8 1009.5h15v15h-15zM1054.9 1008.5h15v15h-15zM1055 1007.5h15v15h-15zM1055 1006.5h15v15h-15zM1055.1 1005.5h15v15h-15zM1055.2 1004.5h15v15h-15zM1055.3 1003.5h15v15h-15zM1055.4 1002.5h15v15h-15zM1055.5 1001.5h15v15h-15zM1055.6 1000.5h15v15h-15zM1055.7 999.5h15v15h-15zM1055.7 998.5h15v15h-15zM1055.8 997.6h15v15h-15zM1055.9 996.6h15v15h-15zM1056 995.6h15v15h-15zM1056.1 994.6h15v15h-15zM1056.1 993.6h15v15h-15zM1056.2 992.6h15v15h-15zM1056.3 991.6h15v15h-15zM1056.3 990.6h15v15h-15zM1056.4 989.6h15v15h-15zM1056.4 988.6h15v15h-15zM1056.4 987.6h15v15h-15zM1056.5 986.6h15v15h-15zM1056.5 985.6h15v15h-15zM1056.6 984.6h15v15h-15zM1056.6 983.6h15v15h-15zM1056.6 982.6h15v15h-15zM1056.6 981.6h15v15h-15zM1056.7 980.6h15v15h-15zM1056.7 979.6h15v15h-15zM1056.7 978.6h15v15h-15zM1056.8 977.6h15v15h-15zM1056.8 976.6h15v15h-15zM1056.8 975.6h15v15h-15zM1056.9 974.6h15v15h-15zM1056.9 973.6h15v15h-15zM1057 972.6h15v15h-15zM1057 971.6h15v15h-15zM1057.1 970.6h15v15h-15zM1057.2 969.6h15v15h-15zM1057.3 968.6h15v15h-15zM1057.4 967.6h15v15h-15zM1057.5 966.6h15v15h-15zM1057.6 965.6h15v15h-15zM1057.7 964.6h15v15h-15zM1057.8 963.6h15v15h-15zM1057.9 962.6h15v15h-15zM1058.1 961.6h15v15h-15zM1058.2 960.6h15v15h-15zM1058.3 959.6h15v15h-15zM1058.4 958.6h15v15h-15zM1058.5 957.6h15v15h-15zM1058.7 956.6h15v15h-15zM1058.8 955.7h15v15h-15zM1058.9 954.7h15v15h-15zM1059 953.7h15v15h-15zM1059 952.7h15v15h-15zM1059.1 951.7h15v15h-15zM1059.2 950.7h15v15h-15zM1059.3 949.7h15v15h-15zM1059.3 948.7h15v15h-15zM1059.4 947.7h15v15h-15zM1059.5 946.7h15v15h-15zM1059.5 945.7h15v15h-15zM1059.6 944.7h15v15h-15zM1059.7 943.7h15v15h-15zM1059.7 942.7h15v15h-15zM1059.8 941.7h15v15h-15zM1059.8 940.7h15v15h-15zM1059.9 939.7h15v15h-15zM1060 938.7h15v15h-15zM1060 937.7h15v15h-15zM1060.1 936.7h15v15h-15zM1060.2 935.7h15v15h-15zM1060.3 934.7h15v15h-15zM1060.3 933.7h15v15h-15zM1060.4 932.7h15v15h-15zM1060.5 931.7h15v15h-15zM1060.6 930.7h15v15h-15zM1060.7 929.7h15v15h-15zM1060.8 928.7h15v15h-15zM1060.9 927.7h15v15h-15zM1061 926.7h15v15h-15zM1061.1 925.7h15v15h-15zM1061.2 924.7h15v15h-15zM1061.3 923.7h15v15h-15zM1061.4 922.7h15v15h-15zM1061.5 921.7h15v15h-15zM1061.6 920.8h15v15h-15zM1061.7 919.8h15v15h-15zM1061.8 918.8h15v15h-15zM1061.9 917.8h15v15h-15zM1062 916.8h15v15h-15zM1062.1 915.8h15v15h-15zM1062.2 914.8h15v15h-15zM1062.4 913.8h15v15h-15zM1062.5 912.8h15v15h-15zM1062.6 911.8h15v15h-15zM1062.7 910.8h15v15h-15zM1062.8 909.8h15v15h-15zM1062.9 908.8h15v15h-15zM1063 907.8h15v15h-15zM1063.1 906.8h15v15h-15zM1063.3 905.8h15v15h-15zM1063.4 904.8h15v15h-15zM1063.5 903.8h15v15h-15zM1063.6 902.9h15v15h-15zM1063.7 901.9h15v15h-15zM1063.9 900.9h15v15h-15zM1064 899.9h15v15h-15zM1064.1 898.9h15v15h-15zM1064.3 897.9h15v15h-15zM1064.4 896.9h15v15h-15zM1064.5 895.9h15v15h-15zM1064.7 894.9h15v15h-15zM1064.9 893.9h15v15h-15zM1065 893h15v15h-15zM1065.2 892h15v15h-15zM1065.4 891h15v15h-15zM1065.6 890h15v15h-15zM1065.8 889h15v15h-15zM1066 888h15v15h-15zM1066.2 887.1h15v15h-15zM1066.4 886.1h15v15h-15zM1066.5 885.1h15v15h-15zM1066.7 884.1h15v15h-15zM1066.9 883.1h15v15h-15zM1067.1 882.1h15v15h-15zM1067.3 881.2h15v15h-15zM1067.5 880.2h15v15h-15zM1067.6 879.2h15v15h-15zM1067.8 878.2h15v15h-15zM1067.9 877.2h15v15h-15zM1068 876.2h15v15h-15zM1068.2 875.2h15v15h-15zM1068.3 874.2h15v15h-15zM1068.4 873.2h15v15h-15zM1068.5 872.2h15v15h-15zM1068.6 871.2h15v15h-15zM1068.7 870.3h15v15h-15zM1068.8 869.3h15v15h-15zM1068.9 868.3h15v15h-15zM1069 867.3h15v15h-15zM1069.1 866.3h15v15h-15zM1069.2 865.3h15v15h-15zM1069.3 864.3h15v15h-15zM1069.4 863.3h15v15h-15zM1069.5 862.3h15v15h-15zM1069.6 861.3h15v15h-15zM1069.8 860.3h15v15h-15zM1069.9 859.3h15v15h-15zM1070 858.3h15v15h-15zM1070.1 857.3h15v15h-15zM1070.3 856.3h15v15h-15zM1070.4 855.3h15v15h-15zM1070.5 854.3h15v15h-15zM1070.7 853.4h15v15h-15zM1070.8 852.4h15v15h-15zM1070.9 851.4h15v15h-15zM1071.1 850.4h15v15h-15zM1071.2 849.4h15v15h-15zM1071.4 848.4h15v15h-15zM1071.5 847.4h15v15h-15zM1071.7 846.4h15v15h-15zM1071.9 845.4h15v15h-15zM1072 844.4h15v15h-15zM1072.2 843.5h15v15h-15zM1072.4 842.5h15v15h-15zM1072.5 841.5h15v15h-15zM1072.7 840.5h15v15h-15zM1072.9 839.5h15v15h-15zM1073.1 838.5h15v15h-15zM1073.3 837.6h15v15h-15zM1073.5 836.6h15v15h-15zM1073.7 835.6h15v15h-15zM1073.9 834.6h15v15h-15zM1074.1 833.6h15v15h-15zM1074.3 832.7h15v15h-15zM1074.5 831.7h15v15h-15zM1074.8 830.7h15v15h-15zM1075 829.7h15v15h-15zM1075.2 828.8h15v15h-15zM1075.5 827.8h15v15h-15zM1075.7 826.8h15v15h-15zM1076 825.9h15v15h-15zM1076.2 824.9h15v15h-15zM1076.4 823.9h15v15h-15zM1076.7 822.9h15v15h-15zM1076.9 822h15v15h-15zM1077.2 821h15v15h-15zM1077.4 820h15v15h-15zM1077.6 819.1h15v15h-15zM1077.9 818.1h15v15h-15zM1078.1 817.1h15v15h-15zM1078.3 816.1h15v15h-15zM1078.6 815.2h15v15h-15zM1078.8 814.2h15v15h-15zM1079.1 813.2h15v15h-15zM1079.3 812.3h15v15h-15zM1079.5 811.3h15v15h-15zM1079.8 810.3h15v15h-15zM1080 809.3h15v15h-15zM1080.3 808.4h15v15h-15zM1080.5 807.4h15v15h-15zM1080.8 806.4h15v15h-15zM1081 805.5h15v15h-15zM1081.3 804.5h15v15h-15zM1081.6 803.5h15v15h-15zM1081.8 802.6h15v15h-15zM1082.1 801.6h15v15h-15zM1082.3 800.6h15v15h-15zM1082.6 799.7h15v15h-15zM1082.9 798.7h15v15h-15zM1083.2 797.7h15v15h-15zM1083.4 796.8h15v15h-15zM1083.7 795.8h15v15h-15zM1084 794.9h15v15h-15zM1084.3 793.9h15v15h-15zM1084.6 793h15v15h-15zM1084.9 792h15v15h-15zM1085.2 791h15v15h-15zM1085.4 790.1h15v15h-15zM1085.7 789.1h15v15h-15zM1086 788.2h15v15h-15zM1086.3 787.2h15v15h-15zM1086.6 786.2h15v15h-15zM1086.9 785.3h15v15h-15zM1087.2 784.3h15v15h-15zM1087.5 783.4h15v15h-15zM1087.7 782.4h15v15h-15zM1088 781.4h15v15h-15zM1088.3 780.5h15v15h-15zM1088.5 779.5h15v15h-15zM1088.8 778.5h15v15h-15zM1089 777.6h15v15h-15zM1089.3 776.6h15v15h-15zM1089.6 775.6h15v15h-15zM1089.8 774.7h15v15h-15zM1090.1 773.7h15v15h-15zM1090.4 772.8h15v15h-15zM1090.7 771.8h15v15h-15zM1091 770.9h15v15h-15zM1091.3 769.9h15v15h-15zM1091.6 769h15v15h-15zM1092 768h15v15h-15zM1092.3 767.1h15v15h-15zM1092.6 766.1h15v15h-15zM1093 765.2h15v15h-15zM1093.3 764.2h15v15h-15zM1093.7 763.3h15v15h-15zM1094 762.4h15v15h-15zM1094.4 761.5h15v15h-15zM1094.8 760.5h15v15h-15zM1095.2 759.6h15v15h-15zM1095.6 758.7h15v15h-15zM1096 757.8h15v15h-15zM1096.4 756.9h15v15h-15zM1096.8 755.9h15v15h-15zM1097.3 755h15v15h-15zM1097.7 754.1h15v15h-15zM1098.1 753.2h15v15h-15zM1098.6 752.3h15v15h-15zM1099 751.5h15v15h-15zM1099.5 750.6h15v15h-15zM1100 749.7h15v15h-15zM1100.5 748.8h15v15h-15zM1101 748h15v15h-15zM1101.5 747.1h15v15h-15zM1102 746.2h15v15h-15zM1102.5 745.4h15v15h-15zM1103 744.5h15v15h-15zM1103.4 743.6h15v15h-15zM1103.9 742.7h15v15h-15zM1104.3 741.8h15v15h-15zM1104.8 740.9h15v15h-15zM1105.2 740h15v15h-15zM1105.6 739.1h15v15h-15zM1106.1 738.2h15v15h-15zM1106.5 737.3h15v15h-15zM1107 736.4h15v15h-15zM1107.5 735.6h15v15h-15zM1108 734.7h15v15h-15zM1108.5 733.8h15v15h-15zM1109 733h15v15h-15zM1109.6 732.2h15v15h-15zM1110.2 731.3h15v15h-15zM1110.7 730.5h15v15h-15zM1111.3 729.7h15v15h-15zM1111.9 728.9h15v15h-15zM1112.5 728.1h15v15h-15zM1113 727.2h15v15h-15zM1113.6 726.4h15v15h-15zM1114.2 725.6h15v15h-15zM1114.8 724.8h15v15h-15zM1115.4 724h15v15h-15zM1116 723.2h15v15h-15zM1116.6 722.4h15v15h-15zM1117.2 721.6h15v15h-15zM1117.9 720.8h15v15h-15zM1118.5 720h15v15h-15zM1119.1 719.3h15v15h-15zM1119.7 718.5h15v15h-15zM1120.3 717.7h15v15h-15zM1120.9 716.9h15v15h-15zM1121.5 716.1h15v15h-15zM1122.1 715.3h15v15h-15zM1122.7 714.5h15v15h-15zM1123.3 713.7h15v15h-15zM1124 712.9h15v15h-15zM1124.6 712.2h15v15h-15zM1125.2 711.4h15v15h-15zM1125.9 710.6h15v15h-15zM1126.5 709.9h15v15h-15zM1127.2 709.1h15v15h-15zM1127.9 708.4h15v15h-15zM1128.5 707.6h15v15h-15zM1129.2 706.9h15v15h-15zM1129.8 706.1h15v15h-15zM1130.5 705.3h15v15h-15zM1131.2 704.6h15v15h-15zM1131.8 703.8h15v15h-15zM1132.5 703h15v15h-15zM1133.2 702.3h15v15h-15zM1133.8 701.5h15v15h-15zM1134.5 700.8h15v15h-15zM1135.2 700.1h15v15h-15zM1136 699.5h15v15h-15zM1136.7 698.8h15v15h-15zM1137.5 698.2h15v15h-15zM1138.3 697.7h15v15h-15zM1139.1 697.1h15v15h-15zM1140 696.6h15v15h-15zM1140.9 696.1h15v15h-15zM1141.7 695.5h15v15h-15zM1142.6 695h15v15h-15zM1143.5 694.5h15v15h-15zM1144.3 694h15v15h-15zM1145.2 693.5h15v15h-15zM1146.1 693h15v15h-15zM1146.9 692.6h15v15h-15zM1147.8 692.1h15v15h-15zM1148.7 691.6h15v15h-15zM1149.6 691.1h15v15h-15zM1150.5 690.6h15v15h-15zM1151.3 690.1h15v15h-15zM1152.2 689.6h15v15h-15zM1153 689h15v15h-15zM1153.8 688.4h15v15h-15zM1154.6 687.9h15v15h-15zM1155.5 687.3h15v15h-15zM1156.3 686.7h15v15h-15zM1157.1 686.2h15v15h-15zM1158 685.7h15v15h-15zM1158.9 685.3h15v15h-15zM1159.8 684.8h15v15h-15zM1160.7 684.4h15v15h-15zM1161.6 683.9h15v15h-15zM1162.5 683.6h15v15h-15zM1163.5 683.2h15v15h-15zM1164.4 682.9h15v15h-15zM1165.3 682.6h15v15h-15zM1166.3 682.3h15v15h-15zM1167.3 682h15v15h-15zM1168.2 681.8h15v15h-15zM1169.2 681.6h15v15h-15zM1170.2 681.3h15v15h-15zM1171.2 681.1h15v15h-15zM1172.1 680.9h15v15h-15zM1173.1 680.6h15v15h-15zM1174.1 680.3h15v15h-15zM1175 680.1h15v15h-15zM1176 679.8h15v15h-15zM1177 679.4h15v15h-15zM1177.9 679.1h15v15h-15zM1178.9 678.8h15v15h-15zM1179.8 678.6h15v15h-15zM1180.8 678.3h15v15h-15zM1181.8 678.1h15v15h-15zM1182.8 678h15v15h-15zM1183.7 677.8h15v15h-15zM1184.7 677.7h15v15h-15zM1185.7 677.5h15v15h-15zM1186.7 677.4h15v15h-15zM1187.7 677.3h15v15h-15zM1188.7 677.1h15v15h-15zM1189.7 677h15v15h-15zM1190.7 676.9h15v15h-15zM1191.7 676.8h15v15h-15zM1192.7 676.7h15v15h-15zM1193.7 676.6h15v15h-15zM1194.7 676.6h15v15h-15zM1195.7 676.5h15v15h-15zM1196.7 676.5h15v15h-15zM1197.7 676.5h15v15h-15zM1348 1056.5h15v15h-15zM1348 1055.5h15v15h-15zM1347.9 1054.5h15v15h-15zM1347.9 1053.5h15v15h-15zM1347.9 1052.5h15v15h-15zM1347.8 1051.5h15v15h-15zM1347.8 1050.5h15v15h-15zM1347.8 1049.5h15v15h-15zM1347.8 1048.5h15v15h-15zM1347.8 1047.5h15v15h-15zM1347.8 1046.5h15v15h-15zM1347.8 1045.5h15v15h-15zM1347.8 1044.5h15v15h-15zM1347.9 1043.5h15v15h-15zM1347.9 1042.5h15v15h-15zM1347.9 1041.5h15v15h-15zM1348 1040.5h15v15h-15zM1348 1039.5h15v15h-15zM1348.1 1038.5h15v15h-15zM1348.1 1037.5h15v15h-15zM1348.2 1036.5h15v15h-15zM1348.2 1035.5h15v15h-15zM1348.3 1034.5h15v15h-15zM1348.3 1033.5h15v15h-15zM1348.4 1032.5h15v15h-15zM1348.4 1031.5h15v15h-15zM1348.5 1030.5h15v15h-15zM1348.6 1029.5h15v15h-15zM1348.6 1028.5h15v15h-15zM1348.7 1027.5h15v15h-15zM1348.8 1026.5h15v15h-15zM1348.9 1025.5h15v15h-15zM1348.9 1024.5h15v15h-15zM1349 1023.5h15v15h-15zM1349.1 1022.5h15v15h-15zM1349.3 1021.6h15v15h-15zM1349.4 1020.6h15v15h-15zM1349.5 1019.6h15v15h-15zM1349.6 1018.6h15v15h-15zM1349.7 1017.6h15v15h-15zM1349.8 1016.6h15v15h-15zM1349.9 1015.6h15v15h-15zM1350 1014.6h15v15h-15zM1350.2 1013.6h15v15h-15zM1350.3 1012.6h15v15h-15zM1350.4 1011.6h15v15h-15zM1350.4 1010.6h15v15h-15zM1350.5 1009.6h15v15h-15zM1350.6 1008.6h15v15h-15zM1350.7 1007.6h15v15h-15zM1350.8 1006.6h15v15h-15zM1350.8 1005.6h15v15h-15zM1350.9 1004.6h15v15h-15zM1351 1003.6h15v15h-15zM1351.1 1002.6h15v15h-15zM1351.1 1001.6h15v15h-15zM1351.2 1000.6h15v15h-15zM1351.3 999.6h15v15h-15zM1351.4 998.6h15v15h-15zM1351.4 997.6h15v15h-15zM1351.5 996.7h15v15h-15zM1351.6 995.7h15v15h-15zM1351.6 994.7h15v15h-15zM1351.7 993.7h15v15h-15zM1351.8 992.7h15v15h-15zM1351.8 991.7h15v15h-15zM1351.9 990.7h15v15h-15zM1352 989.7h15v15h-15zM1352.1 988.7h15v15h-15zM1352.2 987.7h15v15h-15zM1352.2 986.7h15v15h-15zM1352.3 985.7h15v15h-15zM1352.4 984.7h15v15h-15zM1352.5 983.7h15v15h-15zM1352.6 982.7h15v15h-15zM1352.6 981.7h15v15h-15zM1352.7 980.7h15v15h-15zM1352.8 979.7h15v15h-15zM1352.9 978.7h15v15h-15zM1353 977.7h15v15h-15zM1353 976.7h15v15h-15zM1353.1 975.7h15v15h-15zM1353.2 974.7h15v15h-15zM1353.3 973.7h15v15h-15zM1353.4 972.7h15v15h-15zM1353.4 971.7h15v15h-15zM1353.5 970.7h15v15h-15zM1353.6 969.7h15v15h-15zM1353.6 968.7h15v15h-15zM1353.7 967.7h15v15h-15zM1353.8 966.7h15v15h-15zM1353.8 965.7h15v15h-15zM1353.9 964.7h15v15h-15zM1354 963.7h15v15h-15zM1354 962.7h15v15h-15zM1354.1 961.7h15v15h-15zM1354.2 960.7h15v15h-15zM1354.2 959.7h15v15h-15zM1354.3 958.7h15v15h-15zM1354.4 957.7h15v15h-15zM1354.5 956.8h15v15h-15zM1354.5 955.8h15v15h-15zM1354.6 954.8h15v15h-15zM1354.7 953.8h15v15h-15zM1354.8 952.8h15v15h-15zM1354.9 951.8h15v15h-15zM1355.1 950.8h15v15h-15zM1355.2 949.8h15v15h-15zM1355.4 948.8h15v15h-15zM1355.5 947.8h15v15h-15zM1355.7 946.9h15v15h-15zM1355.9 945.9h15v15h-15zM1356 944.9h15v15h-15zM1356.2 943.9h15v15h-15zM1356.4 942.9h15v15h-15zM1356.6 941.9h15v15h-15zM1356.8 940.9h15v15h-15zM1357 940h15v15h-15zM1357.2 939h15v15h-15zM1357.4 938h15v15h-15zM1357.6 937h15v15h-15zM1357.8 936h15v15h-15zM1357.9 935h15v15h-15zM1358.1 934.1h15v15h-15zM1358.3 933.1h15v15h-15zM1358.5 932.1h15v15h-15zM1358.6 931.1h15v15h-15zM1358.8 930.1h15v15h-15zM1359 929.1h15v15h-15zM1359.2 928.2h15v15h-15zM1359.4 927.2h15v15h-15zM1359.5 926.2h15v15h-15zM1359.7 925.2h15v15h-15zM1359.9 924.2h15v15h-15zM1360.1 923.2h15v15h-15zM1360.2 922.3h15v15h-15zM1360.4 921.3h15v15h-15zM1360.6 920.3h15v15h-15zM1360.8 919.3h15v15h-15zM1360.9 918.3h15v15h-15zM1361.1 917.3h15v15h-15zM1361.3 916.3h15v15h-15zM1361.5 915.4h15v15h-15zM1361.6 914.4h15v15h-15zM1361.8 913.4h15v15h-15zM1362 912.4h15v15h-15zM1362.2 911.4h15v15h-15zM1362.3 910.4h15v15h-15zM1362.5 909.4h15v15h-15zM1362.6 908.5h15v15h-15zM1362.8 907.5h15v15h-15zM1363 906.5h15v15h-15zM1363.1 905.5h15v15h-15zM1363.3 904.5h15v15h-15zM1363.5 903.5h15v15h-15zM1363.6 902.5h15v15h-15zM1363.8 901.6h15v15h-15zM1364 900.6h15v15h-15zM1364.2 899.6h15v15h-15zM1364.3 898.6h15v15h-15zM1364.5 897.6h15v15h-15zM1364.7 896.6h15v15h-15zM1364.9 895.7h15v15h-15zM1365.1 894.7h15v15h-15zM1365.3 893.7h15v15h-15zM1365.5 892.7h15v15h-15zM1365.7 891.7h15v15h-15zM1365.9 890.8h15v15h-15zM1366.1 889.8h15v15h-15zM1366.4 888.8h15v15h-15zM1366.6 887.8h15v15h-15zM1366.8 886.9h15v15h-15zM1367 885.9h15v15h-15zM1367.3 884.9h15v15h-15zM1367.5 883.9h15v15h-15zM1367.7 883h15v15h-15zM1367.9 882h15v15h-15zM1368.2 881h15v15h-15zM1368.4 880h15v15h-15zM1368.6 879.1h15v15h-15zM1368.8 878.1h15v15h-15zM1369 877.1h15v15h-15zM1369.3 876.1h15v15h-15zM1369.5 875.2h15v15h-15zM1369.7 874.2h15v15h-15zM1369.9 873.2h15v15h-15zM1370.1 872.2h15v15h-15zM1370.4 871.3h15v15h-15zM1370.6 870.3h15v15h-15zM1370.8 869.3h15v15h-15zM1371 868.3h15v15h-15zM1371.3 867.4h15v15h-15zM1371.5 866.4h15v15h-15zM1371.7 865.4h15v15h-15zM1371.9 864.4h15v15h-15zM1372.1 863.5h15v15h-15zM1372.4 862.5h15v15h-15zM1372.6 861.5h15v15h-15zM1372.8 860.5h15v15h-15zM1373 859.6h15v15h-15zM1373.2 858.6h15v15h-15zM1373.5 857.6h15v15h-15zM1373.7 856.6h15v15h-15zM1373.9 855.7h15v15h-15zM1374.1 854.7h15v15h-15zM1374.3 853.7h15v15h-15zM1374.5 852.7h15v15h-15zM1374.7 851.7h15v15h-15zM1374.9 850.8h15v15h-15zM1375.1 849.8h15v15h-15zM1375.3 848.8h15v15h-15zM1375.5 847.8h15v15h-15zM1375.8 846.8h15v15h-15zM1376 845.9h15v15h-15zM1376.2 844.9h15v15h-15zM1376.4 843.9h15v15h-15zM1376.6 842.9h15v15h-15zM1376.9 842h15v15h-15zM1377.1 841h15v15h-15zM1377.3 840h15v15h-15zM1377.6 839.1h15v15h-15zM1377.8 838.1h15v15h-15zM1378.1 837.1h15v15h-15zM1378.4 836.2h15v15h-15zM1378.6 835.2h15v15h-15zM1378.9 834.2h15v15h-15zM1379.2 833.3h15v15h-15zM1379.5 832.3h15v15h-15zM1379.8 831.4h15v15h-15zM1380.1 830.4h15v15h-15zM1380.4 829.5h15v15h-15zM1380.7 828.5h15v15h-15zM1381 827.5h15v15h-15zM1381.3 826.6h15v15h-15zM1381.6 825.6h15v15h-15zM1381.9 824.7h15v15h-15zM1382.2 823.7h15v15h-15zM1382.5 822.8h15v15h-15zM1382.8 821.8h15v15h-15zM1383.1 820.9h15v15h-15zM1383.5 819.9h15v15h-15zM1383.8 819h15v15h-15zM1384.1 818.1h15v15h-15zM1384.4 817.1h15v15h-15zM1384.8 816.2h15v15h-15zM1385.1 815.2h15v15h-15zM1385.5 814.3h15v15h-15zM1385.8 813.4h15v15h-15zM1386.2 812.4h15v15h-15zM1386.6 811.5h15v15h-15zM1386.9 810.6h15v15h-15zM1387.3 809.6h15v15h-15zM1387.6 808.7h15v15h-15zM1388 807.8h15v15h-15zM1388.4 806.8h15v15h-15zM1388.7 805.9h15v15h-15zM1389.1 805h15v15h-15zM1389.4 804h15v15h-15zM1389.7 803.1h15v15h-15zM1390.1 802.1h15v15h-15zM1390.4 801.2h15v15h-15zM1390.7 800.2h15v15h-15zM1391 799.3h15v15h-15zM1391.4 798.3h15v15h-15zM1391.7 797.4h15v15h-15zM1392 796.4h15v15h-15zM1392.3 795.5h15v15h-15zM1392.6 794.5h15v15h-15zM1392.9 793.6h15v15h-15zM1393.2 792.6h15v15h-15zM1393.5 791.7h15v15h-15zM1393.8 790.7h15v15h-15zM1394.1 789.8h15v15h-15zM1394.4 788.8h15v15h-15zM1394.7 787.8h15v15h-15zM1395 786.9h15v15h-15zM1395.3 785.9h15v15h-15zM1395.6 785h15v15h-15zM1395.9 784.1h15v15h-15zM1396.3 783.1h15v15h-15zM1396.6 782.2h15v15h-15zM1397 781.2h15v15h-15zM1397.3 780.3h15v15h-15zM1397.7 779.4h15v15h-15zM1398 778.4h15v15h-15zM1398.4 777.5h15v15h-15zM1398.7 776.6h15v15h-15zM1399.1 775.6h15v15h-15zM1399.5 774.7h15v15h-15zM1399.9 773.8h15v15h-15zM1400.2 772.9h15v15h-15zM1400.6 771.9h15v15h-15zM1401 771h15v15h-15zM1401.4 770.1h15v15h-15zM1401.8 769.2h15v15h-15zM1402.2 768.2h15v15h-15zM1402.6 767.3h15v15h-15zM1403 766.4h15v15h-15zM1403.4 765.5h15v15h-15zM1403.8 764.6h15v15h-15zM1404.2 763.7h15v15h-15zM1404.6 762.7h15v15h-15zM1405 761.8h15v15h-15zM1405.4 760.9h15v15h-15zM1405.8 760h15v15h-15zM1406.2 759.1h15v15h-15zM1406.7 758.2h15v15h-15zM1407.1 757.3h15v15h-15zM1407.5 756.4h15v15h-15zM1408 755.5h15v15h-15zM1408.5 754.6h15v15h-15zM1408.9 753.7h15v15h-15zM1409.4 752.9h15v15h-15zM1409.9 752h15v15h-15zM1410.4 751.1h15v15h-15zM1410.8 750.2h15v15h-15zM1411.3 749.4h15v15h-15zM1411.8 748.5h15v15h-15zM1412.3 747.6h15v15h-15zM1412.8 746.7h15v15h-15zM1413.3 745.9h15v15h-15zM1413.8 745h15v15h-15zM1414.3 744.1h15v15h-15zM1414.7 743.2h15v15h-15zM1415.2 742.4h15v15h-15zM1415.7 741.5h15v15h-15zM1416.2 740.6h15v15h-15zM1416.7 739.7h15v15h-15zM1417.2 738.9h15v15h-15zM1417.7 738h15v15h-15zM1418.2 737.1h15v15h-15zM1418.7 736.3h15v15h-15zM1419.2 735.4h15v15h-15zM1419.8 734.6h15v15h-15zM1420.3 733.8h15v15h-15zM1420.9 732.9h15v15h-15zM1421.5 732.1h15v15h-15zM1422.1 731.3h15v15h-15zM1422.7 730.5h15v15h-15zM1423.3 729.7h15v15h-15zM1423.9 728.9h15v15h-15zM1424.5 728.1h15v15h-15zM1425.1 727.3h15v15h-15zM1425.7 726.5h15v15h-15zM1426.3 725.8h15v15h-15zM1426.9 725h15v15h-15zM1427.5 724.2h15v15h-15zM1428.1 723.4h15v15h-15zM1428.7 722.6h15v15h-15zM1429.3 721.8h15v15h-15zM1429.9 721h15v15h-15zM1430.5 720.2h15v15h-15zM1431.1 719.4h15v15h-15zM1431.7 718.6h15v15h-15zM1432.4 717.8h15v15h-15zM1433 717h15v15h-15zM1433.6 716.2h15v15h-15zM1434.2 715.4h15v15h-15zM1434.9 714.7h15v15h-15zM1435.5 713.9h15v15h-15zM1436.1 713.1h15v15h-15zM1436.8 712.4h15v15h-15zM1437.4 711.6h15v15h-15zM1438.1 710.8h15v15h-15zM1438.7 710.1h15v15h-15zM1439.4 709.3h15v15h-15zM1440.1 708.6h15v15h-15zM1440.8 707.8h15v15h-15zM1441.4 707.1h15v15h-15zM1442.1 706.4h15v15h-15zM1442.8 705.7h15v15h-15zM1443.5 705h15v15h-15zM1444.2 704.3h15v15h-15zM1445 703.6h15v15h-15zM1445.7 702.9h15v15h-15zM1446.4 702.2h15v15h-15zM1447.2 701.6h15v15h-15zM1447.9 700.9h15v15h-15zM1448.7 700.2h15v15h-15zM1449.4 699.6h15v15h-15zM1450.2 698.9h15v15h-15zM1451 698.3h15v15h-15zM1451.8 697.7h15v15h-15zM1452.5 697.1h15v15h-15zM1453.3 696.5h15v15h-15zM1454.1 695.9h15v15h-15zM1455 695.3h15v15h-15zM1455.8 694.7h15v15h-15zM1456.6 694.1h15v15h-15zM1457.4 693.6h15v15h-15zM1458.2 693h15v15h-15zM1459.1 692.4h15v15h-15zM1459.9 691.9h15v15h-15zM1460.7 691.3h15v15h-15zM1461.6 690.8h15v15h-15zM1462.4 690.3h15v15h-15zM1463.3 689.7h15v15h-15zM1464.1 689.2h15v15h-15zM1465 688.7h15v15h-15zM1465.8 688.1h15v15h-15zM1466.7 687.6h15v15h-15zM1467.5 687.1h15v15h-15zM1468.4 686.6h15v15h-15zM1469.3 686.1h15v15h-15zM1470.2 685.6h15v15h-15zM1471 685.2h15v15h-15zM1471.9 684.7h15v15h-15zM1472.8 684.2h15v15h-15zM1473.7 683.7h15v15h-15zM1474.6 683.2h15v15h-15zM1475.5 682.8h15v15h-15zM1476.4 682.3h15v15h-15zM1477.3 681.9h15v15h-15zM1478.2 681.5h15v15h-15zM1479.1 681.1h15v15h-15zM1480 680.7h15v15h-15zM1480.9 680.3h15v15h-15zM1481.9 680h15v15h-15zM1482.8 679.7h15v15h-15zM1483.8 679.4h15v15h-15zM1484.7 679.1h15v15h-15zM1485.7 678.9h15v15h-15zM1486.6 678.6h15v15h-15zM1487.6 678.3h15v15h-15zM1488.6 678h15v15h-15zM1489.5 677.8h15v15h-15zM1490.5 677.5h15v15h-15zM1491.5 677.2h15v15h-15zM1492.4 677h15v15h-15zM1493.4 676.7h15v15h-15zM1494.4 676.4h15v15h-15zM1495.4 676.2h15v15h-15zM1496.3 675.9h15v15h-15zM1497.3 675.7h15v15h-15zM1498.3 675.4h15v15h-15zM1499.2 675.1h15v15h-15zM1500.2 674.8h15v15h-15zM1501.1 674.5h15v15h-15zM1502.1 674.2h15v15h-15zM1503 673.8h15v15h-15zM1503.9 673.3h15v15h-15zM1504.7 672.7h15v15h-15zM1505.6 672.1h15v15h-15zM1506.4 671.5h15v15h-15zM1507.3 670.8h15v15h-15zM1508.1 670.2h15v15h-15zM1509 669.7h15v15h-15zM1509.9 669.3h15v15h-15zM1510.8 669.1h15v15h-15zM1511.7 669h15v15h-15zM1512.6 669h15v15h-15zM1513.6 669h15v15h-15zM1514.6 669h15v15h-15zM1515.6 669.1h15v15h-15zM1516.6 669.1h15v15h-15zM1517.6 669.2h15v15h-15zM1518.7 669.3h15v15h-15zM1519.7 669.5h15v15h-15z" fill="#00FF00"/></g>
<g font-family="Liberation Sans, Arial, sans-serif" font-size="54" fill="#000"><text x="374.9" y="1502.6" text-anchor="middle">160</text><text x="671.8" y="1502.6" text-anchor="middle">200</text><text x="968.7" y="1502.6" text-anchor="middle">240</text><text x="1265.5" y="1502.6" text-anchor="middle">280</text><text x="1562.4" y="1502.6" text-anchor="middle">320</text><text x="1859.3" y="1502.6" text-anchor="middle">360</text><text x="2156.2" y="1502.6" text-anchor="middle">400</text><text x="262" y="137.8" text-anchor="end">0.00</text><text x="262" y="636.5" text-anchor="end">-0.03</text><text x="262" y="1135.1" text-anchor="end">-0.06</text></g>
<text x="1086" y="1552" font-family="Liberation Sans, Arial, sans-serif" font-weight="bold" font-size="64">Time / s</text>
<text transform="translate(88.5 1163.5) rotate(-90)" font-family="Liberation Sans, Arial, sans-serif" font-weight="bold" font-size="66">current density / mA/cm<tspan dy="-35" font-size="38" font-weight="normal">2</tspan></text>
<text x="2010.8 2035.9 2083.6" y="138.6" font-family="Liberation Sans, Arial, sans-serif" font-size="73.5">(a)</text>
<path d="M1798.6 277H1839M1904 277H1944.5" stroke="#E4573C" stroke-width="2.6"/>
<circle cx="1870.5" cy="277" r="7.6" fill="#E4573C"/>
<text x="1980.8 2017.1" y="297.9" font-family="Liberation Sans, Arial, sans-serif" font-size="62">0V</text>
<path d="M1798.6 358.8H1839M1904 358.8H1944.5" stroke="#800080" stroke-width="2.6"/>
<rect x="1865" y="349.6" width="13.2" height="14" fill="#800080"/>
<text x="1980.8 2018.5 2036.2 2070.7" y="379.4" font-family="Liberation Sans, Arial, sans-serif" font-size="62">0.1V</text>
<path d="M1798.6 438H1839M1904 438H1944.5" stroke="#F0B9C3" stroke-width="2.6"/>
<rect x="1865" y="430.3" width="13.2" height="14" fill="#F0B9C3"/>
<text x="1961.2 1984.9 2022.5 2040.6 2074.7" y="459.4" font-family="Liberation Sans, Arial, sans-serif" font-size="62">-0.1V</text>
<path d="M1798.6 519.8H1839M1904 519.8H1944.5" stroke="#00FF00" stroke-width="2.6"/>
<rect x="1865" y="511.2" width="13.2" height="14" fill="#00FF00"/>
<text x="1961.2 1984.9 2022.5 2039.5 2074.7" y="540.5" font-family="Liberation Sans, Arial, sans-serif" font-size="62">-0.4V</text>
<path d="M1345.9 44.9L1348.9 42.5L1351.9 44.9V62H1358.6V64.1H1360.8V70H1358.6V78.7H1356.5V87.1H1354.1V95.7H1351.9V100.3L1348.9 102.5L1346.2 100.3V95.7H1343.8V87.1H1341.6V78.7H1339.5V70H1337V64.1H1339.5V62H1345.9Z" fill="#000"/>
<text x="1369.4 1406" y="85.2" font-family="Liberation Sans, Arial, sans-serif" font-size="60">on</text>
<path d="M1211.5 709L1214.6 711.8V716H1216.7V724.3H1217V729.2H1218.8V739H1221.2V745.2H1219.1V748H1212.9V789L1209.5 790.8L1206.3 789V748H1202.1V745.2H1200V739H1202.1V729.2H1204.2V724.3H1206.3V716H1208.3V711.8Z" fill="#000"/>
<text x="1227.5 1263.4 1280.5" y="797" font-family="Liberation Sans, Arial, sans-serif" font-size="61">off</text>
<rect x="1694.6" y="804.6" width="444" height="471.8" fill="none" stroke="#000" stroke-width="6.2"/>
<path d="M1694.6 874.8H1725.6M1694.6 945.7H1725.6M1694.6 1016.6H1725.6M1694.6 1087.5H1725.6M1694.6 1158.4H1725.6M1694.6 1229.3H1725.6M1694.6 839.3H1710.6M1694.6 910.2H1710.6M1694.6 981.1H1710.6M1694.6 1052H1710.6M1694.6 1122.9H1710.6M1694.6 1193.8H1710.6M1694.6 1264.7H1710.6M1820.6 1276.4V1245.5M1947.7 1276.4V1245.5M2074.8 1276.4V1245.5M1757.1 1276.4V1261.1M1884.1 1276.4V1261.1M2011.2 1276.4V1261.1" stroke="#000" stroke-width="6" fill="none"/>
<g font-family="Liberation Sans, Arial, sans-serif" font-size="42.5" fill="#000"><text x="1539.1 1556.4 1580.3 1593.3 1616.7 1640.2" y="813.9">-0.030</text><text x="1539.1 1556.4 1580.3 1593.3 1616.7 1640.2" y="884.8">-0.027</text><text x="1539.1 1556.4 1580.3 1593.3 1616.7 1640.2" y="955.7">-0.024</text><text x="1539.1 1556.4 1580.3 1593.3 1616.7 1640.2" y="1026.6">-0.021</text><text x="1539.1 1556.4 1580.3 1593.3 1616.7 1640.2" y="1097.5">-0.018</text><text x="1539.1 1556.4 1580.3 1593.3 1616.7 1640.2" y="1168.4">-0.015</text><text x="1539.1 1556.4 1580.3 1593.3 1616.7 1640.2" y="1239.3">-0.012</text><text x="1693.3" y="1338.7" text-anchor="middle">0.2</text><text x="1819.9" y="1338.7" text-anchor="middle">0.0</text><text x="1946.4" y="1338.7" text-anchor="middle">-0.2</text><text x="2073.4" y="1338.7" text-anchor="middle">-0.4</text></g>
<text x="1755.5" y="1382.2" font-family="Liberation Sans, Arial, sans-serif" font-size="44.4">Initial Potential (V)</text>
<text x="1736 1761.7 1808.8" y="884.6" font-family="Liberation Sans, Arial, sans-serif" font-size="73">(b)</text>
<text transform="translate(1496.2 1418.5) rotate(-90)" font-family="Liberation Sans, Arial, sans-serif" font-size="47">current density change (mA/cm<tspan dy="-26" font-size="30">2</tspan><tspan dy="26">)</tspan></text>
<path d="M1760.2 1180.6L1813.8 1044.7M1831.8 1014.4L1874.3 953.2M1900.3 932.3L2057.4 878.2" stroke="#000" stroke-width="3.6" fill="none"/>
<path d="M1758 1179.2L1773.2 1204.5H1742.8Z" fill="#000"/>
<path d="M1819.9 1011.5L1835.1 1038.9H1804.7Z" fill="#000"/>
<path d="M1884.4 921.4L1899.6 948.8H1869.2Z" fill="#000"/>
<path d="M2075.4 855.1L2090.6 880.4H2060.2Z" fill="#000"/>
</svg>
</body></html>
